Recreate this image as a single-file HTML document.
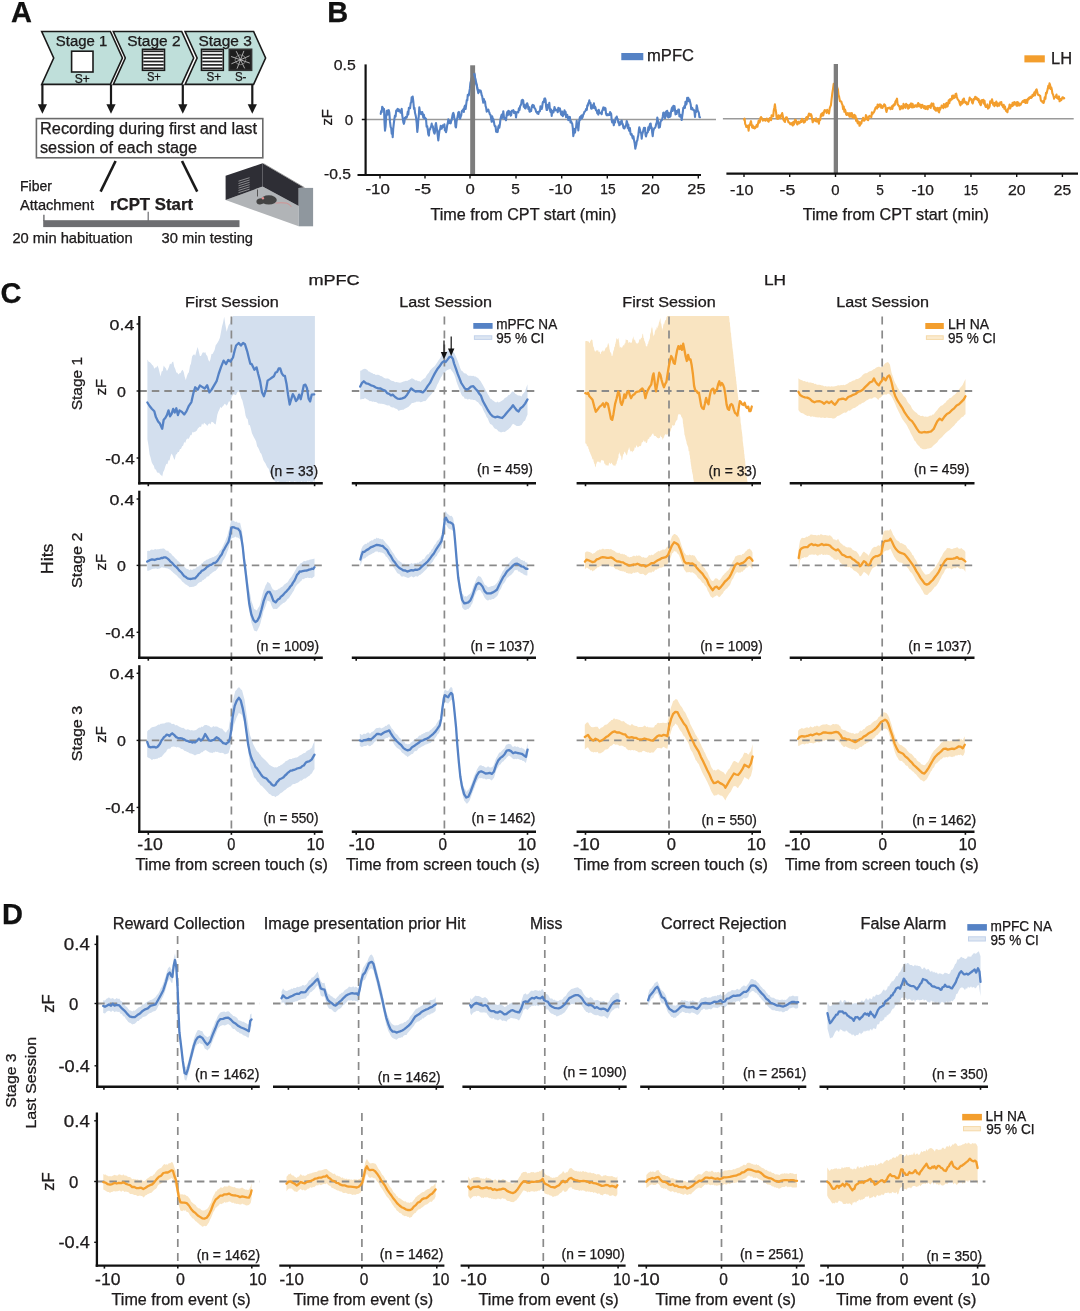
<!DOCTYPE html>
<html><head><meta charset="utf-8"><style>
html,body{margin:0;padding:0;background:#fff;}
svg{display:block;will-change:transform;}
text{font-family:"Liberation Sans",sans-serif;stroke:currentColor;stroke-width:0.25px;}
</style></head><body>
<svg width="1080" height="1311" viewBox="0 0 1080 1311" fill="#231f20">
<rect width="1080" height="1311" fill="#fff"/>
<text x="10.9" y="21.9" font-size="29" font-weight="bold" fill="#111">A</text>
<polygon points="41.7,31.5 110.4,31.5 122.4,58.0 110.4,84.4 41.7,84.4 53.7,58.0" fill="#bfdfda" stroke="#1a1a1a" stroke-width="1.6" stroke-linejoin="miter"/>
<polygon points="113.3,31.5 181.7,31.5 193.7,58.0 181.7,84.4 113.3,84.4 125.3,58.0" fill="#bfdfda" stroke="#1a1a1a" stroke-width="1.6" stroke-linejoin="miter"/>
<polygon points="185.1,31.5 253.6,31.5 265.6,58.0 253.6,84.4 185.1,84.4 197.1,58.0" fill="#bfdfda" stroke="#1a1a1a" stroke-width="1.6" stroke-linejoin="miter"/>
<text x="55.8" y="45.8" font-size="14" textLength="51.4" lengthAdjust="spacingAndGlyphs">Stage 1</text>
<text x="127.2" y="45.8" font-size="14" textLength="53.3" lengthAdjust="spacingAndGlyphs">Stage 2</text>
<text x="198.5" y="45.8" font-size="14" textLength="53.3" lengthAdjust="spacingAndGlyphs">Stage 3</text>
<rect x="71.6" y="51.2" width="21.4" height="20.8" fill="#fff" stroke="#1a1a1a" stroke-width="1.6"/>
<rect x="142.5" y="49.3" width="22.0" height="21.0" fill="#fff" stroke="#1a1a1a" stroke-width="1.6"/>
<line x1="143.3" y1="51.3" x2="163.7" y2="51.3" stroke="#222" stroke-width="1.7"/>
<line x1="143.3" y1="54.7" x2="163.7" y2="54.7" stroke="#222" stroke-width="1.7"/>
<line x1="143.3" y1="58.1" x2="163.7" y2="58.1" stroke="#222" stroke-width="1.7"/>
<line x1="143.3" y1="61.5" x2="163.7" y2="61.5" stroke="#222" stroke-width="1.7"/>
<line x1="143.3" y1="64.9" x2="163.7" y2="64.9" stroke="#222" stroke-width="1.7"/>
<line x1="143.3" y1="68.3" x2="163.7" y2="68.3" stroke="#222" stroke-width="1.7"/>
<rect x="201.5" y="49.3" width="21.8" height="21.0" fill="#fff" stroke="#1a1a1a" stroke-width="1.6"/>
<line x1="202.3" y1="51.3" x2="222.5" y2="51.3" stroke="#222" stroke-width="1.7"/>
<line x1="202.3" y1="54.7" x2="222.5" y2="54.7" stroke="#222" stroke-width="1.7"/>
<line x1="202.3" y1="58.1" x2="222.5" y2="58.1" stroke="#222" stroke-width="1.7"/>
<line x1="202.3" y1="61.5" x2="222.5" y2="61.5" stroke="#222" stroke-width="1.7"/>
<line x1="202.3" y1="64.9" x2="222.5" y2="64.9" stroke="#222" stroke-width="1.7"/>
<line x1="202.3" y1="68.3" x2="222.5" y2="68.3" stroke="#222" stroke-width="1.7"/>
<rect x="229.3" y="49.3" width="22.3" height="21.0" fill="#1e1e1e" stroke="#333" stroke-width="1.6"/>
<line x1="240.5" y1="59.8" x2="249.8" y2="63.1" stroke="#cfcfcf" stroke-width="0.8"/>
<line x1="240.5" y1="59.8" x2="244.7" y2="68.4" stroke="#cfcfcf" stroke-width="0.8"/>
<line x1="240.5" y1="59.8" x2="237.0" y2="68.7" stroke="#cfcfcf" stroke-width="0.8"/>
<line x1="240.5" y1="59.8" x2="231.4" y2="63.8" stroke="#cfcfcf" stroke-width="0.8"/>
<line x1="240.5" y1="59.8" x2="231.1" y2="56.5" stroke="#cfcfcf" stroke-width="0.8"/>
<line x1="240.5" y1="59.8" x2="236.2" y2="51.2" stroke="#cfcfcf" stroke-width="0.8"/>
<line x1="240.5" y1="59.8" x2="243.9" y2="50.9" stroke="#cfcfcf" stroke-width="0.8"/>
<line x1="240.5" y1="59.8" x2="249.5" y2="55.8" stroke="#cfcfcf" stroke-width="0.8"/>
<polygon points="244.7,63.0 240.9,64.8 236.9,63.6 235.0,60.2 236.2,56.6 240.0,54.8 244.0,56.0 245.9,59.4" fill="none" stroke="#aaa" stroke-width="0.6"/>
<text x="74.8" y="83.0" font-size="12" textLength="15.0" lengthAdjust="spacingAndGlyphs">S+</text>
<text x="146.9" y="81.2" font-size="12" textLength="14.0" lengthAdjust="spacingAndGlyphs">S+</text>
<text x="206.4" y="81.2" font-size="12" textLength="14.6" lengthAdjust="spacingAndGlyphs">S+</text>
<text x="234.9" y="81.2" font-size="12" textLength="11.5" lengthAdjust="spacingAndGlyphs">S-</text>
<line x1="42.4" y1="84.4" x2="42.4" y2="106.0" stroke="#1a1a1a" stroke-width="2.2"/>
<polygon points="37.8,104.2 47.0,104.2 42.4,113.8" fill="#1a1a1a"/>
<line x1="111.0" y1="84.4" x2="111.0" y2="106.0" stroke="#1a1a1a" stroke-width="2.2"/>
<polygon points="106.4,104.2 115.6,104.2 111.0,113.8" fill="#1a1a1a"/>
<line x1="182.8" y1="84.4" x2="182.8" y2="106.0" stroke="#1a1a1a" stroke-width="2.2"/>
<polygon points="178.2,104.2 187.4,104.2 182.8,113.8" fill="#1a1a1a"/>
<line x1="252.3" y1="84.4" x2="252.3" y2="106.0" stroke="#1a1a1a" stroke-width="2.2"/>
<polygon points="247.7,104.2 256.9,104.2 252.3,113.8" fill="#1a1a1a"/>
<rect x="36.4" y="118.6" width="226.4" height="39.2" fill="#fff" stroke="#6a6a6a" stroke-width="1.6"/>
<text x="40.0" y="133.9" font-size="15.8" textLength="217.0" lengthAdjust="spacingAndGlyphs">Recording during first and last</text>
<text x="40.0" y="153.2" font-size="15.8" textLength="157.0" lengthAdjust="spacingAndGlyphs">session of each stage</text>
<line x1="115.6" y1="161.0" x2="100.6" y2="191.6" stroke="#1a1a1a" stroke-width="2.6"/>
<line x1="182.0" y1="161.0" x2="197.2" y2="191.6" stroke="#1a1a1a" stroke-width="2.6"/>
<text x="20.0" y="190.6" font-size="14.3" textLength="32.0" lengthAdjust="spacingAndGlyphs">Fiber</text>
<text x="20.0" y="210.2" font-size="14.3" textLength="74.0" lengthAdjust="spacingAndGlyphs">Attachment</text>
<text x="110.0" y="210.2" font-size="16.6" textLength="83.0" lengthAdjust="spacingAndGlyphs" font-weight="bold">rCPT Start</text>
<rect x="43.2" y="220.2" width="196.3" height="6.9" fill="#6d6e71"/>
<line x1="43.9" y1="214.8" x2="43.9" y2="221.0" stroke="#6d6e71" stroke-width="1.4"/>
<line x1="148.2" y1="211.8" x2="148.2" y2="221.0" stroke="#6d6e71" stroke-width="1.2"/>
<text x="12.4" y="242.7" font-size="14.6" textLength="120.3" lengthAdjust="spacingAndGlyphs">20 min habituation</text>
<text x="161.5" y="242.7" font-size="14.6" textLength="91.5" lengthAdjust="spacingAndGlyphs">30 min testing</text>
<polygon points="225.6,199.9 262.6,186.5 298.7,205.9 298.7,226.3" fill="#b1b4b7"/>
<polygon points="225.6,175.8 262.6,163.3 262.6,186.5 225.6,199.9" fill="#2e2e35"/>
<polygon points="262.6,163.3 304.0,187.6 298.7,188.0 298.7,205.9 262.6,186.5" fill="#2e2e35"/>
<line x1="263.5" y1="163.6" x2="304.5" y2="187.6" stroke="#888" stroke-width="0.8"/>
<rect x="298.7" y="187.9" width="14.4" height="38.4" fill="#8f979e"/>
<line x1="238.5" y1="181.2" x2="249.6" y2="177.7" stroke="#c8c8c8" stroke-width="0.6"/>
<line x1="238.5" y1="183.5" x2="249.6" y2="180.0" stroke="#c8c8c8" stroke-width="0.6"/>
<line x1="238.5" y1="185.8" x2="249.6" y2="182.3" stroke="#c8c8c8" stroke-width="0.6"/>
<line x1="238.5" y1="188.1" x2="249.6" y2="184.6" stroke="#c8c8c8" stroke-width="0.6"/>
<line x1="238.5" y1="190.4" x2="249.6" y2="186.9" stroke="#c8c8c8" stroke-width="0.6"/>
<line x1="238.5" y1="192.7" x2="249.6" y2="189.2" stroke="#c8c8c8" stroke-width="0.6"/>
<line x1="257.5" y1="189.5" x2="257.5" y2="196.5" stroke="#555" stroke-width="1.0"/>
<ellipse cx="268.8" cy="199.9" rx="8.0" ry="4.6" fill="#444"/>
<ellipse cx="260.3" cy="201.4" rx="3.9" ry="3.0" fill="#444" transform="rotate(-15 260.3 201.4)"/>
<circle cx="262.9" cy="198.2" r="1.2" fill="#e39090"/>
<path d="M275.6 203.1 Q281 202.4 286.7 203.1 Q290.4 204.6 291.3 206.9" fill="none" stroke="#d98a8a" stroke-width="0.8"/>
<text x="327.3" y="22.4" font-size="29" font-weight="bold" fill="#111">B</text>
<line x1="365.6" y1="119.5" x2="716.0" y2="119.5" stroke="#9a9a9a" stroke-width="1.5"/>
<polyline points="380.7,113.9 381.2,111.0 381.7,112.1 382.2,106.7 382.7,107.5 383.3,108.7 384.0,109.0 384.5,122.5 385.0,130.6 385.6,126.3 386.1,117.4 386.7,110.9 387.2,112.5 387.7,114.6 388.3,110.1 388.8,110.3 389.3,112.4 390.0,121.9 390.7,127.1 391.2,128.1 391.7,133.7 392.2,130.2 392.7,137.2 393.2,129.2 393.8,123.7 394.4,119.0 395.0,115.5 395.6,116.5 396.2,110.6 396.8,110.9 397.3,109.2 397.8,108.8 398.3,111.1 398.8,109.5 399.3,110.7 399.9,110.7 400.5,112.7 401.1,110.4 401.7,108.9 402.2,115.0 402.8,118.6 403.3,122.1 403.9,123.8 404.4,121.9 404.9,117.8 405.5,118.4 406.0,116.8 406.6,117.7 407.2,115.5 407.8,111.6 408.3,114.5 408.9,107.7 409.5,107.8 410.1,108.2 410.7,102.9 411.2,102.4 411.7,97.2 412.2,98.5 412.7,96.6 413.3,101.3 414.0,108.9 414.5,108.0 415.0,112.8 415.5,114.7 416.0,117.1 416.7,123.1 417.3,132.0 417.8,127.7 418.3,119.8 418.8,116.0 419.3,107.4 419.9,111.6 420.5,111.7 421.1,114.2 421.7,113.6 422.2,112.0 422.8,114.3 423.3,117.7 423.9,114.8 424.4,118.4 424.9,117.7 425.5,118.4 426.0,119.0 426.6,126.6 427.2,126.1 427.8,130.2 428.3,134.3 428.9,135.6 429.4,129.2 430.0,129.7 430.6,127.5 431.1,126.7 431.7,123.6 432.2,126.8 432.8,126.2 433.4,129.9 434.0,132.5 434.5,133.6 435.0,131.9 435.5,125.0 436.0,123.1 436.6,127.1 437.2,130.9 437.8,136.2 438.3,140.5 438.9,135.2 439.5,130.4 440.1,129.5 440.7,125.9 441.2,126.7 441.7,128.7 442.3,126.8 442.8,125.4 443.3,125.7 443.9,127.1 444.4,124.3 444.9,130.4 445.5,130.7 446.0,132.2 446.6,129.7 447.2,125.2 447.8,123.1 448.3,119.3 448.9,123.3 449.5,120.7 450.1,121.6 450.7,123.3 451.2,121.0 451.7,120.0 452.3,116.3 452.8,114.0 453.3,112.9 453.9,114.9 454.4,118.8 454.9,119.2 455.5,126.6 456.0,127.4 456.6,121.2 457.2,118.5 457.8,115.8 458.3,112.5 458.9,111.9 459.5,117.1 460.1,118.8 460.7,116.5 461.2,115.3 461.7,111.7 462.2,110.5 462.7,110.7 463.2,109.4 463.8,112.0 464.4,107.1 465.0,105.5 465.6,109.0 466.2,104.3 466.8,100.0 467.3,100.3 467.8,94.7 468.3,95.2 468.8,95.4 469.3,92.2 469.9,88.4 470.4,83.0 471.0,80.9 471.6,78.0 472.1,80.0 472.7,76.9 473.3,76.7 474.0,72.3 474.7,74.2 475.3,80.2 476.0,83.7 476.7,85.4 477.2,87.9 477.8,90.8 478.3,93.1 478.9,90.0 479.4,91.8 480.0,90.8 480.6,90.5 481.1,92.2 481.7,95.3 482.2,96.3 482.8,100.0 483.3,102.7 483.9,99.1 484.4,101.5 485.0,101.3 485.6,106.1 486.1,107.5 486.7,111.7 487.2,111.0 487.7,110.2 488.3,109.6 488.8,111.4 489.3,112.4 489.9,114.5 490.5,114.9 491.1,118.4 491.7,121.8 492.2,116.4 492.8,118.7 493.3,119.1 493.9,121.7 494.4,124.8 495.0,126.5 495.6,126.4 496.1,131.7 496.7,130.7 497.2,132.1 497.7,131.8 498.3,127.0 498.8,125.7 499.3,127.7 499.9,124.3 500.5,118.9 501.1,116.5 501.7,114.6 502.2,118.0 502.8,116.3 503.3,111.2 503.9,116.6 504.4,118.9 504.9,118.3 505.5,117.8 506.0,120.3 506.6,115.3 507.2,112.1 507.8,115.3 508.3,110.9 508.9,111.0 509.5,114.3 510.1,112.1 510.7,115.6 511.2,115.0 511.7,110.9 512.3,110.8 512.8,110.8 513.3,110.1 513.9,112.9 514.4,111.6 514.9,113.2 515.5,112.1 516.0,117.5 516.6,112.9 517.2,112.2 517.8,111.8 518.3,112.4 518.9,108.3 519.5,110.0 520.1,106.3 520.7,105.2 521.2,104.3 521.7,100.4 522.2,102.1 522.7,99.8 523.2,100.4 523.8,106.8 524.4,104.7 525.0,108.2 525.6,108.4 526.2,106.2 526.8,103.5 527.3,103.4 527.9,105.7 528.4,109.0 528.9,107.0 529.5,111.7 530.0,111.8 530.5,110.0 531.1,111.0 531.6,107.4 532.1,105.7 532.7,104.9 533.2,107.1 533.8,105.5 534.4,107.8 535.0,108.4 535.6,109.7 536.2,112.0 536.8,111.8 537.3,113.5 537.9,112.2 538.4,114.0 538.9,111.5 539.5,111.6 540.0,111.0 540.5,106.2 541.1,107.4 541.6,109.0 542.1,107.7 542.7,102.8 543.2,101.5 543.8,102.2 544.4,98.7 545.0,98.4 545.6,100.2 546.1,106.6 546.7,110.0 547.2,110.0 547.7,104.9 548.3,107.6 548.8,106.6 549.3,102.9 549.9,109.4 550.5,112.0 551.1,109.6 551.7,116.0 552.2,111.5 552.8,110.8 553.4,112.5 554.0,110.3 554.5,107.0 555.1,109.3 555.6,110.4 556.1,110.0 556.7,109.8 557.2,110.2 557.7,112.3 558.3,107.8 558.8,110.7 559.3,109.6 559.9,108.4 560.5,111.5 561.1,114.5 561.7,115.1 562.2,111.6 562.8,116.2 563.4,114.2 564.0,114.5 564.5,110.3 565.1,112.3 565.6,111.9 566.1,117.3 566.7,115.3 567.2,114.8 567.7,116.9 568.3,120.1 568.8,119.9 569.3,116.9 569.9,117.1 570.5,122.5 571.1,121.3 571.7,122.9 572.2,123.6 572.8,127.9 573.3,136.1 573.9,132.9 574.4,129.1 575.0,132.6 575.6,128.6 576.1,127.4 576.7,120.8 577.2,127.1 577.8,124.1 578.3,130.5 578.9,124.2 579.4,119.6 580.0,117.0 580.5,119.6 581.1,115.9 581.6,115.4 582.1,118.2 582.7,116.8 583.2,114.7 583.8,113.8 584.4,111.9 585.0,111.5 585.6,110.5 586.2,108.8 586.8,109.9 587.3,105.4 587.8,105.8 588.3,103.1 588.8,103.2 589.3,100.4 589.9,103.1 590.5,102.9 591.1,108.5 591.7,108.6 592.2,105.4 592.8,106.0 593.3,107.6 593.9,103.3 594.4,108.2 594.9,106.6 595.5,107.6 596.0,110.3 596.7,110.2 597.3,113.4 597.8,113.6 598.3,114.6 598.8,109.9 599.3,112.0 599.9,112.5 600.5,113.3 601.1,113.2 601.7,114.1 602.2,110.7 602.8,109.4 603.4,107.4 604.0,109.8 604.5,107.7 605.0,108.0 605.5,108.3 606.0,113.7 606.6,115.1 607.2,115.2 607.8,114.1 608.3,115.1 608.9,114.6 609.5,114.8 610.1,112.1 610.7,113.0 611.2,114.0 611.7,120.3 612.2,122.4 612.7,121.9 613.2,120.6 613.8,125.3 614.4,121.8 615.0,122.5 615.6,118.1 616.1,118.2 616.7,116.5 617.2,118.7 617.7,118.9 618.3,122.7 618.8,121.7 619.3,125.3 619.9,123.4 620.5,124.4 621.1,121.4 621.7,120.5 622.2,123.4 622.8,124.2 623.4,127.6 624.0,128.5 624.5,128.5 625.1,126.6 625.6,125.6 626.1,125.3 626.7,121.0 627.2,122.3 627.7,127.9 628.3,124.6 628.8,129.7 629.3,130.9 629.9,128.1 630.5,133.7 631.1,134.9 631.7,134.1 632.2,136.4 632.8,138.5 633.4,136.2 634.0,140.1 634.7,143.4 635.3,148.7 635.8,146.4 636.3,144.5 636.8,140.9 637.3,140.7 637.8,137.3 638.3,135.3 638.8,130.5 639.3,127.2 639.9,129.5 640.5,132.5 641.1,132.6 641.7,138.7 642.2,134.5 642.8,132.4 643.4,129.9 644.0,127.8 644.5,128.7 645.0,127.9 645.5,134.7 646.0,136.5 646.6,133.8 647.2,132.7 647.8,132.2 648.3,127.4 648.9,130.2 649.5,126.0 650.1,123.7 650.7,123.6 651.2,128.5 651.7,127.4 652.2,132.7 652.7,136.2 653.2,131.6 653.8,129.3 654.4,128.2 655.0,127.8 655.6,126.6 656.2,124.0 656.8,122.5 657.3,117.5 657.8,120.0 658.3,122.7 658.8,127.7 659.3,127.2 659.9,127.1 660.5,122.1 661.1,120.7 661.7,120.3 662.2,119.4 662.8,116.2 663.3,112.7 663.9,112.6 664.4,116.2 665.0,118.1 665.6,115.9 666.1,111.6 666.7,114.0 667.2,110.9 667.7,116.5 668.3,117.3 668.8,112.8 669.3,116.4 669.9,116.9 670.5,116.1 671.1,111.4 671.7,108.6 672.2,107.4 672.8,111.0 673.4,105.8 674.0,107.2 674.5,106.2 675.0,110.1 675.5,114.4 676.0,111.1 676.6,114.0 677.2,110.9 677.8,111.9 678.3,109.6 678.9,109.5 679.4,116.3 680.0,116.6 680.6,114.9 681.1,115.9 681.7,120.0 682.2,116.4 682.8,112.1 683.3,107.8 683.9,107.7 684.4,106.2 684.9,108.0 685.5,101.7 686.0,104.8 686.6,103.7 687.2,97.7 687.8,100.9 688.3,97.9 688.9,101.2 689.5,99.6 690.1,102.1 690.7,104.4 691.2,109.2 691.7,108.0 692.2,107.9 692.7,109.6 693.2,109.9 693.8,109.8 694.4,111.4 695.0,117.0 695.6,110.9 696.1,112.1 696.7,105.2 697.2,107.5 697.8,111.2 698.3,111.5 698.9,113.1 699.4,117.2 700.0,117.3" fill="none" stroke="#5582c5" stroke-width="2.1" stroke-linejoin="round" stroke-linecap="round"/>
<rect x="470.2" y="65.3" width="4.9" height="109.7" fill="#7d7d7d"/>
<polyline points="474.0,74.0 475.3,78.6 476.7,84.2 477.5,88.4 478.3,91.8" fill="none" stroke="#5582c5" stroke-width="1.9" stroke-linejoin="round" stroke-linecap="round"/>
<line x1="365.6" y1="64.4" x2="365.6" y2="176.0" stroke="#111" stroke-width="2.2"/>
<line x1="357.5" y1="175.0" x2="701.0" y2="175.0" stroke="#111" stroke-width="2.2"/>
<line x1="361.8" y1="119.5" x2="365.6" y2="119.5" stroke="#111" stroke-width="1.5"/>
<line x1="380.0" y1="175.0" x2="380.0" y2="178.5" stroke="#111" stroke-width="1.4"/>
<line x1="425.0" y1="175.0" x2="425.0" y2="178.5" stroke="#111" stroke-width="1.4"/>
<line x1="470.0" y1="175.0" x2="470.0" y2="178.5" stroke="#111" stroke-width="1.4"/>
<line x1="516.0" y1="175.0" x2="516.0" y2="178.5" stroke="#111" stroke-width="1.4"/>
<line x1="561.7" y1="175.0" x2="561.7" y2="178.5" stroke="#111" stroke-width="1.4"/>
<line x1="607.3" y1="175.0" x2="607.3" y2="178.5" stroke="#111" stroke-width="1.4"/>
<line x1="652.7" y1="175.0" x2="652.7" y2="178.5" stroke="#111" stroke-width="1.4"/>
<line x1="698.3" y1="175.0" x2="698.3" y2="178.5" stroke="#111" stroke-width="1.4"/>
<text x="377.6" y="194.3" font-size="15.5" text-anchor="middle" textLength="24.3" lengthAdjust="spacingAndGlyphs">-10</text>
<text x="422.9" y="194.3" font-size="15.5" text-anchor="middle" textLength="16.7" lengthAdjust="spacingAndGlyphs">-5</text>
<text x="470.1" y="194.3" font-size="15.5" text-anchor="middle" textLength="9.3" lengthAdjust="spacingAndGlyphs">0</text>
<text x="515.5" y="194.3" font-size="15.5" text-anchor="middle" textLength="8.6" lengthAdjust="spacingAndGlyphs">5</text>
<text x="560.5" y="194.3" font-size="15.5" text-anchor="middle" textLength="23.4" lengthAdjust="spacingAndGlyphs">-10</text>
<text x="607.9" y="194.3" font-size="15.5" text-anchor="middle" textLength="15.3" lengthAdjust="spacingAndGlyphs">15</text>
<text x="650.5" y="194.3" font-size="15.5" text-anchor="middle" textLength="18.6" lengthAdjust="spacingAndGlyphs">20</text>
<text x="696.4" y="194.3" font-size="15.5" text-anchor="middle" textLength="18.3" lengthAdjust="spacingAndGlyphs">25</text>
<text x="333.8" y="69.9" font-size="15.5" textLength="22.0" lengthAdjust="spacingAndGlyphs">0.5</text>
<text x="344.8" y="125.0" font-size="15.5" textLength="8.4" lengthAdjust="spacingAndGlyphs">0</text>
<text x="324.0" y="179.2" font-size="15.5" textLength="26.9" lengthAdjust="spacingAndGlyphs">-0.5</text>
<text x="332.0" y="117.3" font-size="15" text-anchor="middle" textLength="16.5" lengthAdjust="spacingAndGlyphs" transform="rotate(-90 332.0 117.3)">zF</text>
<text x="430.5" y="220.0" font-size="16" textLength="186.0" lengthAdjust="spacingAndGlyphs">Time from CPT start (min)</text>
<rect x="621.3" y="53.0" width="22.0" height="7.2" fill="#5582c5"/>
<text x="647.0" y="60.9" font-size="16.5" textLength="47.0" lengthAdjust="spacingAndGlyphs">mPFC</text>
<line x1="722.9" y1="118.7" x2="1073.7" y2="118.7" stroke="#9a9a9a" stroke-width="1.5"/>
<polyline points="744.0,119.7 744.6,118.6 745.2,124.0 745.7,124.8 746.3,126.9 746.9,127.1 747.4,126.1 748.0,125.7 748.6,130.6 749.2,125.1 749.8,125.2 750.4,123.0 751.0,121.2 751.6,124.9 752.2,127.5 752.8,125.6 753.3,128.0 753.9,126.8 754.5,128.5 755.0,128.2 755.6,127.6 756.2,126.1 756.8,124.8 757.4,126.7 758.1,123.2 758.7,120.6 759.3,122.6 759.9,121.7 760.5,117.7 761.1,117.1 761.6,118.2 762.2,118.5 762.8,120.6 763.3,120.2 763.9,120.1 764.5,119.3 765.0,120.0 765.6,120.7 766.2,119.2 766.8,118.6 767.4,119.7 768.0,121.2 768.6,121.6 769.2,120.4 769.8,118.0 770.5,118.0 771.1,120.2 771.6,115.3 772.1,116.2 772.7,115.9 773.2,116.2 773.8,110.2 774.4,107.5 774.9,104.4 775.5,108.7 776.1,112.4 776.7,118.4 777.3,118.3 777.9,118.9 778.6,115.2 779.2,115.7 779.8,118.1 780.4,118.1 781.0,115.2 781.6,114.9 782.2,113.1 782.8,116.0 783.3,119.7 783.9,120.2 784.4,121.4 785.0,121.8 785.6,118.1 786.1,117.2 786.7,117.2 787.3,118.8 787.9,120.4 788.5,122.5 789.1,122.4 789.7,122.9 790.3,124.2 791.0,123.4 791.6,124.5 792.2,122.8 792.8,125.5 793.3,122.0 793.9,124.5 794.4,122.3 795.0,119.8 795.6,119.7 796.1,121.0 796.7,123.5 797.3,124.5 797.8,122.4 798.4,121.7 799.0,123.4 799.7,123.1 800.3,121.7 800.9,120.5 801.5,122.0 802.1,118.8 802.7,119.8 803.3,120.4 803.9,122.6 804.4,120.8 805.0,121.8 805.6,119.6 806.1,117.7 806.7,117.1 807.2,119.8 807.8,117.9 808.4,115.3 809.0,113.5 809.6,115.3 810.2,115.7 810.8,114.1 811.5,115.2 812.1,119.1 812.7,122.3 813.3,120.9 813.9,119.5 814.4,120.4 815.0,120.3 815.6,121.1 816.1,118.3 816.7,121.5 817.2,121.6 817.8,120.8 818.4,119.7 818.9,123.7 819.5,119.0 820.2,119.9 820.8,115.4 821.4,113.8 822.0,115.8 822.6,112.9 823.2,115.5 823.9,112.7 824.4,110.6 824.9,110.1 825.4,110.4 826.0,111.0 826.6,113.0 827.2,109.8 827.8,111.6 828.4,111.3 829.0,113.6 829.7,108.3 830.3,106.6 830.9,105.3 831.6,99.0 832.3,93.5 833.0,89.0 833.7,83.9 834.3,86.3 834.9,87.2 835.5,85.5 836.0,82.1 836.5,83.1 837.2,87.5 837.9,89.3 838.5,95.0 839.0,96.3 839.5,98.9 840.0,101.3 840.7,101.4 841.3,101.5 841.9,103.7 842.5,104.9 843.1,109.2 843.7,106.5 844.4,111.8 845.0,109.5 845.5,111.1 846.1,114.2 846.7,115.0 847.2,114.0 847.8,113.0 848.3,114.9 848.9,114.3 849.5,116.7 850.0,113.1 850.6,113.8 851.2,116.8 851.8,113.1 852.4,115.3 853.1,117.7 853.7,117.9 854.3,114.9 854.9,115.3 855.5,115.9 856.1,120.8 856.7,118.5 857.2,121.7 857.8,123.3 858.3,121.4 858.9,121.8 859.5,125.8 860.1,124.9 860.7,122.3 861.3,123.6 861.9,120.8 862.6,119.7 863.1,117.7 863.7,120.6 864.3,120.7 864.8,118.6 865.4,119.4 865.9,115.1 866.5,116.3 867.1,117.6 867.6,120.0 868.2,120.1 868.8,117.0 869.4,115.9 870.0,116.3 870.7,116.2 871.3,117.1 871.9,112.4 872.5,114.2 873.1,112.8 873.7,112.5 874.2,111.5 874.8,110.0 875.4,108.0 875.9,107.2 876.5,107.0 877.1,108.5 877.6,104.6 878.2,104.7 878.7,106.9 879.4,104.9 880.0,104.4 880.6,104.7 881.2,107.7 881.8,105.7 882.4,108.0 883.1,106.6 883.7,106.2 884.2,104.2 884.8,104.7 885.4,106.2 885.9,109.5 886.5,111.9 887.1,109.8 887.6,108.0 888.2,108.0 888.7,108.1 889.3,107.5 889.9,108.2 890.5,109.1 891.2,108.6 891.8,106.3 892.4,108.9 893.0,105.4 893.6,105.8 894.2,104.0 894.8,104.9 895.4,101.5 895.9,100.8 896.5,100.0 897.0,98.7 897.6,104.3 898.2,105.0 898.8,105.9 899.4,106.4 900.0,109.4 900.7,107.3 901.3,106.1 901.8,108.5 902.4,107.3 903.0,108.5 903.5,103.8 904.1,105.2 904.6,107.0 905.1,107.3 905.6,107.9 906.1,103.9 906.6,105.3 907.1,104.7 907.6,105.2 908.1,108.7 908.6,106.5 909.1,107.9 909.6,104.9 910.1,107.0 910.6,104.7 911.1,103.4 911.6,106.3 912.1,107.5 912.6,103.9 913.1,106.7 913.6,107.2 914.1,105.7 914.6,106.8 915.1,105.4 915.6,105.4 916.1,105.3 916.6,106.7 917.2,106.6 917.7,104.2 918.2,103.0 918.7,104.7 919.2,106.6 919.7,104.4 920.2,105.2 920.7,104.9 921.2,107.9 921.7,106.9 922.2,104.8 922.7,105.2 923.2,106.8 923.7,107.8 924.2,108.4 924.7,106.0 925.2,106.5 925.7,108.9 926.2,107.3 926.7,106.5 927.2,106.4 927.7,109.3 928.2,106.0 928.7,107.0 929.2,105.7 929.7,105.7 930.2,107.6 930.7,107.9 931.2,104.5 931.7,103.4 932.2,105.7 932.8,103.9 933.4,103.6 933.9,108.6 934.5,107.0 935.0,109.7 935.5,108.1 936.1,110.8 936.6,109.1 937.1,108.1 937.6,107.8 938.1,110.8 938.6,111.6 939.1,112.3 939.6,107.7 940.1,109.7 940.6,107.9 941.1,107.9 941.6,105.6 942.1,105.7 942.7,106.5 943.3,108.2 943.9,104.0 944.5,105.6 945.0,106.9 945.6,107.4 946.1,103.4 946.6,102.9 947.1,106.5 947.6,106.4 948.1,103.8 948.7,100.4 949.3,103.3 949.9,99.4 950.5,100.6 951.1,98.8 951.7,99.5 952.2,95.9 952.8,98.6 953.3,95.5 953.9,96.0 954.5,97.8 955.0,97.4 955.6,93.9 956.2,93.7 956.8,96.4 957.4,98.7 958.0,99.8 958.6,100.3 959.2,101.4 959.9,104.1 960.5,105.4 961.1,101.7 961.6,103.5 962.2,103.7 962.8,99.6 963.3,102.7 963.9,98.5 964.4,101.5 964.9,101.8 965.4,102.8 965.9,101.9 966.4,103.0 966.9,104.4 967.4,104.2 968.0,104.2 968.5,101.9 969.1,100.7 969.7,97.5 970.2,99.2 970.8,99.4 971.5,99.1 972.1,102.5 972.7,103.5 973.3,101.1 973.9,98.8 974.5,99.4 975.2,96.7 975.7,97.2 976.3,99.0 976.8,97.7 977.4,99.7 978.0,100.4 978.5,98.9 979.1,102.4 979.7,100.5 980.2,104.3 980.8,105.2 981.4,103.1 982.0,100.0 982.6,101.3 983.3,99.8 983.9,103.6 984.5,100.7 985.1,105.3 985.7,107.0 986.3,106.1 986.8,107.0 987.4,104.4 988.0,108.6 988.5,106.7 989.1,107.6 989.7,106.2 990.2,101.3 990.8,103.0 991.3,102.4 992.0,99.3 992.6,101.8 993.2,104.8 993.8,103.0 994.4,106.1 995.0,102.8 995.7,105.1 996.3,101.5 996.8,103.7 997.4,106.2 998.0,103.3 998.5,104.0 999.1,105.7 999.6,104.3 1000.2,102.4 1000.8,102.6 1001.3,102.1 1001.9,105.3 1002.5,105.1 1003.1,107.2 1003.7,104.8 1004.4,108.8 1005.0,106.6 1005.6,109.7 1006.2,111.2 1006.8,111.0 1007.4,112.2 1007.9,109.4 1008.4,108.3 1008.9,108.5 1009.6,104.5 1010.2,108.5 1010.8,106.5 1011.4,105.1 1012.0,106.2 1012.6,102.8 1013.2,105.4 1013.9,102.5 1014.4,102.0 1015.0,104.4 1015.6,103.3 1016.1,102.6 1016.7,105.8 1017.2,102.1 1017.8,105.6 1018.4,102.6 1018.9,104.1 1019.5,105.5 1020.1,104.0 1020.7,104.7 1021.3,103.3 1022.0,102.2 1022.6,101.3 1023.2,100.8 1023.8,102.0 1024.4,100.0 1025.0,100.8 1025.5,103.0 1026.1,99.7 1026.7,100.5 1027.2,102.9 1027.8,99.1 1028.4,98.3 1028.9,99.3 1029.5,97.4 1030.0,97.9 1030.7,96.7 1031.3,97.8 1031.9,97.2 1032.5,94.7 1033.1,96.0 1033.7,94.6 1034.4,92.3 1035.0,95.4 1035.5,91.4 1036.0,90.2 1036.6,89.3 1037.1,91.2 1037.7,93.9 1038.3,95.0 1038.9,94.8 1039.5,95.7 1040.2,95.8 1040.8,100.2 1041.4,101.1 1042.0,101.4 1042.5,102.4 1043.1,101.0 1043.6,102.9 1044.1,101.5 1044.7,97.4 1045.4,98.8 1046.0,92.9 1046.6,93.5 1047.2,91.1 1047.8,88.6 1048.3,85.9 1048.9,88.2 1049.5,83.4 1050.1,84.8 1050.7,89.0 1051.3,87.5 1051.9,90.1 1052.4,93.5 1053.0,94.4 1053.6,96.5 1054.1,98.7 1054.7,97.1 1055.3,97.1 1055.9,96.4 1056.5,94.6 1057.1,98.0 1057.8,98.4 1058.4,98.9 1059.0,96.4 1059.6,101.3 1060.2,100.6 1060.7,99.1 1061.3,100.2 1061.9,98.6 1062.4,97.3 1063.0,97.3 1063.6,98.5 1064.2,98.2" fill="none" stroke="#f39e2d" stroke-width="2.1" stroke-linejoin="round" stroke-linecap="round"/>
<rect x="833.7" y="64.0" width="4.3" height="109.6" fill="#7d7d7d"/>
<line x1="726.4" y1="173.6" x2="1078.0" y2="173.6" stroke="#111" stroke-width="2.2"/>
<line x1="744.0" y1="173.6" x2="744.0" y2="177.0" stroke="#111" stroke-width="1.4"/>
<line x1="789.7" y1="173.6" x2="789.7" y2="177.0" stroke="#111" stroke-width="1.4"/>
<line x1="835.5" y1="173.6" x2="835.5" y2="177.0" stroke="#111" stroke-width="1.4"/>
<line x1="880.0" y1="173.6" x2="880.0" y2="177.0" stroke="#111" stroke-width="1.4"/>
<line x1="925.0" y1="173.6" x2="925.0" y2="177.0" stroke="#111" stroke-width="1.4"/>
<line x1="971.0" y1="173.6" x2="971.0" y2="177.0" stroke="#111" stroke-width="1.4"/>
<line x1="1016.7" y1="173.6" x2="1016.7" y2="177.0" stroke="#111" stroke-width="1.4"/>
<line x1="1062.4" y1="173.6" x2="1062.4" y2="177.0" stroke="#111" stroke-width="1.4"/>
<text x="741.7" y="195.2" font-size="15.5" text-anchor="middle" textLength="23.3" lengthAdjust="spacingAndGlyphs">-10</text>
<text x="787.4" y="195.2" font-size="15.5" text-anchor="middle" textLength="15.7" lengthAdjust="spacingAndGlyphs">-5</text>
<text x="835.5" y="195.2" font-size="15.5" text-anchor="middle" textLength="8.3" lengthAdjust="spacingAndGlyphs">0</text>
<text x="880.0" y="195.2" font-size="15.5" text-anchor="middle" textLength="7.6" lengthAdjust="spacingAndGlyphs">5</text>
<text x="922.7" y="195.2" font-size="15.5" text-anchor="middle" textLength="22.4" lengthAdjust="spacingAndGlyphs">-10</text>
<text x="971.0" y="195.2" font-size="15.5" text-anchor="middle" textLength="14.3" lengthAdjust="spacingAndGlyphs">15</text>
<text x="1016.7" y="195.2" font-size="15.5" text-anchor="middle" textLength="17.6" lengthAdjust="spacingAndGlyphs">20</text>
<text x="1062.4" y="195.2" font-size="15.5" text-anchor="middle" textLength="17.3" lengthAdjust="spacingAndGlyphs">25</text>
<text x="802.7" y="220.0" font-size="16" textLength="186.3" lengthAdjust="spacingAndGlyphs">Time from CPT start (min)</text>
<rect x="1024.4" y="55.3" width="20.4" height="7.1" fill="#f39e2d"/>
<text x="1051.0" y="63.8" font-size="16.5" textLength="21.0" lengthAdjust="spacingAndGlyphs">LH</text>
<text x="0.4" y="302.6" font-size="29" font-weight="bold" fill="#111">C</text>
<text x="308.4" y="285.3" font-size="15.5" textLength="51.3" lengthAdjust="spacingAndGlyphs">mPFC</text>
<text x="763.9" y="285.3" font-size="15.5" textLength="22.1" lengthAdjust="spacingAndGlyphs">LH</text>
<text x="185.0" y="307.0" font-size="15.5" textLength="93.7" lengthAdjust="spacingAndGlyphs">First Session</text>
<text x="399.2" y="307.0" font-size="15.5" textLength="92.7" lengthAdjust="spacingAndGlyphs">Last Session</text>
<text x="622.3" y="307.0" font-size="15.5" textLength="93.4" lengthAdjust="spacingAndGlyphs">First Session</text>
<text x="836.2" y="307.0" font-size="15.5" textLength="92.7" lengthAdjust="spacingAndGlyphs">Last Session</text>
<polygon points="147.4,359.6 148.6,361.7 149.9,362.2 151.1,363.4 152.2,365.1 153.2,365.8 154.3,368.8 155.3,367.4 156.4,367.5 157.4,365.6 158.5,367.9 159.5,372.2 160.6,376.4 161.6,371.4 162.7,370.9 163.7,365.5 164.8,367.3 165.8,368.3 166.9,371.0 167.9,369.5 169.0,366.8 170.0,363.4 171.1,364.6 172.1,362.3 173.2,361.5 174.2,366.8 175.3,369.0 176.3,372.4 177.4,372.8 178.4,374.4 179.5,373.3 180.5,372.9 181.6,370.8 182.6,369.8 183.7,372.1 184.7,376.7 185.8,379.9 186.8,376.4 187.9,373.5 188.9,372.2 190.0,365.7 191.0,363.6 192.1,356.5 193.1,355.0 194.2,354.2 195.2,355.8 196.5,350.8 197.7,347.0 198.8,351.4 199.9,356.1 201.0,356.1 202.0,353.8 203.1,351.9 204.1,353.1 205.2,352.0 206.2,354.7 207.3,356.1 208.3,359.7 209.4,361.8 210.4,359.4 211.5,354.1 212.5,354.1 213.6,352.1 214.6,350.1 215.7,345.3 216.7,344.1 217.8,342.2 218.8,340.4 219.9,337.7 220.9,332.4 222.0,326.6 223.1,322.4 224.2,316.7 225.4,325.0 226.7,331.7 227.7,328.0 228.8,324.8 229.8,323.8 230.9,319.7 231.9,317.8 233.0,316.0 234.0,316.0 235.0,316.0 236.0,316.0 237.0,316.0 238.1,316.0 239.1,316.0 240.1,316.0 241.1,316.0 242.1,316.0 243.1,316.0 244.1,316.0 245.1,316.0 246.1,316.0 247.1,316.0 248.2,316.0 249.2,316.0 250.2,316.0 251.2,316.0 252.2,316.0 253.2,316.0 254.2,316.0 255.2,316.0 256.2,316.0 257.3,316.0 258.3,316.0 259.3,316.0 260.3,316.0 261.3,316.0 262.3,316.0 263.3,316.0 264.3,316.0 265.3,316.0 266.3,316.0 267.4,316.0 268.4,316.0 269.4,316.0 270.4,316.0 271.4,316.0 272.4,316.0 273.4,316.0 274.4,316.0 275.4,316.0 276.5,316.0 277.5,316.0 278.5,316.0 279.5,316.0 280.5,316.0 281.5,316.0 282.5,316.0 283.5,316.0 284.5,316.0 285.6,316.0 286.6,316.0 287.6,316.0 288.6,316.0 289.6,316.0 290.6,316.0 291.6,316.0 292.6,316.0 293.6,316.0 294.6,316.0 295.7,316.0 296.7,316.0 297.7,316.0 298.7,316.0 299.7,316.0 300.7,316.0 301.7,316.0 302.7,316.0 303.7,316.0 304.8,316.0 305.8,316.0 306.8,316.0 307.8,316.0 308.8,316.0 309.8,316.0 310.8,316.0 311.8,316.0 312.8,316.0 313.9,316.0 314.9,316.0 314.9,482.2 313.8,480.7 312.8,482.0 311.8,483.2 310.8,482.9 309.8,480.9 308.7,482.1 307.7,480.5 306.7,483.2 305.7,481.9 304.6,481.6 303.6,482.9 302.6,482.5 301.6,481.0 300.6,483.2 299.5,482.5 298.5,481.7 297.5,482.4 296.5,481.8 295.5,481.7 294.4,481.2 293.4,482.4 292.4,482.7 291.4,482.9 290.4,481.7 289.3,480.7 288.3,482.4 287.3,481.4 286.3,481.8 285.2,482.4 284.2,482.6 283.2,483.1 282.2,482.6 281.2,482.9 280.1,483.2 279.1,482.7 278.1,481.1 277.1,481.7 276.0,482.2 275.0,481.2 273.9,480.2 272.9,479.6 271.8,477.0 270.8,473.8 269.7,472.3 268.7,468.8 267.6,467.7 266.6,466.1 265.5,463.6 264.5,462.1 263.4,460.3 262.4,457.0 261.3,453.7 260.3,452.8 259.2,450.1 258.2,447.7 257.1,446.2 256.1,441.6 255.0,439.3 254.0,437.6 252.9,435.2 251.9,433.1 250.8,428.6 249.8,425.1 248.7,425.2 247.7,419.3 246.6,418.2 245.6,415.8 244.5,409.1 243.5,405.3 242.4,400.6 241.4,398.6 240.3,394.8 239.3,391.4 238.2,391.7 237.2,392.2 236.1,394.9 235.1,395.0 234.0,394.2 233.0,394.4 231.9,396.7 230.9,400.8 229.8,401.6 228.8,401.5 227.7,404.0 226.7,405.7 225.7,404.6 224.6,403.8 223.6,405.6 222.5,406.4 221.5,408.0 220.4,406.9 219.4,409.5 218.3,411.7 217.3,414.8 215.7,424.5 214.6,424.0 213.6,422.8 212.5,422.0 211.5,421.8 210.4,424.4 209.4,423.3 208.3,424.3 207.3,426.1 206.2,424.5 205.2,423.8 204.1,422.7 203.1,425.0 202.0,423.5 201.0,427.1 199.9,426.5 198.9,427.6 197.8,428.5 196.8,430.4 195.7,431.5 194.7,431.7 193.6,432.5 192.6,431.8 191.5,435.2 190.5,435.1 189.4,437.4 188.4,439.1 187.3,438.6 186.3,439.8 185.2,443.0 184.2,441.9 183.1,445.8 182.1,446.3 181.0,448.9 180.0,449.0 178.9,452.0 177.9,452.0 176.8,454.1 175.8,454.7 174.7,459.9 173.7,458.2 172.6,455.3 171.6,453.6 170.5,456.3 169.5,460.4 168.5,460.2 167.4,464.2 166.4,463.8 165.3,466.4 164.3,470.0 163.2,472.0 162.2,476.6 161.1,475.0 160.1,474.4 159.0,472.6 158.0,472.9 156.9,472.1 155.9,469.4 154.8,469.3 153.8,465.7 152.7,464.2 151.7,462.2 150.6,457.7 149.6,454.4 148.5,445.8 147.4,439.2" fill="#d3dfee"/>
<polygon points="360.2,370.8 361.4,370.4 362.6,369.5 363.8,369.1 365.0,368.7 366.2,369.3 367.4,370.0 368.6,371.5 369.8,371.7 371.0,372.7 372.2,373.0 373.4,374.0 374.6,374.0 375.8,375.1 377.0,374.8 378.2,374.8 379.4,375.3 380.6,376.1 381.8,376.3 383.1,377.3 384.3,377.9 385.5,378.5 386.7,378.4 387.9,378.6 389.1,378.9 390.3,380.0 391.5,380.8 392.7,381.0 393.9,381.3 395.1,382.2 396.3,382.1 397.5,382.2 398.7,382.4 399.9,382.7 401.1,382.5 402.3,382.0 403.5,381.5 404.7,381.3 405.9,380.7 407.1,381.1 408.3,380.2 409.5,379.7 410.7,379.1 411.9,378.3 413.1,378.7 414.3,379.4 415.6,380.4 416.8,380.3 418.0,381.3 419.2,381.1 420.4,381.9 421.6,380.4 422.8,379.6 424.0,378.6 425.2,377.9 426.4,375.8 427.6,373.9 428.8,372.8 430.0,370.5 431.2,369.3 432.4,368.1 433.6,367.1 434.8,365.9 436.0,364.3 437.2,362.5 438.4,360.4 439.6,359.1 440.8,357.0 442.0,354.2 443.2,353.0 444.4,352.7 445.6,352.2 446.8,351.1 448.1,351.0 449.3,350.0 450.5,348.6 451.7,349.8 452.9,351.9 454.1,352.8 455.3,355.2 456.5,357.9 457.7,360.8 458.9,364.1 460.1,367.8 461.3,370.6 462.5,371.2 463.7,372.7 464.9,373.4 466.1,373.6 467.3,375.1 468.5,375.7 469.7,375.8 470.9,375.7 472.1,375.9 473.3,375.8 474.5,376.5 475.7,376.5 476.9,377.5 478.1,378.0 479.3,379.8 480.5,381.1 481.8,383.2 483.0,385.2 484.2,387.4 485.4,389.7 486.6,391.7 487.8,394.2 489.0,395.9 490.2,398.4 491.4,399.0 492.6,400.2 493.8,401.1 495.0,402.1 496.2,402.4 497.4,401.5 498.6,402.4 499.8,402.0 501.0,401.2 502.2,400.4 503.4,399.7 504.6,398.3 505.8,397.4 507.0,397.1 508.2,395.3 509.4,394.9 510.6,393.7 511.8,391.9 513.0,391.3 514.3,392.6 515.5,394.0 516.7,394.6 517.9,395.6 519.1,395.4 520.3,395.7 521.5,396.4 522.7,393.9 523.9,393.0 525.1,391.3 526.3,387.4 527.5,384.3 527.5,414.4 526.3,417.3 525.1,420.6 523.9,421.3 522.7,423.1 521.5,425.0 520.3,425.5 519.1,425.9 517.9,426.1 516.7,426.0 515.5,425.2 514.3,424.6 513.0,423.8 511.8,425.2 510.6,427.2 509.4,428.2 508.2,429.6 507.0,430.3 505.8,431.3 504.6,432.0 503.4,431.7 502.2,432.1 501.0,432.5 499.8,431.8 498.6,431.4 497.4,430.1 496.2,429.0 495.0,428.8 493.8,427.5 492.6,425.6 491.4,424.4 490.2,423.9 489.0,421.8 487.8,418.6 486.6,416.9 485.4,414.0 484.2,411.9 483.0,409.4 481.8,406.4 480.5,405.5 479.3,404.0 478.1,402.2 476.9,401.7 475.7,400.4 474.5,399.9 473.3,399.9 472.1,399.4 470.9,399.8 469.7,399.1 468.5,399.3 467.3,399.6 466.1,398.4 464.9,398.9 463.7,396.8 462.5,396.2 461.3,394.3 460.1,391.1 458.9,388.0 457.7,384.9 456.5,381.7 455.3,377.6 454.1,374.3 452.9,372.3 451.7,370.8 450.5,368.8 449.3,369.2 448.1,369.8 446.8,370.3 445.6,371.5 444.4,372.8 443.2,373.2 442.0,375.9 440.8,377.6 439.6,379.9 438.4,382.8 437.2,384.7 436.0,388.0 434.8,390.1 433.6,391.4 432.4,392.8 431.2,394.4 430.0,395.8 428.8,397.0 427.6,398.5 426.4,399.9 425.2,401.2 424.0,401.0 422.8,401.6 421.6,402.1 420.4,402.3 419.2,401.6 418.0,401.7 416.8,401.6 415.6,402.3 414.3,402.4 413.1,403.0 411.9,402.9 410.7,404.6 409.5,405.7 408.3,407.0 407.1,407.6 405.9,408.2 404.7,408.8 403.5,409.7 402.3,409.8 401.1,410.0 399.9,410.3 398.7,410.9 397.5,409.5 396.3,408.8 395.1,408.5 393.9,407.6 392.7,407.5 391.5,407.2 390.3,406.5 389.1,405.2 387.9,405.6 386.7,405.2 385.5,404.8 384.3,404.2 383.1,404.0 381.8,403.7 380.6,403.8 379.4,403.4 378.2,403.4 377.0,402.6 375.8,402.1 374.6,402.0 373.4,401.6 372.2,401.8 371.0,400.9 369.8,401.2 368.6,400.3 367.4,399.5 366.2,399.0 365.0,398.1 363.8,399.0 362.6,399.0 361.4,399.3 360.2,399.5" fill="#d3dfee"/>
<polygon points="585.3,341.3 586.1,341.0 586.9,340.9 587.5,341.3 588.1,341.6 588.7,341.6 589.4,342.8 589.8,343.3 590.3,340.8 590.8,340.7 591.3,339.5 591.8,339.4 592.0,340.2 592.2,339.7 592.4,339.9 592.6,341.7 592.8,343.3 593.0,344.8 593.2,346.6 593.4,347.8 593.8,346.3 594.2,349.6 594.6,350.5 595.0,351.6 595.4,351.7 596.2,350.0 597.0,350.9 597.8,350.0 598.3,350.6 598.7,352.2 599.2,351.5 599.7,351.7 600.2,354.0 600.7,353.9 601.1,351.2 601.6,351.9 602.1,351.6 603.0,350.1 603.8,351.8 604.4,351.1 605.0,349.6 605.6,347.9 606.2,347.1 606.7,347.7 607.2,346.8 607.6,344.9 608.1,342.8 608.6,344.0 608.8,344.9 609.0,344.4 609.2,346.5 609.4,348.5 609.5,349.6 609.7,349.5 609.9,350.5 610.1,351.9 610.3,351.7 610.8,352.7 611.3,353.5 611.7,356.0 612.2,355.9 612.5,355.4 612.8,353.9 613.0,353.1 613.3,351.0 613.6,349.6 613.8,351.4 614.1,348.4 614.4,346.6 614.6,347.1 614.9,346.5 615.2,343.6 615.5,343.9 615.7,342.1 616.0,341.6 616.3,339.0 616.6,338.0 617.4,339.7 618.2,338.1 618.4,338.1 618.6,339.4 618.8,339.5 619.0,342.2 619.2,342.2 619.4,344.8 619.5,345.3 619.7,346.6 619.9,348.1 620.6,346.7 621.2,346.9 621.8,348.2 622.3,347.2 622.8,346.0 623.3,345.0 623.8,345.6 624.2,345.6 624.6,343.3 625.0,343.8 625.4,342.7 625.8,339.1 626.2,339.7 627.0,339.9 627.8,339.9 628.6,343.2 629.8,341.7 631.0,343.2 631.4,342.5 631.8,342.4 632.2,340.6 632.6,338.7 633.0,337.9 633.4,336.0 633.8,339.4 634.2,340.5 634.6,339.2 635.0,339.7 635.4,341.3 635.8,342.6 637.0,343.7 638.2,343.1 638.8,342.0 639.4,338.7 640.0,340.0 640.6,338.9 641.2,337.8 641.8,337.9 642.4,334.2 643.0,333.6 643.3,336.4 643.5,338.0 643.8,338.3 644.0,338.2 644.2,340.1 644.5,341.6 644.7,340.7 645.0,342.3 645.3,343.1 645.6,343.7 645.8,345.8 646.1,345.9 646.4,347.1 646.8,345.8 647.2,346.4 647.6,343.4 648.0,344.5 648.4,341.9 648.8,340.5 649.0,342.1 649.2,338.9 649.5,339.9 649.7,338.7 649.9,337.7 650.1,334.3 650.3,334.2 650.5,332.1 650.7,333.5 650.9,332.2 651.1,330.6 651.3,329.1 651.5,327.7 651.7,328.2 651.9,326.1 652.1,327.7 652.3,327.3 652.4,328.6 652.6,329.2 652.8,332.3 653.0,332.9 653.1,332.7 653.3,336.0 653.5,335.3 653.6,336.8 653.9,335.0 654.2,334.3 654.5,335.0 654.7,332.4 655.0,330.9 655.3,330.8 655.6,329.3 656.2,330.1 656.8,326.8 657.4,328.5 658.0,324.9 658.3,326.4 658.6,324.6 659.0,322.2 659.3,322.0 659.7,320.4 660.0,319.3 660.4,318.1 660.5,319.6 660.7,322.4 660.9,323.4 661.1,324.2 661.2,322.7 661.4,324.3 661.6,327.1 661.8,325.5 661.9,328.5 662.1,328.2 662.3,331.2 662.6,327.4 662.9,328.7 663.1,326.3 663.4,324.7 663.7,323.3 664.0,324.8 664.5,322.7 665.1,320.4 665.7,320.0 666.0,320.3 666.4,317.2 666.7,316.9 667.1,316.0 668.1,316.0 669.1,316.0 670.1,316.0 671.2,316.0 672.2,316.0 673.2,316.0 674.2,316.0 675.2,316.0 676.2,316.0 677.2,316.0 678.3,316.0 679.3,316.0 680.3,316.0 681.3,316.0 682.3,316.0 683.3,316.0 684.3,316.0 685.4,316.0 686.4,316.0 687.4,316.0 688.4,316.0 689.4,316.0 690.4,316.0 691.4,316.0 692.5,316.0 693.5,316.0 694.5,316.0 695.5,316.0 696.5,316.0 697.5,316.0 698.5,316.0 699.6,316.0 700.6,316.0 701.6,316.0 702.6,316.0 703.6,316.0 704.6,316.0 705.6,316.0 706.7,316.0 707.7,316.0 708.7,316.0 709.7,316.0 710.7,316.0 711.7,316.0 712.7,316.0 713.8,316.0 714.8,316.0 715.8,316.0 716.8,316.0 717.8,316.0 718.8,316.0 719.8,316.0 720.9,316.0 721.9,316.0 722.9,316.0 723.9,316.0 724.9,316.0 725.9,316.0 726.9,316.0 728.0,316.0 729.0,316.0 729.1,316.8 729.2,318.1 729.3,317.8 729.4,318.9 729.5,321.7 729.6,322.5 729.8,321.9 729.9,322.6 730.0,323.6 730.1,326.2 730.2,326.8 730.3,327.2 730.4,328.0 730.5,330.2 730.6,331.5 730.8,332.8 730.9,333.1 731.0,332.9 731.1,333.5 731.2,336.5 731.3,336.6 731.4,338.5 731.5,337.5 731.6,340.8 731.7,340.3 731.9,342.8 732.0,343.9 732.1,343.8 732.2,343.4 732.3,347.0 732.4,346.7 732.5,348.9 732.6,348.1 732.7,348.9 732.9,351.8 733.0,351.4 733.1,351.8 733.2,353.4 733.3,355.1 733.4,354.3 733.5,356.9 733.6,357.6 733.7,358.9 733.9,358.7 734.0,361.4 734.1,362.8 734.2,363.9 734.3,363.3 734.4,365.4 734.5,365.4 734.6,367.6 734.7,366.5 734.9,369.9 735.0,371.2 735.1,370.8 735.2,371.8 735.3,372.9 735.4,373.9 735.5,373.4 735.6,377.2 735.7,376.0 735.9,376.8 736.0,377.6 736.1,379.0 736.2,381.7 736.3,380.4 736.4,381.6 736.5,384.4 736.6,383.9 736.7,384.3 736.9,387.1 737.0,388.0 737.1,388.8 737.2,390.4 737.3,389.6 737.4,392.9 737.5,393.4 737.6,392.4 737.7,393.6 737.9,395.7 738.0,396.8 738.1,397.1 738.2,397.6 738.3,399.5 738.4,399.7 738.5,402.0 738.6,403.8 738.7,402.7 738.9,405.0 739.0,406.5 739.1,405.7 739.2,408.7 739.3,410.1 739.4,409.4 739.5,410.5 739.6,412.8 739.7,412.8 739.9,413.4 740.0,416.1 740.1,416.6 740.2,416.3 740.3,417.0 740.4,418.2 740.5,419.5 740.6,422.2 740.7,422.7 740.9,424.0 741.0,424.7 741.1,425.8 741.2,424.4 741.3,426.8 741.4,429.1 741.5,430.0 741.6,429.0 741.7,430.5 741.9,432.1 742.0,432.3 742.1,433.8 742.2,433.4 742.3,435.5 742.4,436.7 742.5,436.3 742.6,437.6 742.7,441.1 742.8,441.6 743.0,443.0 743.1,443.1 743.2,444.6 743.3,445.9 743.4,446.9 743.5,445.3 743.6,448.1 743.7,448.0 743.8,450.2 744.0,450.0 744.1,451.8 744.2,454.0 744.3,454.1 744.4,454.0 744.5,455.8 744.6,456.5 744.7,459.1 744.8,458.1 745.0,459.1 745.1,461.1 745.2,460.6 745.3,463.0 745.4,465.1 745.5,464.7 745.6,465.0 745.7,466.6 745.8,467.8 746.0,467.6 746.1,468.6 746.2,469.6 746.3,471.1 746.4,472.4 746.5,473.1 746.6,473.9 746.7,474.4 746.8,476.8 747.0,478.7 747.1,479.0 747.2,479.9 747.3,481.1 747.4,480.8 747.5,482.7 746.5,482.7 745.5,482.7 744.5,482.7 743.5,482.7 742.5,482.7 741.5,482.7 740.5,482.7 739.4,482.7 738.4,482.7 737.4,482.7 736.4,482.7 735.4,482.7 734.4,482.7 733.4,482.7 732.4,482.7 731.4,482.7 730.4,482.7 729.4,482.7 728.4,482.7 727.3,482.7 726.3,482.7 725.3,482.7 724.3,482.7 723.3,482.7 722.3,482.7 721.3,482.7 720.3,482.7 719.3,482.7 718.3,482.7 717.3,482.7 716.3,482.7 715.2,482.7 714.2,482.7 713.2,482.7 712.2,482.7 711.2,482.7 710.2,482.7 709.2,482.7 708.2,482.7 707.2,482.7 706.2,482.7 705.2,482.7 704.2,482.7 703.1,482.7 702.1,482.7 701.1,482.7 700.1,482.7 699.1,482.7 698.1,482.7 697.1,482.7 696.1,482.7 695.1,482.7 694.1,482.7 693.9,482.3 693.7,480.5 693.5,479.8 693.3,478.9 693.1,477.5 693.0,476.0 692.8,474.8 692.6,473.7 692.4,473.5 692.2,472.1 692.0,471.7 691.8,469.0 691.7,469.0 691.5,469.5 691.4,466.7 691.2,466.6 691.1,465.4 691.0,463.8 690.8,465.0 690.7,461.9 690.5,462.3 690.4,459.5 690.2,458.2 690.1,459.6 690.0,457.4 689.8,455.2 689.7,455.2 689.5,454.4 689.4,454.3 689.3,451.4 689.0,450.7 688.7,451.8 688.5,450.1 688.2,447.3 687.9,446.7 687.6,445.7 687.4,445.6 687.1,444.4 686.8,444.0 686.6,442.8 686.3,440.9 686.0,440.5 685.8,439.4 685.5,438.4 685.2,436.5 685.0,436.3 684.7,435.0 684.4,434.6 684.3,431.2 684.2,432.4 684.0,428.7 683.9,430.0 683.8,428.4 683.6,427.1 683.5,427.5 683.3,425.3 683.2,423.8 683.1,423.9 682.9,423.1 682.8,421.3 682.7,419.6 682.5,418.7 682.0,417.6 681.4,417.1 680.8,414.7 679.6,414.3 678.4,414.2 678.1,414.9 677.8,415.9 677.5,418.5 677.2,419.9 676.8,419.9 676.4,420.7 676.0,420.9 675.6,422.3 675.2,422.8 674.8,425.1 673.6,425.7 672.4,424.9 671.9,428.3 671.4,427.5 671.0,430.0 670.5,431.0 670.0,432.3 669.5,431.0 669.0,432.6 668.6,435.0 668.1,433.3 667.6,434.4 666.8,435.1 666.0,434.1 665.2,434.6 664.8,435.2 664.4,435.4 664.0,437.8 663.6,437.4 663.2,438.4 662.8,439.9 662.2,438.1 661.6,437.1 661.0,436.9 660.4,435.3 659.8,438.0 659.2,438.1 658.6,438.5 658.0,438.1 657.4,438.1 656.8,437.2 656.2,436.8 655.6,436.0 654.7,436.1 653.9,435.5 653.1,433.3 652.3,433.9 651.5,435.3 650.7,437.2 650.1,436.2 649.5,437.6 648.9,439.4 648.3,438.4 647.7,439.7 647.1,442.6 646.5,443.0 645.9,443.0 645.3,440.9 644.7,442.3 644.1,440.8 643.5,440.3 643.1,441.8 642.7,442.5 642.3,442.1 641.9,442.3 641.5,443.7 641.1,445.4 640.3,446.2 639.5,446.0 638.7,446.8 637.9,447.4 637.1,446.5 636.3,444.9 635.8,447.8 635.3,447.7 634.8,446.9 634.4,448.9 633.9,451.0 633.1,450.4 632.3,452.4 631.5,451.1 631.0,451.0 630.5,451.7 630.0,450.0 629.6,449.2 629.1,446.9 628.7,448.8 628.4,450.0 628.0,450.2 627.7,452.3 627.4,453.0 627.0,455.5 626.7,455.2 625.9,453.9 625.1,452.3 624.3,451.6 623.9,454.4 623.6,453.5 623.2,454.5 622.9,455.7 622.5,457.8 622.2,459.7 621.8,460.1 621.5,459.7 621.2,456.4 620.8,455.2 620.5,456.5 620.1,454.1 619.8,454.3 619.4,452.1 619.2,452.7 618.9,454.0 618.6,454.6 618.4,458.1 618.1,458.2 617.8,458.6 617.6,459.9 617.3,460.8 617.0,460.9 616.4,464.3 615.8,464.3 615.2,466.3 614.6,465.6 613.4,465.6 612.2,463.9 611.4,462.5 610.6,464.3 609.8,463.3 609.2,462.6 608.6,465.2 608.0,465.9 607.4,465.2 606.6,465.3 605.8,465.6 605.0,463.4 604.4,463.9 603.8,460.8 603.2,460.4 602.6,460.5 601.8,459.8 601.0,460.8 600.2,463.3 599.0,461.6 597.8,461.9 597.4,461.2 597.0,462.0 596.6,463.6 596.2,464.1 595.8,467.4 595.4,466.4 595.0,466.2 594.7,463.8 594.3,464.0 594.0,462.6 593.6,461.6 593.3,459.5 593.0,458.7 592.5,459.8 592.0,457.4 591.5,456.2 591.0,455.0 590.6,454.3 590.2,453.2 589.9,451.5 589.5,452.4 589.2,450.4 588.8,448.8 588.5,449.4 588.1,446.5 587.6,446.1 587.0,446.8 586.4,443.8 585.8,443.7 585.3,443.0" fill="#f9e4c1"/>
<polygon points="798.4,378.3 799.9,379.5 801.3,380.0 802.5,380.5 803.7,381.2 804.9,381.1 806.1,382.0 807.3,381.6 808.5,382.6 809.7,382.5 810.9,382.5 812.1,383.0 813.3,383.0 814.5,383.9 815.7,383.7 816.9,384.7 818.1,384.7 819.4,384.7 820.6,384.9 821.8,385.6 823.0,385.5 824.2,386.5 825.4,386.0 826.6,386.4 827.8,386.4 829.0,386.2 830.2,386.7 831.4,386.3 832.6,386.5 833.8,386.5 835.0,386.2 836.2,386.0 837.4,385.4 838.6,385.2 839.8,385.5 841.0,385.0 842.2,385.3 843.4,384.8 844.6,385.2 845.8,384.4 847.0,384.0 848.2,383.2 849.4,382.3 850.6,382.0 851.8,381.3 853.1,380.6 854.3,380.6 855.5,379.5 856.7,379.1 857.9,379.0 859.1,378.2 860.3,377.4 861.5,376.5 862.7,374.9 863.9,374.1 865.1,373.3 866.3,373.3 867.5,372.7 868.7,371.8 869.9,371.3 871.1,370.9 872.3,370.3 873.5,369.3 874.7,369.1 875.9,367.8 877.1,367.3 878.3,366.8 879.5,366.7 880.7,367.5 881.9,366.8 883.1,366.1 884.3,364.3 885.6,363.1 886.8,362.6 888.0,362.0 889.9,364.5 891.6,373.0 892.8,376.3 894.0,380.2 895.2,382.9 896.4,384.9 897.6,387.5 898.8,389.3 900.0,391.4 901.2,392.5 902.4,394.1 903.6,395.9 904.8,397.1 906.0,398.5 907.2,401.2 908.4,402.9 909.6,404.2 910.8,405.8 912.0,408.4 913.2,410.0 914.4,411.2 915.6,412.3 916.8,413.1 918.1,414.7 919.3,415.0 920.5,416.0 921.7,416.1 922.9,415.8 924.1,416.7 925.3,416.4 926.5,416.7 927.7,416.8 928.9,416.3 930.1,415.5 931.3,415.7 932.5,414.6 933.7,414.5 934.9,412.8 936.1,411.3 937.3,409.9 938.5,408.2 939.7,407.1 940.9,405.8 942.1,405.5 943.3,404.4 944.5,403.2 945.7,402.5 946.9,400.5 948.1,399.9 949.3,398.3 950.5,398.0 951.8,397.2 953.0,395.8 954.2,394.9 955.4,394.1 956.6,392.5 957.8,391.2 959.0,389.4 960.2,387.7 961.4,386.5 962.6,385.1 964.0,381.9 965.5,379.0 965.5,414.2 964.4,415.0 963.4,416.4 962.3,417.0 961.2,417.7 960.2,419.0 959.0,420.3 957.8,420.9 956.6,422.8 955.4,423.8 954.2,425.4 953.0,426.6 951.8,427.7 950.5,428.9 949.3,430.2 948.1,430.9 946.9,431.9 945.7,432.9 944.5,434.2 943.3,435.6 942.1,437.0 940.9,438.1 939.7,439.1 938.5,440.2 937.3,442.2 936.1,443.3 934.9,444.3 933.7,445.3 932.5,446.4 931.3,447.7 930.1,448.1 928.9,448.5 927.7,448.5 926.5,448.9 925.3,449.3 924.1,449.3 922.9,449.3 921.7,448.5 920.5,448.0 919.3,446.3 918.1,445.3 916.8,443.7 915.6,441.6 914.4,440.4 913.2,437.8 912.0,435.4 910.8,433.5 909.6,430.5 908.4,428.6 907.2,425.9 906.0,424.0 904.8,422.5 903.6,420.7 902.4,419.3 901.2,416.9 900.0,414.3 898.8,412.0 897.6,409.4 896.4,406.9 895.2,404.0 894.0,401.2 892.8,398.8 891.6,396.5 890.4,394.9 889.2,394.1 888.0,393.4 886.8,394.5 885.6,394.5 884.3,394.6 883.1,395.1 881.9,396.3 880.7,397.5 879.5,398.1 878.3,400.1 877.1,398.8 875.9,397.4 874.7,397.2 873.5,397.6 872.3,398.5 871.1,398.7 869.9,398.6 868.7,399.3 867.5,400.0 866.3,400.6 865.1,401.6 863.9,402.5 862.7,402.8 861.5,403.4 860.3,404.6 859.1,404.5 857.9,406.0 856.7,406.5 855.5,407.4 854.3,408.0 853.1,408.3 851.8,409.3 850.6,410.3 849.4,410.7 848.2,410.6 847.0,411.9 845.8,412.8 844.6,412.4 843.4,413.0 842.2,413.7 841.0,414.5 839.8,415.2 838.6,415.7 837.4,416.1 836.2,417.2 835.0,418.3 833.8,418.6 832.6,418.5 831.4,418.1 830.2,418.1 829.0,418.1 827.8,417.8 826.6,417.5 825.4,418.0 824.2,417.9 823.0,417.6 821.8,417.8 820.6,417.8 819.4,417.2 818.1,417.6 816.9,417.2 815.7,417.3 814.5,416.7 813.3,416.8 812.1,416.2 810.9,416.9 809.7,416.0 808.5,415.7 807.3,416.0 806.1,415.2 804.9,414.7 803.7,413.8 802.5,413.2 801.3,413.0 799.9,411.9 798.4,410.1" fill="#f9e4c1"/>
<polygon points="147.2,551.0 148.4,550.7 149.6,550.9 150.8,549.7 152.0,549.5 153.1,549.9 154.2,549.5 155.3,549.1 156.3,549.5 157.4,549.2 158.5,549.2 159.6,548.9 160.6,548.8 161.7,548.7 162.8,548.4 163.9,548.6 164.9,549.2 166.0,550.5 167.1,550.7 168.2,550.8 169.2,552.6 170.3,553.1 171.4,554.0 172.4,555.5 173.5,556.3 174.6,557.6 175.7,558.7 176.7,559.5 177.8,560.9 178.9,561.5 180.0,563.0 181.0,564.1 182.1,564.7 183.2,566.1 184.3,566.8 185.3,567.7 186.4,568.7 187.5,568.9 188.6,569.6 189.6,570.2 190.7,569.3 191.8,569.9 192.9,569.4 193.9,568.5 195.0,568.9 196.1,567.7 197.2,566.7 198.2,566.7 199.3,565.5 200.4,564.9 201.5,563.4 202.5,563.3 203.6,561.7 204.7,561.1 205.7,560.4 206.8,559.5 207.9,559.6 209.0,558.7 210.0,558.2 211.1,558.1 212.2,557.3 213.3,557.2 214.3,556.4 215.4,556.1 216.5,555.3 217.6,554.3 218.6,552.9 219.7,550.8 220.8,550.1 221.9,548.3 222.9,546.3 224.0,543.8 225.1,541.6 226.2,538.4 227.2,536.3 228.2,532.6 229.2,528.8 230.2,524.5 231.3,519.8 232.3,520.7 233.3,520.6 234.3,521.3 235.3,521.9 236.5,521.6 237.7,522.7 238.9,522.8 240.1,522.7 242.0,530.7 243.9,549.8 245.0,558.2 246.0,566.0 247.4,576.3 248.7,586.9 250.1,593.7 251.4,601.1 252.7,604.6 254.1,608.9 255.4,609.4 256.8,610.4 258.1,608.1 259.5,605.9 260.5,602.6 261.5,598.2 262.5,594.3 263.5,590.4 264.5,588.5 265.5,585.6 266.5,583.9 267.5,581.7 268.9,582.7 270.2,583.8 271.5,587.0 272.9,589.6 273.9,589.8 274.9,590.4 275.9,590.3 276.9,590.0 277.9,589.4 278.9,588.4 279.9,588.4 280.9,587.3 282.0,587.0 283.1,585.9 284.2,584.6 285.2,584.0 286.3,583.1 287.4,582.4 288.5,580.8 289.5,578.9 290.6,577.7 291.7,576.5 292.7,574.8 293.8,573.0 294.9,570.9 296.0,569.0 297.0,566.8 298.1,566.3 299.2,565.0 300.3,563.6 301.3,562.9 302.4,562.4 303.5,561.2 304.6,561.0 305.6,561.3 306.7,560.6 307.8,560.3 308.8,560.2 309.8,559.6 310.8,559.6 311.8,559.2 313.2,559.0 314.5,558.4 314.5,576.3 313.2,577.2 311.8,578.5 310.8,577.7 309.8,578.1 308.8,578.0 307.8,577.6 306.7,577.9 305.6,578.1 304.6,578.4 303.5,579.3 302.4,579.1 301.3,580.9 300.3,581.4 299.2,582.9 298.1,583.8 297.0,584.7 296.0,586.1 294.9,588.1 293.8,590.8 292.7,592.3 291.7,593.9 290.6,595.4 289.5,597.3 288.5,598.4 287.4,599.3 286.3,601.1 285.2,601.9 284.2,602.7 283.1,603.0 282.0,604.3 280.9,604.7 279.9,606.0 278.9,607.0 277.9,607.9 276.9,609.0 275.9,608.9 274.9,608.8 273.9,609.2 272.9,608.5 271.5,605.8 270.2,601.8 268.9,601.2 267.5,600.4 266.5,603.4 265.5,606.4 264.5,609.0 263.5,611.1 262.5,615.8 261.5,619.0 260.5,623.1 259.5,625.9 258.1,629.0 256.8,631.5 255.4,631.1 254.1,630.4 252.7,626.2 251.4,622.4 250.1,615.2 248.7,608.8 247.4,595.0 246.0,581.9 245.0,574.2 243.9,565.8 242.0,544.6 240.1,539.3 238.9,538.2 237.7,537.4 236.5,537.5 235.3,536.5 234.3,537.4 233.3,537.8 232.3,538.1 231.3,538.7 230.2,542.3 229.2,546.2 228.2,549.5 227.2,552.1 226.2,554.8 225.1,557.3 224.0,559.2 222.9,560.8 221.9,563.4 220.8,565.0 219.7,566.0 218.6,567.0 217.6,568.5 216.5,569.7 215.4,571.0 214.3,571.3 213.3,572.0 212.2,572.7 211.1,573.7 210.0,574.6 209.0,576.0 207.9,576.4 206.8,576.8 205.7,578.4 204.7,578.7 203.6,579.9 202.5,580.3 201.5,581.7 200.4,582.1 199.3,582.5 198.2,583.2 197.2,584.5 196.1,585.7 195.0,585.9 193.9,586.8 192.9,586.7 191.8,587.1 190.7,587.0 189.6,587.2 188.6,586.2 187.5,585.5 186.4,584.8 185.3,584.3 184.3,583.3 183.2,582.3 182.1,581.6 181.0,579.7 180.0,578.7 178.9,577.9 177.8,576.7 176.7,575.6 175.7,574.7 174.6,573.7 173.5,573.1 172.4,571.7 171.4,570.9 170.3,569.8 169.2,569.3 168.2,568.7 167.1,568.2 166.0,568.2 164.9,567.8 163.9,567.8 162.8,567.5 161.7,567.3 160.6,568.0 159.6,568.5 158.5,568.7 157.4,568.9 156.3,568.4 155.3,568.5 154.2,568.7 153.1,568.7 152.0,568.9 150.8,569.7 149.6,570.2 148.4,570.7 147.2,570.8" fill="#d3dfee"/>
<polygon points="360.4,552.4 361.4,549.0 362.8,546.1 364.4,544.6 365.5,543.7 366.5,543.9 367.5,542.6 368.5,542.7 369.5,541.5 370.6,541.1 371.6,540.3 372.6,540.5 373.6,539.5 374.6,538.7 375.6,539.0 376.7,537.6 377.7,538.6 378.7,538.0 379.7,538.9 380.7,538.8 381.8,539.6 382.8,539.0 383.8,540.6 384.8,541.4 385.8,543.1 386.9,544.1 387.9,545.3 388.9,546.3 389.9,547.9 390.9,549.4 391.9,551.3 393.0,552.8 394.0,554.1 395.0,556.1 396.0,557.5 397.0,558.6 398.1,560.5 399.1,560.6 400.1,561.8 401.1,562.1 402.1,563.4 403.1,563.8 404.2,563.4 405.2,564.3 406.2,564.6 407.2,564.3 408.2,564.1 409.3,563.9 410.3,564.1 411.3,562.9 412.3,563.7 413.3,563.7 414.4,563.2 415.4,563.0 416.4,563.4 417.4,562.6 418.4,562.9 419.4,561.7 420.5,561.5 421.5,560.9 422.5,559.3 423.5,559.3 424.5,558.4 425.6,556.6 426.6,555.2 427.6,554.3 428.6,554.3 429.6,552.2 430.6,551.7 431.7,549.3 432.7,548.4 433.7,546.2 434.7,544.7 435.7,543.8 436.8,541.6 437.8,540.3 438.8,539.5 439.8,537.7 441.4,534.9 442.9,528.9 443.9,519.6 444.9,511.7 445.9,511.3 446.9,513.3 448.4,514.5 450.0,516.1 451.6,515.8 453.1,518.0 454.1,523.8 455.1,533.8 456.1,547.2 457.1,558.6 458.2,571.5 459.2,576.7 460.2,583.3 461.2,588.0 462.2,593.4 463.2,594.6 464.3,596.8 465.3,596.1 466.3,596.8 467.3,596.0 468.3,595.1 469.4,594.3 470.4,593.5 471.4,592.0 472.4,589.2 473.4,586.0 474.4,583.9 475.5,581.2 476.5,578.5 477.5,576.9 478.5,575.8 479.5,576.4 480.6,576.7 481.6,578.2 482.6,580.3 483.6,582.2 484.6,584.4 485.7,585.2 486.7,585.8 487.7,586.9 488.7,587.2 489.7,586.7 490.7,586.4 491.8,586.1 492.8,585.9 493.8,585.6 494.8,585.2 495.8,584.0 496.9,583.1 497.9,581.2 498.9,579.8 499.9,577.1 500.9,575.0 501.9,573.0 503.0,570.7 504.0,570.1 505.0,567.4 506.0,566.6 507.0,565.5 508.1,563.7 509.1,563.1 510.1,561.8 511.1,560.6 512.1,559.5 513.2,558.4 514.2,558.3 515.2,557.2 516.2,557.3 517.2,556.3 518.2,557.9 519.3,558.2 520.3,559.3 521.3,559.9 522.3,560.0 523.3,561.1 524.4,560.6 525.4,562.2 526.4,562.6 527.4,562.5 527.4,575.4 526.4,575.5 525.4,575.3 524.4,574.7 523.3,574.3 522.3,573.3 521.3,573.1 520.3,572.3 519.3,571.6 518.2,571.6 517.2,569.6 516.2,570.2 515.2,570.0 514.2,570.8 513.2,572.7 512.1,573.7 511.1,574.9 510.1,575.4 509.1,576.2 508.1,577.6 507.0,577.8 506.0,579.9 505.0,581.7 504.0,583.2 503.0,583.9 501.9,586.6 500.9,588.9 499.9,590.1 498.9,592.1 497.9,595.0 496.9,596.2 495.8,597.2 494.8,597.9 493.8,598.9 492.8,599.1 491.8,599.3 490.7,600.0 489.7,599.5 488.7,600.3 487.7,600.4 486.7,600.0 485.7,599.1 484.6,597.7 483.6,595.7 482.6,593.6 481.6,592.6 480.6,590.6 479.5,590.0 478.5,590.0 477.5,590.5 476.5,591.6 475.5,594.3 474.4,596.1 473.4,600.1 472.4,603.3 471.4,604.8 470.4,606.9 469.4,607.8 468.3,609.2 467.3,608.9 466.3,609.7 465.3,610.1 464.3,609.8 463.2,608.7 462.2,607.5 461.2,601.4 460.2,597.2 459.2,590.7 458.2,584.3 457.1,572.1 456.1,560.4 455.1,548.0 454.1,537.5 453.1,531.3 451.6,529.7 450.0,529.3 448.4,528.4 446.9,525.9 445.9,524.2 444.9,525.5 443.9,533.9 442.9,541.6 441.4,547.5 439.8,551.3 438.8,552.6 437.8,553.4 436.8,555.9 435.7,556.7 434.7,558.3 433.7,559.8 432.7,561.8 431.7,562.7 430.6,564.1 429.6,566.2 428.6,566.8 427.6,567.6 426.6,569.1 425.6,570.0 424.5,571.1 423.5,571.9 422.5,573.1 421.5,573.7 420.5,574.8 419.4,574.9 418.4,576.1 417.4,576.7 416.4,576.3 415.4,576.3 414.4,576.9 413.3,577.5 412.3,576.7 411.3,576.2 410.3,577.0 409.3,577.4 408.2,578.0 407.2,577.8 406.2,577.2 405.2,577.1 404.2,576.6 403.1,576.3 402.1,576.7 401.1,576.3 400.1,575.0 399.1,573.7 398.1,573.7 397.0,572.7 396.0,571.1 395.0,569.4 394.0,567.8 393.0,566.9 391.9,564.4 390.9,562.8 389.9,561.9 388.9,560.1 387.9,558.5 386.9,557.0 385.8,556.5 384.8,554.5 383.8,553.6 382.8,552.9 381.8,552.6 380.7,552.6 379.7,552.1 378.7,552.4 377.7,551.4 376.7,551.6 375.6,551.6 374.6,552.3 373.6,553.1 372.6,553.3 371.6,554.1 370.6,554.5 369.5,555.0 368.5,555.4 367.5,556.5 366.5,556.8 365.5,558.0 364.4,558.6 362.8,558.7 361.4,562.7 360.4,566.3" fill="#d3dfee"/>
<polygon points="584.9,552.7 586.5,551.4 587.5,551.5 588.5,551.8 589.5,551.9 590.6,552.6 591.6,553.0 592.6,554.0 593.6,553.3 594.6,552.9 595.6,552.0 596.7,551.0 597.7,550.3 598.7,550.3 599.7,549.3 600.7,549.8 601.8,549.2 602.8,548.4 603.8,548.9 604.8,549.4 605.8,549.0 606.9,549.0 607.9,548.9 608.9,549.0 609.9,549.5 610.9,548.7 611.9,549.7 613.0,550.3 614.0,550.8 615.0,551.3 616.0,552.5 617.0,552.5 618.1,553.2 619.1,552.5 620.1,553.4 621.1,554.2 622.1,553.5 623.1,554.4 624.2,554.0 625.2,555.1 626.2,555.1 627.2,556.5 628.2,556.6 629.3,557.4 630.3,556.9 631.3,556.9 632.3,556.6 633.3,555.8 634.4,555.7 635.4,556.4 636.4,555.3 637.4,555.9 638.4,555.4 639.4,555.6 640.5,555.9 641.5,557.0 642.5,557.4 643.5,557.0 644.5,557.8 645.6,557.8 646.6,557.8 647.6,556.9 648.6,555.6 649.6,554.9 650.6,555.5 651.7,554.5 652.7,555.2 653.7,554.4 654.7,553.5 655.7,553.1 656.8,552.0 657.8,551.4 658.8,550.7 659.8,551.4 660.8,550.2 661.9,550.3 662.9,549.2 663.9,549.7 664.9,549.5 665.9,548.4 666.9,546.9 668.0,546.3 669.0,544.3 670.0,541.4 671.0,539.3 672.0,536.2 673.1,535.1 674.1,533.9 675.1,534.1 676.1,534.9 677.1,535.2 678.2,537.1 679.2,538.3 680.2,541.3 681.2,544.4 682.2,547.4 683.2,550.0 684.3,552.7 685.3,553.8 686.3,555.3 687.3,555.0 688.3,555.5 689.4,554.5 690.4,555.0 691.4,555.5 692.4,555.1 693.4,555.6 694.4,555.5 695.5,557.1 696.5,558.8 697.5,560.6 698.5,561.5 699.5,561.8 700.6,563.7 701.6,563.8 702.6,565.7 703.6,567.5 704.6,568.1 705.7,570.3 706.7,571.5 707.7,572.8 708.7,575.2 709.7,577.4 710.7,579.2 711.8,580.8 712.8,581.1 713.8,580.6 714.8,578.8 715.8,578.2 716.9,578.5 717.9,579.0 718.9,580.5 719.9,579.8 720.9,578.6 721.9,577.1 723.0,575.2 724.0,574.6 725.0,572.9 726.0,572.5 727.0,570.9 728.1,570.4 729.1,569.1 730.1,567.1 731.1,565.4 732.1,562.8 733.2,560.7 734.2,559.4 735.2,556.4 736.2,556.2 737.2,555.5 738.2,555.2 739.3,555.0 740.3,554.7 741.3,555.5 742.3,554.1 743.3,554.0 744.4,553.0 745.4,551.5 746.4,550.9 747.4,549.5 748.4,549.3 749.4,548.5 750.5,549.6 751.5,550.6 752.5,552.5 752.5,569.1 751.5,567.8 750.5,566.4 749.4,565.9 748.4,566.2 747.4,567.5 746.4,567.6 745.4,568.4 744.4,570.0 743.3,570.6 742.3,571.9 741.3,571.6 740.3,572.8 739.3,572.4 738.2,572.8 737.2,572.0 736.2,572.7 735.2,574.1 734.2,576.0 733.2,578.6 732.1,579.8 731.1,582.0 730.1,584.8 729.1,586.0 728.1,586.9 727.0,588.7 726.0,588.8 725.0,590.6 724.0,591.1 723.0,593.2 721.9,594.3 720.9,595.4 719.9,596.7 718.9,597.2 717.9,596.0 716.9,595.2 715.8,595.9 714.8,596.5 713.8,597.1 712.8,598.2 711.8,597.3 710.7,596.4 709.7,594.6 708.7,592.3 707.7,590.7 706.7,587.8 705.7,586.2 704.6,585.2 703.6,583.3 702.6,583.0 701.6,581.8 700.6,580.3 699.5,579.0 698.5,578.5 697.5,577.3 696.5,575.6 695.5,574.5 694.4,573.4 693.4,573.1 692.4,572.2 691.4,572.4 690.4,572.4 689.4,571.9 688.3,572.3 687.3,572.2 686.3,572.5 685.3,571.0 684.3,569.7 683.2,566.9 682.2,563.5 681.2,560.5 680.2,558.2 679.2,555.4 678.2,554.0 677.1,553.2 676.1,551.2 675.1,551.7 674.1,550.7 673.1,552.7 672.0,553.4 671.0,556.7 670.0,559.1 669.0,561.5 668.0,563.4 666.9,564.6 665.9,565.9 664.9,566.3 663.9,566.6 662.9,567.1 661.9,567.5 660.8,567.8 659.8,567.5 658.8,568.4 657.8,568.6 656.8,569.7 655.7,569.6 654.7,570.6 653.7,571.9 652.7,571.3 651.7,572.4 650.6,572.6 649.6,572.6 648.6,572.7 647.6,573.8 646.6,574.7 645.6,575.6 644.5,574.9 643.5,574.1 642.5,573.8 641.5,574.0 640.5,573.9 639.4,573.6 638.4,572.5 637.4,572.1 636.4,572.4 635.4,572.6 634.4,572.9 633.3,572.6 632.3,573.6 631.3,573.9 630.3,573.5 629.3,573.6 628.2,573.4 627.2,572.9 626.2,573.1 625.2,571.4 624.2,572.0 623.1,571.0 622.1,571.4 621.1,570.8 620.1,570.9 619.1,570.2 618.1,569.9 617.0,569.0 616.0,569.5 615.0,568.5 614.0,567.3 613.0,566.4 611.9,566.7 610.9,566.2 609.9,566.2 608.9,566.0 607.9,566.2 606.9,565.4 605.8,566.6 604.8,566.1 603.8,566.1 602.8,565.8 601.8,565.5 600.7,566.0 599.7,566.2 598.7,567.2 597.7,567.1 596.7,568.2 595.6,569.0 594.6,570.3 593.6,570.5 592.6,571.5 591.6,569.9 590.6,570.5 589.5,569.2 588.5,568.8 587.5,567.8 586.5,567.5 584.9,569.6" fill="#f9e4c1"/>
<polygon points="798.7,548.5 800.0,540.7 801.4,538.3 802.4,537.8 803.4,538.1 804.4,537.9 805.5,537.4 806.5,536.5 807.5,537.0 808.5,535.9 809.5,535.7 810.6,534.5 811.6,534.4 812.6,534.8 813.6,535.0 814.6,535.0 815.6,535.0 816.7,535.5 817.7,535.2 818.7,534.8 819.7,535.4 820.7,533.9 821.8,534.6 822.8,534.9 823.8,535.3 824.8,534.9 825.8,535.1 826.9,535.5 827.9,535.5 828.9,535.7 829.9,535.0 830.9,536.2 831.9,536.8 833.0,538.8 834.0,539.7 835.0,539.3 836.0,540.4 837.0,539.9 838.1,538.7 839.1,540.7 840.1,542.6 841.1,543.5 842.1,544.1 843.1,545.4 844.2,545.5 845.2,546.4 846.2,546.9 847.2,547.6 848.2,547.2 849.3,547.6 850.3,547.6 851.3,548.1 852.3,549.6 853.3,550.0 854.4,550.7 855.4,550.9 856.4,551.5 857.4,552.8 858.4,553.9 859.9,556.9 861.1,555.4 862.5,553.1 863.9,551.5 865.6,553.0 867.2,554.1 868.6,555.8 870.0,553.1 871.7,549.2 872.7,547.9 873.7,547.2 874.7,546.8 875.7,547.0 876.8,546.6 877.8,545.4 878.8,545.3 879.8,545.9 881.4,543.0 882.3,538.0 883.5,532.1 884.9,530.6 885.9,530.6 886.9,530.6 888.0,530.3 889.0,530.7 890.4,528.8 892.0,531.8 893.1,534.7 894.1,536.1 895.1,538.1 896.1,539.4 897.1,540.6 898.2,541.1 899.2,541.7 900.2,543.2 901.2,543.1 902.2,543.4 903.2,544.0 904.3,544.7 905.3,545.1 906.3,546.2 907.3,548.2 908.3,549.1 909.4,550.0 910.4,551.6 911.4,552.7 912.4,554.9 913.4,555.5 914.4,558.0 915.5,559.5 916.5,561.1 917.5,563.5 918.5,564.4 919.5,565.9 920.6,567.3 921.6,569.4 922.6,571.1 923.6,572.6 924.6,573.8 925.7,574.8 926.7,574.4 927.7,574.2 928.7,574.1 929.7,573.4 930.7,572.0 931.8,571.1 932.8,570.1 933.8,568.5 934.8,567.9 935.8,566.3 936.9,564.5 937.9,562.9 938.9,561.6 939.9,559.2 940.9,557.2 941.9,556.0 943.0,553.6 944.0,552.0 945.0,550.7 946.0,549.9 947.0,548.0 948.1,548.2 949.1,547.9 950.1,548.6 951.1,549.0 952.1,549.2 953.2,548.6 954.2,548.3 955.2,547.9 956.2,547.8 957.2,547.1 958.2,548.3 959.3,548.8 960.3,548.8 961.3,548.0 962.3,549.1 963.3,549.8 964.4,550.5 965.4,552.0 965.4,572.0 964.4,570.2 963.3,569.1 962.3,569.1 961.3,568.4 960.3,568.9 959.3,568.6 958.2,567.7 957.2,566.9 956.2,567.8 955.2,568.5 954.2,567.7 953.2,568.4 952.1,569.1 951.1,569.4 950.1,568.1 949.1,568.3 948.1,568.5 947.0,568.1 946.0,568.9 945.0,570.0 944.0,572.4 943.0,573.9 941.9,575.4 940.9,577.9 939.9,579.4 938.9,581.8 937.9,583.5 936.9,585.0 935.8,586.5 934.8,586.8 933.8,588.3 932.8,589.5 931.8,590.8 930.7,591.9 929.7,592.4 928.7,593.4 927.7,594.8 926.7,594.9 925.7,594.8 924.6,594.4 923.6,593.0 922.6,590.8 921.6,589.6 920.6,587.4 919.5,585.8 918.5,584.2 917.5,582.9 916.5,581.6 915.5,579.9 914.4,577.4 913.4,575.7 912.4,574.0 911.4,572.8 910.4,572.1 909.4,570.4 908.3,568.6 907.3,567.5 906.3,566.1 905.3,565.5 904.3,564.6 903.2,564.3 902.2,562.8 901.2,562.8 900.2,562.4 899.2,562.4 898.2,561.6 897.1,560.8 896.1,559.8 895.1,558.0 894.1,556.8 893.1,554.4 892.0,552.2 890.4,548.8 889.0,549.7 888.0,550.6 886.9,550.3 885.9,550.8 884.9,551.1 883.5,552.4 882.3,557.9 881.4,563.1 879.8,565.3 878.8,565.2 877.8,565.6 876.8,566.0 875.7,566.6 874.7,567.1 873.7,567.4 872.7,568.0 871.7,569.4 870.0,573.0 868.6,576.1 867.2,574.3 865.6,573.1 863.9,571.8 862.5,574.1 861.1,576.0 859.9,576.2 858.4,573.6 857.4,572.7 856.4,571.8 855.4,571.3 854.4,570.7 853.3,569.9 852.3,568.5 851.3,568.1 850.3,567.4 849.3,566.6 848.2,567.3 847.2,566.4 846.2,567.0 845.2,566.8 844.2,566.2 843.1,564.7 842.1,564.7 841.1,563.0 840.1,562.4 839.1,560.6 838.1,559.1 837.0,559.9 836.0,559.9 835.0,559.3 834.0,559.7 833.0,557.7 831.9,557.6 830.9,556.5 829.9,555.5 828.9,554.9 827.9,554.9 826.9,554.5 825.8,554.9 824.8,554.4 823.8,555.0 822.8,555.1 821.8,553.7 820.7,554.7 819.7,554.6 818.7,555.3 817.7,555.8 816.7,555.2 815.6,554.3 814.6,554.7 813.6,554.8 812.6,554.4 811.6,554.6 810.6,554.8 809.5,554.7 808.5,555.7 807.5,557.0 806.5,557.3 805.5,557.5 804.4,557.0 803.4,558.1 802.4,558.1 801.4,558.6 800.0,560.6 798.7,568.9" fill="#f9e4c1"/>
<polygon points="147.2,731.4 148.4,730.1 149.6,729.6 150.8,728.1 152.0,727.2 153.1,727.0 154.2,726.7 155.3,726.4 156.3,726.0 157.4,725.3 158.5,724.5 159.6,724.8 160.6,723.8 161.7,723.8 162.8,723.4 163.9,723.4 164.9,723.2 166.0,722.4 167.1,722.6 168.2,722.3 169.2,722.5 170.3,722.6 171.4,723.8 172.4,723.9 173.5,723.8 174.6,724.4 175.7,725.5 176.7,725.1 177.8,725.7 178.9,726.4 180.0,727.0 181.0,727.4 182.1,728.0 183.2,727.8 184.3,728.4 185.3,729.6 186.4,729.7 187.5,729.2 188.6,729.5 189.6,729.9 190.7,730.6 191.8,729.9 192.9,730.4 193.9,730.6 195.0,730.3 196.1,730.1 197.2,728.9 198.2,728.2 199.3,727.6 200.4,727.8 201.5,726.6 202.5,726.9 203.6,726.1 204.7,725.0 205.7,725.1 206.8,724.9 207.9,725.7 209.0,725.7 210.0,726.8 211.1,727.4 212.2,727.2 213.3,726.1 214.3,726.8 215.4,726.4 216.5,726.5 217.6,726.7 218.6,727.4 219.7,727.9 220.8,728.6 221.9,728.4 222.9,729.4 223.9,730.9 224.9,731.7 225.9,732.8 227.2,730.4 228.6,729.1 230.5,716.3 231.5,709.7 232.6,702.3 233.9,696.6 235.3,690.9 236.4,690.1 237.6,688.3 238.8,687.2 239.8,687.7 240.9,689.5 242.0,690.0 243.3,695.1 244.7,700.2 246.0,710.3 247.4,719.8 248.7,727.9 250.1,735.2 251.1,738.1 252.1,740.7 253.1,743.9 254.1,745.9 255.2,748.0 256.2,750.0 257.3,751.4 258.4,752.3 259.5,753.9 260.5,755.0 261.6,756.7 262.7,757.7 263.7,758.7 264.8,759.7 265.9,760.7 267.0,762.0 268.0,763.1 269.1,764.4 270.2,765.3 271.3,765.9 272.3,766.6 273.4,767.0 274.5,767.5 275.6,767.3 276.6,767.4 277.7,767.1 278.8,766.1 279.9,766.0 280.9,764.8 282.0,764.7 283.1,763.4 284.2,762.9 285.2,761.6 286.3,760.9 287.4,760.4 288.5,759.8 289.5,759.1 290.6,758.9 291.7,758.9 292.7,758.3 293.8,758.3 294.9,757.8 296.0,757.6 297.0,757.5 298.1,756.8 299.2,755.7 300.3,755.2 301.3,754.8 302.4,753.9 303.5,753.3 304.6,753.1 305.6,752.4 306.7,751.0 307.8,750.6 308.8,749.9 309.8,749.4 310.8,748.6 311.8,747.7 313.2,743.9 314.5,741.3 314.5,769.1 313.2,770.7 311.8,773.4 310.8,774.1 309.8,775.6 308.8,775.9 307.8,776.8 306.7,777.4 305.6,778.6 304.6,778.5 303.5,779.1 302.4,779.9 301.3,780.8 300.3,780.5 299.2,781.8 298.1,782.5 297.0,782.9 296.0,783.2 294.9,783.9 293.8,783.9 292.7,784.3 291.7,785.3 290.6,786.5 289.5,786.8 288.5,787.5 287.4,788.0 286.3,788.9 285.2,790.0 284.2,790.6 283.1,791.4 282.0,792.5 280.9,792.9 279.9,793.7 278.8,795.1 277.7,795.7 276.6,796.1 275.6,797.3 274.5,796.3 273.4,796.0 272.3,796.0 271.3,795.3 270.2,794.2 269.1,793.9 268.0,792.5 267.0,791.6 265.9,790.2 264.8,789.1 263.7,787.9 262.7,786.8 261.6,785.8 260.5,785.2 259.5,783.8 258.4,782.3 257.3,781.5 256.2,779.6 255.2,778.1 254.1,777.2 253.1,774.0 252.1,770.9 251.1,768.4 250.1,764.7 248.7,754.6 247.4,743.5 246.0,734.0 244.7,723.1 243.3,719.8 242.0,714.9 240.9,714.1 239.8,713.4 238.8,712.8 237.6,715.6 236.4,718.0 235.3,721.3 233.9,725.1 232.6,729.8 231.5,737.9 230.5,746.5 228.6,753.1 227.2,753.8 225.9,754.0 224.9,754.4 223.9,753.4 222.9,752.9 221.9,752.8 220.8,752.9 219.7,752.8 218.6,752.6 217.6,751.7 216.5,752.0 215.4,751.5 214.3,752.5 213.3,752.3 212.2,753.2 211.1,752.6 210.0,752.7 209.0,751.9 207.9,751.6 206.8,750.8 205.7,750.1 204.7,750.5 203.6,751.1 202.5,752.2 201.5,752.2 200.4,753.2 199.3,754.0 198.2,754.1 197.2,754.2 196.1,754.8 195.0,755.6 193.9,754.7 192.9,754.2 191.8,753.7 190.7,753.4 189.6,753.2 188.6,752.6 187.5,752.1 186.4,751.5 185.3,751.0 184.3,750.8 183.2,749.6 182.1,749.0 181.0,748.9 180.0,747.7 178.9,747.4 177.8,747.1 176.7,747.4 175.7,747.1 174.6,746.8 173.5,746.5 172.4,746.8 171.4,747.1 170.3,748.4 169.2,748.7 168.2,748.7 167.1,749.8 166.0,752.1 164.9,752.8 163.9,754.1 162.8,755.3 161.7,756.7 160.6,757.0 159.6,757.7 158.5,757.8 157.4,758.8 156.3,758.7 155.3,759.1 154.2,759.2 153.1,759.1 152.0,760.2 150.8,759.1 149.6,758.3 148.4,757.8 147.2,756.9" fill="#d3dfee"/>
<polygon points="359.8,733.8 360.9,734.2 361.9,735.2 363.0,734.3 364.1,733.5 365.1,734.3 366.2,733.5 367.3,732.8 368.3,732.3 369.4,733.4 370.5,733.6 371.5,732.1 372.6,731.8 373.7,731.1 374.7,729.8 375.8,728.5 376.8,728.0 377.9,727.9 379.0,727.8 380.0,727.4 381.1,728.4 382.2,728.1 383.2,727.5 384.3,727.0 385.4,725.7 386.4,725.9 387.5,724.7 389.2,724.1 390.7,726.6 391.8,728.6 392.8,729.2 393.9,731.0 394.9,732.4 396.0,733.9 397.1,734.6 398.1,735.7 399.2,737.5 400.3,738.3 401.3,739.8 402.4,740.2 403.5,741.6 404.5,741.9 405.6,744.1 406.7,743.8 407.7,744.6 408.8,744.1 409.9,744.1 410.9,742.5 412.0,742.0 413.0,740.8 414.1,739.6 415.2,739.5 416.2,737.9 417.3,738.0 418.4,736.5 419.4,735.5 420.5,735.6 421.6,734.3 422.6,733.9 423.7,733.3 424.8,733.1 425.8,732.0 426.9,732.1 428.0,731.4 429.0,731.8 430.1,730.0 431.1,729.8 432.2,728.4 433.3,727.5 434.3,726.6 435.4,725.7 436.5,723.4 437.5,722.0 438.6,720.2 439.7,719.6 441.2,712.3 442.4,701.6 443.9,691.4 445.0,689.4 446.7,690.8 448.2,690.9 449.3,688.9 451.0,686.7 452.4,688.3 453.5,695.6 454.6,706.2 456.1,721.7 457.3,738.4 458.8,755.7 460.3,770.7 462.0,780.5 463.1,785.1 464.2,788.2 465.2,789.3 466.3,792.0 467.4,790.5 468.4,789.8 469.5,788.0 470.5,785.9 471.6,783.5 472.7,780.2 473.7,777.0 474.8,774.5 475.9,772.2 476.9,769.5 478.0,767.7 479.1,765.9 480.1,765.2 481.2,765.2 482.3,765.9 483.3,766.0 484.4,766.8 485.5,767.5 486.5,767.5 487.6,766.6 488.6,766.5 489.7,767.5 490.8,767.4 491.8,767.2 492.9,766.5 494.0,764.6 495.0,761.3 496.1,758.3 497.2,756.4 498.2,754.4 499.3,752.6 500.4,752.4 501.4,751.2 502.5,749.9 503.6,749.1 504.6,748.2 505.7,745.6 506.7,744.6 507.8,744.3 508.9,743.8 509.9,744.3 511.0,744.2 512.1,746.2 513.1,747.1 514.2,746.2 515.3,746.2 516.3,747.1 517.4,746.4 518.5,746.9 519.5,747.7 520.6,748.0 521.7,747.5 522.7,748.6 523.8,748.7 524.8,749.9 525.9,750.9 527.6,743.1 527.6,756.2 525.9,763.0 524.8,761.9 523.8,761.0 522.7,761.0 521.7,759.9 520.6,759.9 519.5,759.4 518.5,758.9 517.4,758.7 516.3,759.3 515.3,758.8 514.2,759.2 513.1,759.0 512.1,758.1 511.0,757.0 509.9,756.0 508.9,755.6 507.8,756.4 506.7,757.5 505.7,759.1 504.6,759.8 503.6,761.3 502.5,761.8 501.4,762.9 500.4,764.6 499.3,765.0 498.2,766.9 497.2,768.5 496.1,770.6 495.0,774.4 494.0,777.8 492.9,778.9 491.8,780.4 490.8,780.0 489.7,779.1 488.6,779.0 487.6,779.1 486.5,779.6 485.5,779.2 484.4,778.5 483.3,778.8 482.3,778.2 481.2,778.1 480.1,778.3 479.1,778.1 478.0,779.6 476.9,781.8 475.9,783.6 474.8,787.1 473.7,789.5 472.7,792.1 471.6,795.1 470.5,798.2 469.5,800.8 468.4,802.3 467.4,803.4 466.3,803.5 465.2,801.8 464.2,800.8 463.1,797.1 462.0,792.7 460.3,782.3 458.8,768.0 457.3,751.0 456.1,733.9 454.6,718.3 453.5,708.2 452.4,700.1 451.0,699.9 449.3,702.0 448.2,703.5 446.7,703.0 445.0,701.5 443.9,704.0 442.4,714.0 441.2,724.5 439.7,731.5 438.6,733.6 437.5,734.3 436.5,736.3 435.4,737.7 434.3,739.2 433.3,740.3 432.2,740.8 431.1,742.4 430.1,743.1 429.0,743.3 428.0,743.8 426.9,744.2 425.8,744.5 424.8,745.0 423.7,745.8 422.6,746.3 421.6,746.7 420.5,747.5 419.4,748.0 418.4,748.5 417.3,750.3 416.2,751.2 415.2,751.0 414.1,751.8 413.0,753.7 412.0,754.1 410.9,754.6 409.9,755.6 408.8,755.9 407.7,757.3 406.7,756.1 405.6,755.4 404.5,754.4 403.5,753.6 402.4,753.0 401.3,751.7 400.3,750.1 399.2,749.2 398.1,748.6 397.1,747.9 396.0,746.8 394.9,745.4 393.9,744.1 392.8,741.8 391.8,740.3 390.7,739.2 389.2,736.4 387.5,738.0 386.4,738.1 385.4,738.4 384.3,739.1 383.2,740.0 382.2,740.3 381.1,741.0 380.0,740.0 379.0,739.6 377.9,740.4 376.8,739.8 375.8,741.2 374.7,741.7 373.7,743.1 372.6,744.5 371.5,744.9 370.5,746.0 369.4,746.2 368.3,745.4 367.3,745.1 366.2,745.9 365.1,746.1 364.1,745.9 363.0,746.4 361.9,747.2 360.9,746.6 359.8,746.0" fill="#d3dfee"/>
<polygon points="584.8,724.8 586.5,722.8 588.0,722.3 589.5,725.0 591.2,727.1 592.3,727.3 593.3,727.2 594.4,727.1 595.5,726.8 596.5,726.7 597.6,726.7 598.7,728.6 599.7,729.2 600.8,727.8 601.8,727.6 602.9,727.0 604.0,725.7 605.0,724.7 606.1,724.8 607.2,724.3 608.2,723.3 609.3,721.9 610.4,721.2 611.4,720.0 612.5,720.1 613.6,718.6 614.6,718.5 615.7,719.5 616.8,719.1 617.8,719.4 618.9,719.7 619.9,720.1 621.0,720.9 622.1,721.5 623.1,720.9 624.2,721.4 625.3,722.7 626.3,723.3 627.4,724.3 628.5,724.6 629.5,725.2 630.6,725.6 631.7,724.0 632.7,724.5 633.8,725.4 634.9,725.8 635.9,726.0 637.0,726.0 638.0,727.2 639.1,727.1 640.2,727.0 641.2,726.9 642.3,726.9 643.4,726.6 644.4,725.5 645.5,725.9 646.6,727.2 647.6,726.5 648.7,727.6 649.8,727.3 650.8,727.4 651.9,727.4 653.0,727.6 654.0,727.2 655.1,725.1 656.1,724.9 657.2,723.2 658.3,722.8 659.3,723.3 660.4,723.0 661.5,723.0 662.5,722.8 663.6,722.7 664.7,723.1 665.7,723.1 667.4,722.8 668.9,715.2 670.0,710.8 671.1,706.9 672.1,704.3 673.2,700.9 674.3,700.4 675.3,699.3 676.4,699.2 677.4,699.8 678.5,702.0 679.6,704.1 680.6,705.7 681.7,707.0 682.8,708.7 683.8,711.1 684.9,712.1 686.0,714.0 687.0,716.4 688.1,718.4 689.2,720.5 690.2,723.9 691.3,725.9 692.4,728.3 693.4,730.1 694.5,732.2 695.5,734.4 696.6,735.9 697.7,738.0 698.7,739.2 699.8,742.5 700.9,744.3 701.9,746.9 703.0,748.8 704.1,751.5 705.1,753.0 706.2,755.8 707.3,757.9 708.3,760.1 709.4,761.3 710.5,764.9 711.5,767.4 712.6,768.9 713.6,770.5 714.7,769.7 715.8,770.7 716.8,769.8 717.9,769.2 719.0,769.5 720.0,770.6 721.1,771.1 722.2,771.8 723.2,772.1 724.3,773.3 725.4,774.7 726.4,772.7 727.5,771.1 728.6,769.2 729.6,768.5 730.7,766.2 731.7,764.4 732.8,762.3 733.9,761.0 734.9,760.9 736.0,761.7 737.1,762.2 738.1,763.2 739.2,761.8 740.3,759.4 741.3,758.2 742.4,756.9 743.5,754.3 744.5,752.6 745.6,753.0 746.7,753.0 747.7,754.2 748.8,754.4 749.8,752.2 750.9,751.2 752.6,744.0 752.6,769.1 750.9,775.9 749.8,777.3 748.8,779.8 747.7,779.0 746.7,778.4 745.6,777.8 744.5,776.9 743.5,779.2 742.4,781.3 741.3,783.5 740.3,784.8 739.2,786.0 738.1,788.1 737.1,787.7 736.0,786.2 734.9,786.3 733.9,786.1 732.8,787.4 731.7,789.8 730.7,791.8 729.6,793.0 728.6,794.6 727.5,796.2 726.4,798.0 725.4,800.5 724.3,798.7 723.2,796.9 722.2,795.9 721.1,795.4 720.0,795.4 719.0,794.4 717.9,794.2 716.8,795.3 715.8,795.3 714.7,795.8 713.6,795.2 712.6,793.6 711.5,791.7 710.5,789.4 709.4,786.5 708.3,784.3 707.3,782.0 706.2,780.0 705.1,777.8 704.1,775.9 703.0,774.1 701.9,771.7 700.9,769.3 699.8,766.7 698.7,764.1 697.7,763.1 696.6,761.0 695.5,759.7 694.5,757.1 693.4,754.8 692.4,752.2 691.3,750.8 690.2,748.8 689.2,745.2 688.1,742.6 687.0,740.9 686.0,739.4 684.9,736.7 683.8,736.2 682.8,734.5 681.7,732.2 680.6,731.1 679.6,729.5 678.5,727.4 677.4,725.3 676.4,724.6 675.3,723.6 674.3,725.5 673.2,726.2 672.1,728.3 671.1,731.4 670.0,735.3 668.9,739.6 667.4,748.7 665.7,748.3 664.7,747.5 663.6,746.8 662.5,747.4 661.5,748.4 660.4,748.2 659.3,747.9 658.3,747.9 657.2,748.1 656.1,749.6 655.1,750.5 654.0,752.0 653.0,752.8 651.9,752.3 650.8,752.8 649.8,753.0 648.7,752.3 647.6,752.5 646.6,752.1 645.5,751.8 644.4,751.0 643.4,750.7 642.3,751.3 641.2,752.4 640.2,752.1 639.1,752.4 638.0,751.9 637.0,751.1 635.9,751.0 634.9,750.0 633.8,750.5 632.7,749.9 631.7,750.1 630.6,750.6 629.5,750.1 628.5,750.2 627.4,749.5 626.3,748.5 625.3,747.0 624.2,747.1 623.1,746.1 622.1,745.8 621.0,745.5 619.9,746.1 618.9,745.5 617.8,744.8 616.8,744.5 615.7,744.8 614.6,744.2 613.6,743.8 612.5,744.9 611.4,745.7 610.4,746.0 609.3,747.2 608.2,748.8 607.2,749.3 606.1,749.5 605.0,749.7 604.0,750.9 602.9,752.1 601.8,752.6 600.8,753.3 599.7,753.2 598.7,753.5 597.6,751.8 596.5,752.2 595.5,752.2 594.4,752.0 593.3,752.5 592.3,751.8 591.2,751.8 589.5,749.9 588.0,747.3 586.5,748.0 584.8,749.5" fill="#f9e4c1"/>
<polygon points="798.1,730.8 799.8,729.1 800.9,728.7 801.9,727.7 803.0,728.7 804.1,728.4 805.1,728.0 806.2,727.5 807.3,727.2 808.3,728.0 809.4,727.5 810.5,726.3 811.5,727.0 812.6,727.5 813.7,726.9 814.7,726.1 815.8,726.5 816.8,725.6 817.9,726.0 819.0,726.7 820.0,726.0 821.1,725.3 822.2,724.8 823.2,724.6 824.3,724.5 825.4,724.4 826.4,724.1 827.5,724.6 828.6,724.9 829.6,725.2 830.7,725.5 831.8,724.8 832.8,724.1 833.9,723.9 834.9,724.5 836.0,723.7 837.1,724.6 838.1,724.2 839.2,725.4 840.3,726.3 841.3,728.8 842.4,729.6 843.5,729.9 844.5,729.9 845.6,730.5 846.7,731.4 847.7,731.7 848.8,732.2 849.9,732.7 850.9,732.7 852.0,733.4 853.0,732.8 854.1,734.1 855.2,733.8 856.2,733.2 857.3,733.5 858.4,732.9 859.4,731.6 860.5,730.6 861.6,730.9 862.6,730.0 863.7,729.1 864.8,728.8 865.8,726.9 866.9,726.3 868.0,725.8 869.0,724.9 870.1,725.0 871.1,724.1 872.2,722.8 873.3,722.0 874.3,721.1 875.4,720.8 876.5,720.0 877.5,719.1 878.6,717.1 879.7,716.6 880.7,714.6 881.8,713.7 882.9,712.7 883.9,712.2 885.0,712.5 886.7,713.2 888.2,715.4 889.3,717.9 890.3,721.1 891.4,724.3 892.4,727.7 893.5,731.9 894.6,734.8 895.6,738.1 896.7,740.9 897.8,741.7 898.8,743.8 899.9,744.8 901.0,745.0 902.0,745.4 903.1,746.5 904.2,747.2 905.2,748.0 906.3,749.1 907.4,750.8 908.4,751.8 909.5,752.9 910.5,753.5 911.6,754.1 912.7,755.2 913.7,756.5 914.8,758.0 915.9,758.2 916.9,760.2 918.0,761.3 919.1,762.0 920.1,762.5 921.2,764.2 922.3,764.4 923.3,765.1 924.4,765.3 925.5,764.4 926.5,762.9 927.6,762.0 928.6,760.4 929.7,758.2 930.8,755.7 931.8,753.8 932.9,752.3 934.0,750.5 935.0,749.7 936.1,748.5 937.2,747.4 938.2,746.4 939.3,745.5 940.4,744.1 941.4,742.6 942.5,742.3 943.6,740.8 944.6,741.0 945.7,740.3 946.7,741.3 947.8,741.1 948.9,740.9 949.9,741.6 951.0,740.4 952.1,741.2 953.1,741.0 954.2,740.3 955.3,740.5 956.3,739.7 957.4,739.6 958.5,738.7 959.5,738.7 960.6,739.5 961.7,739.1 962.7,740.6 963.8,737.9 964.8,736.2 964.8,752.0 963.8,754.8 962.7,755.9 961.7,755.3 960.6,754.4 959.5,755.2 958.5,754.7 957.4,755.6 956.3,755.5 955.3,755.6 954.2,756.8 953.1,756.5 952.1,757.3 951.0,756.8 949.9,756.6 948.9,756.5 947.8,757.4 946.7,757.1 945.7,757.3 944.6,757.4 943.6,757.3 942.5,758.2 941.4,759.2 940.4,759.4 939.3,761.0 938.2,761.7 937.2,763.1 936.1,763.6 935.0,764.7 934.0,767.4 932.9,768.1 931.8,770.6 930.8,771.4 929.7,773.9 928.6,775.7 927.6,777.7 926.5,779.5 925.5,780.2 924.4,781.3 923.3,781.4 922.3,780.4 921.2,780.0 920.1,779.6 919.1,778.1 918.0,777.1 916.9,775.6 915.9,774.3 914.8,773.4 913.7,772.1 912.7,771.4 911.6,770.6 910.5,769.3 909.5,769.0 908.4,767.4 907.4,765.8 906.3,765.8 905.2,764.7 904.2,762.9 903.1,762.5 902.0,761.1 901.0,761.1 899.9,760.7 898.8,760.0 897.8,758.1 896.7,756.4 895.6,754.0 894.6,751.3 893.5,747.2 892.4,743.5 891.4,740.6 890.3,737.6 889.3,734.6 888.2,730.7 886.7,729.1 885.0,728.5 883.9,728.9 882.9,729.0 881.8,729.5 880.7,731.0 879.7,732.2 878.6,733.6 877.5,735.0 876.5,735.3 875.4,736.6 874.3,738.0 873.3,738.4 872.2,739.4 871.1,740.3 870.1,741.3 869.0,741.6 868.0,742.7 866.9,742.5 865.8,744.0 864.8,743.9 863.7,745.3 862.6,745.7 861.6,747.0 860.5,746.7 859.4,747.6 858.4,748.5 857.3,748.9 856.2,749.1 855.2,750.3 854.1,749.1 853.0,748.9 852.0,749.4 850.9,748.4 849.9,748.5 848.8,748.0 847.7,747.4 846.7,747.1 845.6,746.2 844.5,746.9 843.5,746.7 842.4,745.6 841.3,744.4 840.3,742.3 839.2,742.2 838.1,740.4 837.1,740.3 836.0,740.3 834.9,739.6 833.9,740.4 832.8,740.5 831.8,741.3 830.7,740.5 829.6,741.6 828.6,740.6 827.5,741.0 826.4,739.9 825.4,740.1 824.3,740.9 823.2,740.6 822.2,741.5 821.1,741.3 820.0,742.1 819.0,742.6 817.9,742.1 816.8,741.7 815.8,742.6 814.7,742.7 813.7,743.4 812.6,743.3 811.5,742.9 810.5,743.0 809.4,742.8 808.3,743.8 807.3,743.7 806.2,743.4 805.1,744.3 804.1,744.6 803.0,743.8 801.9,744.2 800.9,744.4 799.8,745.4 798.1,746.0" fill="#f9e4c1"/>
<line x1="139.3" y1="391.0" x2="322.8" y2="391.0" stroke="#8a8a8a" stroke-width="1.9" stroke-dasharray="7.5 5"/>
<line x1="351.8" y1="391.0" x2="536.0" y2="391.0" stroke="#8a8a8a" stroke-width="1.9" stroke-dasharray="7.5 5"/>
<line x1="576.6" y1="391.0" x2="761.0" y2="391.0" stroke="#8a8a8a" stroke-width="1.9" stroke-dasharray="7.5 5"/>
<line x1="789.7" y1="391.0" x2="974.5" y2="391.0" stroke="#8a8a8a" stroke-width="1.9" stroke-dasharray="7.5 5"/>
<line x1="139.3" y1="565.4" x2="322.8" y2="565.4" stroke="#8a8a8a" stroke-width="1.9" stroke-dasharray="7.5 5"/>
<line x1="351.8" y1="565.4" x2="536.0" y2="565.4" stroke="#8a8a8a" stroke-width="1.9" stroke-dasharray="7.5 5"/>
<line x1="576.6" y1="565.4" x2="761.0" y2="565.4" stroke="#8a8a8a" stroke-width="1.9" stroke-dasharray="7.5 5"/>
<line x1="789.7" y1="565.4" x2="974.5" y2="565.4" stroke="#8a8a8a" stroke-width="1.9" stroke-dasharray="7.5 5"/>
<line x1="139.3" y1="740.4" x2="322.8" y2="740.4" stroke="#8a8a8a" stroke-width="1.9" stroke-dasharray="7.5 5"/>
<line x1="351.8" y1="740.4" x2="536.0" y2="740.4" stroke="#8a8a8a" stroke-width="1.9" stroke-dasharray="7.5 5"/>
<line x1="576.6" y1="740.4" x2="761.0" y2="740.4" stroke="#8a8a8a" stroke-width="1.9" stroke-dasharray="7.5 5"/>
<line x1="789.7" y1="740.4" x2="974.5" y2="740.4" stroke="#8a8a8a" stroke-width="1.9" stroke-dasharray="7.5 5"/>
<line x1="231.4" y1="316.5" x2="231.4" y2="831.8" stroke="#8a8a8a" stroke-width="1.7" stroke-dasharray="8 6"/>
<line x1="444.4" y1="316.5" x2="444.4" y2="831.8" stroke="#8a8a8a" stroke-width="1.7" stroke-dasharray="8 6"/>
<line x1="669.0" y1="316.5" x2="669.0" y2="831.8" stroke="#8a8a8a" stroke-width="1.7" stroke-dasharray="8 6"/>
<line x1="882.2" y1="316.5" x2="882.2" y2="831.8" stroke="#8a8a8a" stroke-width="1.7" stroke-dasharray="8 6"/>
<polyline points="147.4,402.5 149.6,406.0 151.8,408.7 154.3,411.2 155.9,417.1 158.1,421.4 159.9,423.6 162.2,428.8 163.7,419.8 165.3,418.0 166.9,415.1 168.5,410.4 170.0,416.3 171.6,413.9 173.2,408.9 174.7,412.5 176.3,408.3 177.9,415.1 179.5,410.4 182.0,412.0 184.2,414.5 186.4,411.4 188.9,405.8 191.4,402.1 193.6,392.3 195.2,387.3 197.7,389.8 199.9,385.5 202.1,386.9 204.7,388.5 207.2,385.3 209.4,392.4 211.6,389.6 214.1,385.3 216.6,381.2 218.8,373.5 221.0,367.2 223.6,360.6 226.1,364.0 228.3,359.9 230.5,361.5 233.0,357.5 234.6,350.8 236.1,345.5 238.7,343.0 240.9,345.6 243.1,343.0 245.0,344.3 247.2,351.3 248.7,357.4 250.3,363.6 251.9,364.4 254.4,369.7 256.6,367.4 258.2,374.0 260.1,381.1 262.0,392.2 263.9,396.2 266.1,389.3 267.6,380.6 270.2,378.9 272.4,377.3 273.9,376.2 275.5,372.6 277.1,372.0 278.7,368.5 280.2,368.3 281.8,373.4 283.4,375.7 284.9,376.0 286.5,383.7 288.1,395.0 289.7,404.5 291.2,399.3 292.8,394.2 294.4,396.8 296.0,401.1 297.5,399.3 299.1,394.7 300.7,399.2 302.3,392.5 303.8,385.3 305.4,384.6 307.0,388.3 308.6,398.6 310.1,401.4 311.7,394.7 314.2,394.3" fill="none" stroke="#5582c5" stroke-width="2.3" stroke-linejoin="round" stroke-linecap="round"/>
<polyline points="360.2,386.6 362.1,382.8 363.8,381.3 366.2,383.4 368.6,383.9 371.0,385.3 373.4,386.0 375.8,387.5 378.2,388.3 380.6,388.5 383.1,389.9 385.5,390.9 387.1,393.2 389.1,393.8 391.0,395.3 392.7,394.7 395.1,397.0 397.5,398.6 399.9,398.9 402.3,398.3 404.7,397.4 407.1,394.7 409.5,390.9 411.2,388.4 413.1,390.0 415.6,391.6 418.0,391.1 420.4,391.6 422.8,392.4 425.2,390.0 427.6,386.1 430.0,382.9 432.4,378.0 434.8,373.4 437.2,369.3 439.6,366.3 442.0,362.6 444.0,361.1 445.6,362.0 447.3,359.9 449.3,357.2 451.2,356.5 452.9,358.9 454.1,363.6 456.0,368.8 457.7,373.9 459.4,378.2 461.3,383.0 463.2,386.0 464.9,388.6 466.6,389.6 468.5,388.9 470.9,386.6 473.3,386.2 475.7,389.0 477.7,391.1 479.3,393.8 481.0,395.8 483.0,401.3 485.4,405.6 487.8,410.0 490.2,413.7 492.6,416.2 495.0,417.3 497.4,416.6 499.8,417.4 502.2,418.0 504.6,415.5 507.0,412.5 509.0,410.3 511.4,407.5 513.0,405.2 514.7,407.6 516.7,410.3 518.6,411.5 520.3,408.5 522.7,406.7 525.1,403.6 527.5,399.4" fill="none" stroke="#5582c5" stroke-width="2.3" stroke-linejoin="round" stroke-linecap="round"/>
<polyline points="585.3,393.1 586.9,393.8 588.1,392.8 589.4,396.3 591.0,398.0 592.5,399.7 594.2,406.3 595.8,411.7 597.8,409.2 599.7,406.6 601.4,405.4 603.1,403.3 604.5,407.0 606.2,402.7 607.9,404.0 609.3,410.5 611.0,418.9 612.2,419.9 613.4,414.4 615.1,403.9 616.6,398.5 618.2,391.5 619.4,394.1 620.6,402.4 621.8,404.9 623.1,400.9 624.3,394.4 625.5,398.0 627.1,392.4 628.6,391.0 629.6,394.4 631.0,398.2 632.7,395.2 634.4,394.2 635.8,392.4 637.5,391.6 639.2,391.4 640.6,389.9 642.3,388.5 644.0,390.9 645.4,398.2 646.4,394.1 647.8,390.4 649.5,387.1 651.2,384.7 652.7,376.1 653.6,373.4 655.1,385.5 656.0,391.4 657.5,383.1 659.2,372.7 660.4,374.8 661.6,380.1 662.8,384.3 664.0,387.2 665.2,384.0 666.4,381.9 667.6,374.0 668.8,366.5 670.0,360.6 671.2,356.0 672.4,358.0 673.6,362.8 674.8,363.9 676.0,356.3 677.2,350.0 678.4,346.2 679.6,349.0 680.8,345.8 682.0,349.8 683.2,343.7 684.4,349.7 685.6,356.2 686.8,361.0 688.1,354.8 689.3,359.6 690.5,359.3 691.7,365.3 692.9,374.0 694.1,385.9 695.3,390.6 696.5,390.9 697.7,393.0 698.9,392.6 700.1,399.5 701.3,406.3 702.5,408.5 703.7,409.0 704.9,403.8 706.1,397.9 707.3,401.9 708.5,404.3 709.7,396.2 710.9,390.8 712.1,389.1 713.3,388.6 714.5,393.4 715.7,390.3 716.9,389.8 718.1,384.4 719.3,381.3 720.5,385.5 721.8,383.0 723.0,384.6 724.2,387.9 725.4,395.1 726.6,404.6 727.8,408.9 729.0,409.9 730.2,405.1 731.4,404.0 732.6,405.2 733.8,409.4 735.0,413.0 736.2,413.7 737.4,415.6 738.6,408.9 739.8,401.1 741.0,402.2 742.2,404.5 743.4,405.0 744.6,402.7 745.8,406.5 747.0,407.9 748.2,406.6 749.4,411.2 750.6,411.0 751.8,406.5" fill="none" stroke="#f39e2d" stroke-width="2.3" stroke-linejoin="round" stroke-linecap="round"/>
<polyline points="798.4,391.7 800.1,395.1 802.5,396.5 804.9,397.3 807.3,397.6 809.7,398.7 812.1,401.1 814.5,402.3 816.9,401.3 819.4,401.1 821.8,402.0 824.2,403.7 826.6,401.6 829.0,403.1 831.4,401.3 833.1,403.3 835.0,404.7 836.9,402.3 838.6,399.7 841.0,399.0 843.4,398.7 845.8,399.8 848.2,397.0 850.6,396.2 853.1,394.8 855.5,394.0 857.9,392.0 860.3,391.2 862.7,389.7 865.1,387.1 867.5,384.8 869.9,382.4 872.3,381.5 874.0,378.4 875.4,381.6 877.1,383.8 878.8,385.4 880.3,382.8 881.9,380.8 883.6,377.7 885.6,380.4 887.5,376.7 889.2,375.4 890.4,378.3 891.6,382.5 893.3,390.3 895.2,395.9 897.6,400.7 900.0,404.5 902.4,408.1 904.8,412.7 907.2,416.1 909.6,419.3 912.0,421.2 914.4,424.6 916.8,428.7 919.3,432.2 921.7,432.7 924.1,432.0 926.5,432.4 928.9,432.0 931.3,431.3 933.7,428.9 935.6,424.8 937.3,421.2 939.7,418.6 942.1,420.2 944.5,416.6 946.9,414.0 949.3,412.8 951.8,410.2 954.2,408.3 956.6,405.6 959.0,404.3 961.4,401.9 963.8,399.4 965.5,396.3" fill="none" stroke="#f39e2d" stroke-width="2.3" stroke-linejoin="round" stroke-linecap="round"/>
<polyline points="147.2,561.6 149.4,560.4 150.7,559.8 152.0,559.4 153.4,559.6 154.7,560.0 156.1,559.3 157.4,558.9 158.8,558.9 160.1,558.6 161.4,557.9 162.8,558.0 164.1,557.3 165.5,557.4 166.8,558.0 168.2,559.2 169.5,560.4 170.8,561.9 172.2,562.9 173.5,564.6 174.9,566.0 176.2,566.9 177.6,568.4 178.9,570.1 180.2,571.3 181.6,572.7 182.9,574.6 184.3,576.2 185.6,576.8 186.9,578.0 188.3,578.7 189.6,578.9 191.0,579.0 192.3,578.7 193.7,578.4 195.0,578.4 196.3,577.0 197.7,575.5 199.0,573.6 200.4,572.7 201.7,570.9 203.1,570.3 204.4,569.4 205.7,568.3 207.1,566.8 208.4,566.2 209.8,565.0 211.1,564.9 212.5,563.9 213.8,562.8 215.1,562.9 216.5,561.8 217.8,560.2 219.2,558.0 220.5,555.9 221.9,554.2 223.2,550.9 224.5,548.8 225.9,546.3 227.2,544.0 228.6,541.6 229.9,536.0 231.3,528.0 232.6,527.1 233.9,527.3 235.3,528.0 236.6,528.4 238.0,528.7 240.1,531.4 241.2,536.8 242.8,547.5 243.9,558.3 245.5,571.2 247.4,587.7 249.2,603.3 251.4,614.6 253.5,619.9 255.4,622.0 257.3,620.7 259.5,616.6 261.6,609.3 263.7,600.9 266.2,594.2 268.0,591.8 269.7,591.9 271.5,595.6 273.4,600.8 275.6,602.4 276.9,600.8 278.2,599.2 279.6,598.6 280.9,596.6 282.3,595.7 283.6,594.4 285.0,592.6 286.3,591.6 287.6,590.0 289.0,588.5 290.3,586.5 291.7,585.1 293.0,582.6 294.4,580.7 295.7,578.0 297.0,574.9 298.4,573.5 299.7,571.5 301.1,571.6 302.4,571.2 303.8,570.8 305.1,570.6 306.4,570.6 307.8,570.1 309.1,569.6 310.5,569.4 311.8,568.7 313.2,569.0 314.5,567.2" fill="none" stroke="#5582c5" stroke-width="2.3" stroke-linejoin="round" stroke-linecap="round"/>
<polyline points="360.4,559.5 361.4,555.6 362.8,552.0 364.4,551.9 366.5,550.1 368.5,549.1 370.6,547.3 372.6,546.6 374.6,545.7 376.7,544.8 378.7,545.1 380.7,545.7 382.8,546.0 384.8,548.2 386.9,549.8 388.9,553.6 390.9,556.2 393.0,560.2 395.0,562.5 397.0,565.6 399.1,567.7 401.1,568.9 403.1,570.3 405.2,570.5 407.2,571.6 409.3,570.9 411.3,570.2 413.3,570.5 415.4,569.6 417.4,569.8 419.4,569.0 421.5,566.9 423.5,565.2 425.6,563.4 427.6,561.5 429.6,559.1 431.7,556.1 433.7,553.7 435.7,550.2 437.8,546.9 439.8,543.9 441.4,541.2 442.9,534.7 443.9,526.8 444.9,518.7 445.9,517.6 446.9,519.7 448.4,522.1 450.0,522.3 451.6,523.2 453.1,524.5 454.1,530.5 455.1,541.4 456.1,553.4 457.1,565.6 458.2,577.5 460.2,590.3 462.2,600.0 464.3,603.4 466.3,603.0 468.3,602.3 470.4,600.3 472.4,596.0 474.4,590.0 476.5,584.5 478.5,583.0 480.6,584.1 482.6,586.6 484.6,591.1 486.7,593.3 488.7,593.3 490.7,593.4 492.8,592.4 494.8,591.2 496.9,589.8 498.9,585.6 500.9,581.6 503.0,577.4 505.0,574.7 507.0,571.4 509.1,569.5 511.1,567.6 513.2,565.4 515.2,563.8 517.2,563.7 519.3,564.8 521.3,566.3 523.3,566.7 525.4,568.5 527.4,568.9" fill="none" stroke="#5582c5" stroke-width="2.3" stroke-linejoin="round" stroke-linecap="round"/>
<polyline points="584.9,561.7 586.5,559.7 588.5,560.3 590.6,561.2 592.6,562.1 594.6,561.7 596.7,559.4 598.7,558.8 600.7,557.7 602.8,557.2 604.8,557.4 606.9,557.8 608.9,557.8 610.9,557.4 613.0,558.4 615.0,560.1 617.0,561.4 619.1,561.5 621.1,562.2 623.1,562.4 625.2,563.9 627.2,564.5 629.3,565.7 631.3,565.2 633.3,564.5 635.4,564.6 637.4,563.7 639.4,564.6 641.5,565.5 643.5,565.2 645.6,566.5 647.6,565.5 649.6,564.4 651.7,563.1 653.7,563.2 655.7,561.6 657.8,560.2 659.8,559.4 661.9,558.1 663.9,557.6 665.9,557.2 668.0,555.2 670.0,550.0 672.0,545.3 674.1,542.3 676.1,543.3 678.2,544.8 680.2,549.2 682.2,555.2 684.3,561.6 686.3,563.4 688.3,563.2 690.4,563.7 692.4,563.3 694.4,564.8 696.5,567.4 698.5,569.7 700.6,571.9 702.6,573.8 704.6,577.0 706.7,579.4 708.7,584.3 710.7,587.5 712.8,590.2 714.8,587.4 716.9,586.7 718.9,588.9 720.9,586.9 723.0,584.2 725.0,581.5 727.0,579.8 729.1,577.6 731.1,574.1 733.2,569.5 735.2,565.1 737.2,563.3 739.3,564.3 741.3,563.4 743.3,562.6 745.4,560.8 747.4,558.3 749.4,557.2 751.5,559.2 752.5,560.7" fill="none" stroke="#f39e2d" stroke-width="2.3" stroke-linejoin="round" stroke-linecap="round"/>
<polyline points="798.7,558.0 800.0,550.2 801.4,548.6 803.4,547.4 805.5,547.2 807.5,547.1 809.5,545.0 811.6,543.9 813.6,545.2 815.6,544.7 817.7,545.6 819.7,545.1 821.8,543.9 823.8,545.2 825.8,544.7 827.9,544.8 829.9,545.5 831.9,547.6 834.0,549.1 836.0,550.4 838.1,549.4 840.1,551.9 842.1,554.7 844.2,555.4 846.2,556.8 848.2,557.2 850.3,557.0 852.3,558.9 854.4,560.1 856.4,561.9 858.4,563.1 859.9,566.3 861.1,565.3 862.5,563.1 863.9,561.1 865.6,562.2 867.2,564.6 868.6,565.2 870.0,563.8 871.7,559.4 873.7,557.2 875.7,556.2 877.8,556.1 879.8,555.0 881.4,553.6 882.3,547.9 883.5,542.5 884.9,541.0 886.9,540.8 889.0,540.4 890.4,538.7 892.0,541.7 894.1,546.4 896.1,549.3 898.2,551.5 900.2,552.7 902.2,553.3 904.3,554.1 906.3,556.3 908.3,558.8 910.4,561.6 912.4,564.4 914.4,567.4 916.5,571.4 918.5,574.4 920.6,578.1 922.6,580.8 924.6,583.6 926.7,584.6 928.7,583.9 930.7,581.9 932.8,580.0 934.8,577.3 936.9,574.6 938.9,571.6 940.9,567.4 943.0,564.0 945.0,560.8 947.0,558.9 949.1,558.8 951.1,558.8 953.2,558.7 955.2,558.1 957.2,557.1 959.3,558.9 961.3,558.6 963.3,559.7 965.4,561.5" fill="none" stroke="#f39e2d" stroke-width="2.3" stroke-linejoin="round" stroke-linecap="round"/>
<polyline points="147.2,741.9 148.8,746.6 150.7,747.4 152.0,747.0 153.4,746.9 154.7,747.0 156.1,747.6 157.4,746.9 158.8,745.4 160.1,743.5 161.4,740.6 162.8,738.9 164.1,737.0 165.5,736.1 166.8,734.6 168.2,735.0 169.5,736.0 170.8,734.4 172.2,733.3 174.1,734.9 176.2,737.1 177.6,737.8 178.9,738.4 180.2,738.2 181.6,738.3 182.9,738.9 184.3,739.3 185.6,740.4 186.9,740.8 188.3,741.2 189.6,741.9 191.0,741.8 192.3,742.6 193.7,742.0 195.0,742.5 197.2,740.6 199.0,738.6 200.9,740.7 203.1,738.6 205.2,734.0 207.1,737.2 209.0,740.4 211.1,740.8 212.5,740.1 213.8,739.9 215.1,738.6 216.5,737.2 218.6,738.4 220.5,740.6 221.9,741.7 223.2,743.1 224.5,743.4 225.9,744.0 227.2,742.9 228.6,742.0 229.9,738.4 231.3,729.9 232.6,717.1 234.7,705.9 236.6,701.0 238.8,697.8 240.7,700.4 242.8,708.6 244.7,719.0 246.6,732.8 248.2,744.8 250.1,753.9 251.4,758.0 252.7,761.0 254.1,763.3 255.4,766.9 256.8,768.2 258.1,770.2 259.5,772.1 260.8,774.1 262.1,776.0 263.5,777.3 264.8,777.9 266.2,778.3 267.5,779.7 268.9,781.6 270.2,782.4 271.5,784.3 272.9,785.3 274.2,785.7 275.6,784.6 276.9,782.1 278.2,781.0 279.6,779.3 280.9,778.7 282.3,778.0 283.6,777.2 285.0,775.5 286.3,774.5 287.6,772.9 289.0,772.0 290.3,770.7 291.7,770.7 293.0,770.0 294.4,769.8 295.7,769.2 297.0,768.5 298.4,768.2 299.7,767.8 301.1,767.3 302.4,766.0 303.8,765.5 305.1,763.6 306.4,762.1 307.8,761.6 309.1,761.3 310.5,760.5 311.8,759.3 313.2,756.9 314.5,754.7" fill="none" stroke="#5582c5" stroke-width="2.3" stroke-linejoin="round" stroke-linecap="round"/>
<polyline points="359.8,740.4 361.9,741.2 364.1,740.1 366.2,740.0 368.3,739.0 370.5,739.4 372.6,738.2 374.7,736.2 376.8,734.0 379.0,734.0 381.1,734.6 383.2,733.0 385.4,731.8 387.5,731.2 389.2,730.4 390.7,733.1 392.8,736.4 394.9,739.1 397.1,741.5 399.2,743.5 401.3,745.2 403.5,748.1 405.6,749.5 407.7,750.4 409.9,749.7 412.0,747.2 414.1,746.1 416.2,744.4 418.4,743.1 420.5,741.2 422.6,740.5 424.8,739.4 426.9,738.6 429.0,737.4 431.1,735.7 433.3,733.8 435.4,731.6 437.5,728.6 439.7,725.3 441.2,718.7 442.4,708.3 443.9,698.0 445.0,695.2 446.7,696.4 448.2,697.2 449.3,695.1 451.0,692.9 452.4,694.3 453.5,702.2 454.6,712.7 456.1,727.8 457.3,744.7 458.8,761.6 460.3,776.5 462.0,786.6 464.2,794.4 466.3,797.5 468.4,796.7 470.5,792.0 472.7,786.0 474.8,780.5 476.9,775.3 479.1,772.0 481.2,771.3 483.3,772.3 485.5,773.5 487.6,773.3 489.7,772.8 491.8,773.9 494.0,771.4 496.1,765.1 498.2,760.6 500.4,757.9 502.5,756.5 504.6,754.2 506.7,750.6 508.9,750.1 511.0,751.1 513.1,753.3 515.3,752.3 517.4,753.0 519.5,753.3 521.7,753.8 523.8,755.3 525.9,756.9 527.6,749.6" fill="none" stroke="#5582c5" stroke-width="2.3" stroke-linejoin="round" stroke-linecap="round"/>
<polyline points="584.8,737.0 586.5,735.9 588.0,734.9 589.5,737.4 591.2,739.2 593.3,740.6 595.5,738.7 597.6,739.7 599.7,741.3 601.8,740.4 604.0,738.9 606.1,737.1 608.2,735.9 610.4,733.9 612.5,732.1 614.6,731.4 616.8,732.5 618.9,732.3 621.0,733.2 623.1,734.1 625.3,734.5 627.4,737.2 629.5,737.6 631.7,737.1 633.8,737.9 635.9,737.8 638.0,739.0 640.2,739.5 642.3,739.3 644.4,738.5 646.6,739.2 648.7,739.6 650.8,740.3 653.0,740.6 655.1,738.3 657.2,736.3 659.3,735.3 661.5,735.9 663.6,734.8 665.7,735.4 667.4,736.2 668.9,727.1 671.1,718.9 673.2,713.8 675.3,711.8 677.4,712.1 679.6,716.5 681.7,719.9 683.8,723.5 686.0,726.0 688.1,730.9 690.2,735.8 692.4,740.2 694.5,744.8 696.6,748.3 698.7,751.7 700.9,756.9 703.0,761.1 705.1,765.6 707.3,770.2 709.4,774.3 711.5,779.2 713.6,783.0 715.8,782.8 717.9,781.4 720.0,783.1 722.2,784.1 724.3,785.7 725.4,787.8 727.5,784.1 729.6,780.4 731.7,777.0 733.9,773.5 736.0,774.5 738.1,775.0 740.3,772.4 742.4,769.2 744.5,764.8 746.7,766.0 748.8,767.2 750.9,763.4 752.6,756.5" fill="none" stroke="#f39e2d" stroke-width="2.3" stroke-linejoin="round" stroke-linecap="round"/>
<polyline points="798.1,738.9 799.8,736.8 801.9,736.1 804.1,736.5 806.2,736.2 808.3,735.6 810.5,734.7 812.6,735.3 814.7,734.3 816.8,733.5 819.0,734.5 821.1,733.7 823.2,732.5 825.4,732.3 827.5,732.9 829.6,733.0 831.8,733.0 833.9,732.3 836.0,731.9 838.1,732.4 840.3,734.7 842.4,738.3 844.5,738.4 846.7,739.4 848.8,739.4 850.9,740.3 853.0,741.1 855.2,742.2 857.3,740.9 859.4,739.4 861.6,738.7 863.7,736.6 865.8,735.6 868.0,733.8 870.1,732.5 872.2,731.4 874.3,729.9 876.5,727.7 878.6,725.2 880.7,722.3 882.9,720.9 885.0,719.7 886.7,720.8 888.2,723.3 890.3,729.8 892.4,735.9 894.6,743.6 896.7,748.4 898.8,751.8 901.0,752.8 903.1,753.8 905.2,756.4 907.4,758.0 909.5,760.3 911.6,762.3 913.7,765.0 915.9,766.9 918.0,768.9 920.1,770.9 922.3,772.9 924.4,773.6 926.5,771.0 928.6,767.9 930.8,763.9 932.9,760.2 935.0,757.0 937.2,754.7 939.3,753.0 941.4,751.1 943.6,748.8 945.7,748.6 947.8,749.6 949.9,749.1 952.1,748.6 954.2,749.0 956.3,748.0 958.5,746.5 960.6,746.7 962.7,748.4 964.8,744.7" fill="none" stroke="#f39e2d" stroke-width="2.3" stroke-linejoin="round" stroke-linecap="round"/>
<line x1="139.3" y1="316.0" x2="139.3" y2="484.4" stroke="#111" stroke-width="2.3"/>
<line x1="136.6" y1="324.0" x2="139.3" y2="324.0" stroke="#111" stroke-width="1.4"/>
<line x1="136.6" y1="391.0" x2="139.3" y2="391.0" stroke="#111" stroke-width="1.4"/>
<line x1="136.6" y1="458.0" x2="139.3" y2="458.0" stroke="#111" stroke-width="1.4"/>
<text x="134.3" y="329.5" font-size="14.5" text-anchor="end" textLength="24.7" lengthAdjust="spacingAndGlyphs">0.4</text>
<text x="125.9" y="396.8" font-size="14.5" text-anchor="end" textLength="8.9" lengthAdjust="spacingAndGlyphs">0</text>
<text x="134.8" y="464.0" font-size="14.5" text-anchor="end" textLength="29.5" lengthAdjust="spacingAndGlyphs">-0.4</text>
<text x="106.5" y="387.1" font-size="14.5" text-anchor="middle" textLength="16.5" lengthAdjust="spacingAndGlyphs" transform="rotate(-90 106.5 387.1)">zF</text>
<line x1="138.1" y1="483.2" x2="322.8" y2="483.2" stroke="#111" stroke-width="2.4"/>
<line x1="148.3" y1="483.2" x2="148.3" y2="486.2" stroke="#111" stroke-width="1.6"/>
<line x1="231.4" y1="483.2" x2="231.4" y2="486.2" stroke="#111" stroke-width="1.6"/>
<line x1="314.6" y1="483.2" x2="314.6" y2="486.2" stroke="#111" stroke-width="1.6"/>
<line x1="351.8" y1="483.2" x2="536.0" y2="483.2" stroke="#111" stroke-width="2.4"/>
<line x1="356.2" y1="483.2" x2="356.2" y2="486.2" stroke="#111" stroke-width="1.6"/>
<line x1="444.4" y1="483.2" x2="444.4" y2="486.2" stroke="#111" stroke-width="1.6"/>
<line x1="527.5" y1="483.2" x2="527.5" y2="486.2" stroke="#111" stroke-width="1.6"/>
<line x1="576.6" y1="483.2" x2="761.0" y2="483.2" stroke="#111" stroke-width="2.4"/>
<line x1="585.5" y1="483.2" x2="585.5" y2="486.2" stroke="#111" stroke-width="1.6"/>
<line x1="669.0" y1="483.2" x2="669.0" y2="486.2" stroke="#111" stroke-width="1.6"/>
<line x1="752.2" y1="483.2" x2="752.2" y2="486.2" stroke="#111" stroke-width="1.6"/>
<line x1="789.7" y1="483.2" x2="974.5" y2="483.2" stroke="#111" stroke-width="2.4"/>
<line x1="801.0" y1="483.2" x2="801.0" y2="486.2" stroke="#111" stroke-width="1.6"/>
<line x1="882.2" y1="483.2" x2="882.2" y2="486.2" stroke="#111" stroke-width="1.6"/>
<line x1="965.4" y1="483.2" x2="965.4" y2="486.2" stroke="#111" stroke-width="1.6"/>
<line x1="139.3" y1="490.7" x2="139.3" y2="658.9" stroke="#111" stroke-width="2.3"/>
<line x1="136.6" y1="499.0" x2="139.3" y2="499.0" stroke="#111" stroke-width="1.4"/>
<line x1="136.6" y1="565.4" x2="139.3" y2="565.4" stroke="#111" stroke-width="1.4"/>
<line x1="136.6" y1="632.3" x2="139.3" y2="632.3" stroke="#111" stroke-width="1.4"/>
<text x="134.3" y="504.5" font-size="14.5" text-anchor="end" textLength="24.7" lengthAdjust="spacingAndGlyphs">0.4</text>
<text x="125.9" y="571.2" font-size="14.5" text-anchor="end" textLength="8.9" lengthAdjust="spacingAndGlyphs">0</text>
<text x="134.8" y="638.3" font-size="14.5" text-anchor="end" textLength="29.5" lengthAdjust="spacingAndGlyphs">-0.4</text>
<text x="106.5" y="562.2" font-size="14.5" text-anchor="middle" textLength="16.5" lengthAdjust="spacingAndGlyphs" transform="rotate(-90 106.5 562.2)">zF</text>
<line x1="138.1" y1="657.7" x2="322.8" y2="657.7" stroke="#111" stroke-width="2.4"/>
<line x1="148.3" y1="657.7" x2="148.3" y2="660.7" stroke="#111" stroke-width="1.6"/>
<line x1="231.4" y1="657.7" x2="231.4" y2="660.7" stroke="#111" stroke-width="1.6"/>
<line x1="314.6" y1="657.7" x2="314.6" y2="660.7" stroke="#111" stroke-width="1.6"/>
<line x1="351.8" y1="657.7" x2="536.0" y2="657.7" stroke="#111" stroke-width="2.4"/>
<line x1="356.2" y1="657.7" x2="356.2" y2="660.7" stroke="#111" stroke-width="1.6"/>
<line x1="444.4" y1="657.7" x2="444.4" y2="660.7" stroke="#111" stroke-width="1.6"/>
<line x1="527.5" y1="657.7" x2="527.5" y2="660.7" stroke="#111" stroke-width="1.6"/>
<line x1="576.6" y1="657.7" x2="761.0" y2="657.7" stroke="#111" stroke-width="2.4"/>
<line x1="585.5" y1="657.7" x2="585.5" y2="660.7" stroke="#111" stroke-width="1.6"/>
<line x1="669.0" y1="657.7" x2="669.0" y2="660.7" stroke="#111" stroke-width="1.6"/>
<line x1="752.2" y1="657.7" x2="752.2" y2="660.7" stroke="#111" stroke-width="1.6"/>
<line x1="789.7" y1="657.7" x2="974.5" y2="657.7" stroke="#111" stroke-width="2.4"/>
<line x1="801.0" y1="657.7" x2="801.0" y2="660.7" stroke="#111" stroke-width="1.6"/>
<line x1="882.2" y1="657.7" x2="882.2" y2="660.7" stroke="#111" stroke-width="1.6"/>
<line x1="965.4" y1="657.7" x2="965.4" y2="660.7" stroke="#111" stroke-width="1.6"/>
<line x1="139.3" y1="665.2" x2="139.3" y2="833.0" stroke="#111" stroke-width="2.3"/>
<line x1="136.6" y1="673.3" x2="139.3" y2="673.3" stroke="#111" stroke-width="1.4"/>
<line x1="136.6" y1="740.4" x2="139.3" y2="740.4" stroke="#111" stroke-width="1.4"/>
<line x1="136.6" y1="807.4" x2="139.3" y2="807.4" stroke="#111" stroke-width="1.4"/>
<text x="134.3" y="678.8" font-size="14.5" text-anchor="end" textLength="24.7" lengthAdjust="spacingAndGlyphs">0.4</text>
<text x="125.9" y="746.2" font-size="14.5" text-anchor="end" textLength="8.9" lengthAdjust="spacingAndGlyphs">0</text>
<text x="134.8" y="813.4" font-size="14.5" text-anchor="end" textLength="29.5" lengthAdjust="spacingAndGlyphs">-0.4</text>
<text x="106.5" y="734.4" font-size="14.5" text-anchor="middle" textLength="16.5" lengthAdjust="spacingAndGlyphs" transform="rotate(-90 106.5 734.4)">zF</text>
<line x1="138.1" y1="831.8" x2="322.8" y2="831.8" stroke="#111" stroke-width="2.4"/>
<line x1="148.3" y1="831.8" x2="148.3" y2="834.8" stroke="#111" stroke-width="1.6"/>
<line x1="231.4" y1="831.8" x2="231.4" y2="834.8" stroke="#111" stroke-width="1.6"/>
<line x1="314.6" y1="831.8" x2="314.6" y2="834.8" stroke="#111" stroke-width="1.6"/>
<line x1="351.8" y1="831.8" x2="536.0" y2="831.8" stroke="#111" stroke-width="2.4"/>
<line x1="356.2" y1="831.8" x2="356.2" y2="834.8" stroke="#111" stroke-width="1.6"/>
<line x1="444.4" y1="831.8" x2="444.4" y2="834.8" stroke="#111" stroke-width="1.6"/>
<line x1="527.5" y1="831.8" x2="527.5" y2="834.8" stroke="#111" stroke-width="1.6"/>
<line x1="576.6" y1="831.8" x2="761.0" y2="831.8" stroke="#111" stroke-width="2.4"/>
<line x1="585.5" y1="831.8" x2="585.5" y2="834.8" stroke="#111" stroke-width="1.6"/>
<line x1="669.0" y1="831.8" x2="669.0" y2="834.8" stroke="#111" stroke-width="1.6"/>
<line x1="752.2" y1="831.8" x2="752.2" y2="834.8" stroke="#111" stroke-width="1.6"/>
<line x1="789.7" y1="831.8" x2="974.5" y2="831.8" stroke="#111" stroke-width="2.4"/>
<line x1="801.0" y1="831.8" x2="801.0" y2="834.8" stroke="#111" stroke-width="1.6"/>
<line x1="882.2" y1="831.8" x2="882.2" y2="834.8" stroke="#111" stroke-width="1.6"/>
<line x1="965.4" y1="831.8" x2="965.4" y2="834.8" stroke="#111" stroke-width="1.6"/>
<text x="82.0" y="383.6" font-size="15.5" text-anchor="middle" textLength="53.5" lengthAdjust="spacingAndGlyphs" transform="rotate(-90 82.0 383.6)">Stage 1</text>
<text x="82.0" y="560.3" font-size="15.5" text-anchor="middle" textLength="55.5" lengthAdjust="spacingAndGlyphs" transform="rotate(-90 82.0 560.3)">Stage 2</text>
<text x="82.0" y="733.5" font-size="15.5" text-anchor="middle" textLength="55.5" lengthAdjust="spacingAndGlyphs" transform="rotate(-90 82.0 733.5)">Stage 3</text>
<text x="52.8" y="558.8" font-size="17" text-anchor="middle" textLength="30.7" lengthAdjust="spacingAndGlyphs" transform="rotate(-90 52.8 558.8)">Hits</text>
<text x="270.0" y="475.7" font-size="13.8" textLength="48.0" lengthAdjust="spacingAndGlyphs">(n = 33)</text>
<text x="477.0" y="474.3" font-size="13.8" textLength="56.0" lengthAdjust="spacingAndGlyphs">(n = 459)</text>
<text x="708.5" y="475.7" font-size="13.8" textLength="48.2" lengthAdjust="spacingAndGlyphs">(n = 33)</text>
<text x="914.0" y="474.3" font-size="13.8" textLength="55.3" lengthAdjust="spacingAndGlyphs">(n = 459)</text>
<text x="256.2" y="651.0" font-size="13.8" textLength="62.8" lengthAdjust="spacingAndGlyphs">(n = 1009)</text>
<text x="470.4" y="650.7" font-size="13.8" textLength="64.1" lengthAdjust="spacingAndGlyphs">(n = 1037)</text>
<text x="700.2" y="651.0" font-size="13.8" textLength="62.5" lengthAdjust="spacingAndGlyphs">(n = 1009)</text>
<text x="908.3" y="650.7" font-size="13.8" textLength="63.2" lengthAdjust="spacingAndGlyphs">(n = 1037)</text>
<text x="263.5" y="822.8" font-size="13.8" textLength="55.0" lengthAdjust="spacingAndGlyphs">(n = 550)</text>
<text x="471.6" y="823.2" font-size="13.8" textLength="63.9" lengthAdjust="spacingAndGlyphs">(n = 1462)</text>
<text x="701.5" y="825.0" font-size="13.8" textLength="55.4" lengthAdjust="spacingAndGlyphs">(n = 550)</text>
<text x="912.2" y="825.0" font-size="13.8" textLength="63.9" lengthAdjust="spacingAndGlyphs">(n = 1462)</text>
<text x="137.3" y="849.7" font-size="16" textLength="25.5" lengthAdjust="spacingAndGlyphs">-10</text>
<text x="227.2" y="849.7" font-size="16" textLength="8.1" lengthAdjust="spacingAndGlyphs">0</text>
<text x="306.4" y="849.7" font-size="16" textLength="18.0" lengthAdjust="spacingAndGlyphs">10</text>
<text x="348.7" y="849.7" font-size="16" textLength="26.0" lengthAdjust="spacingAndGlyphs">-10</text>
<text x="438.6" y="849.7" font-size="16" textLength="8.5" lengthAdjust="spacingAndGlyphs">0</text>
<text x="517.4" y="849.7" font-size="16" textLength="18.7" lengthAdjust="spacingAndGlyphs">10</text>
<text x="573.1" y="849.7" font-size="16" textLength="26.6" lengthAdjust="spacingAndGlyphs">-10</text>
<text x="666.8" y="849.7" font-size="16" textLength="9.2" lengthAdjust="spacingAndGlyphs">0</text>
<text x="746.7" y="849.7" font-size="16" textLength="19.1" lengthAdjust="spacingAndGlyphs">10</text>
<text x="784.5" y="849.7" font-size="16" textLength="26.0" lengthAdjust="spacingAndGlyphs">-10</text>
<text x="878.6" y="849.7" font-size="16" textLength="8.5" lengthAdjust="spacingAndGlyphs">0</text>
<text x="958.5" y="849.7" font-size="16" textLength="18.1" lengthAdjust="spacingAndGlyphs">10</text>
<text x="135.4" y="869.8" font-size="15.6" textLength="192.6" lengthAdjust="spacingAndGlyphs">Time from screen touch (s)</text>
<text x="346.0" y="869.8" font-size="15.6" textLength="193.8" lengthAdjust="spacingAndGlyphs">Time from screen touch (s)</text>
<text x="573.7" y="869.8" font-size="15.6" textLength="194.3" lengthAdjust="spacingAndGlyphs">Time from screen touch (s)</text>
<text x="784.9" y="869.8" font-size="15.6" textLength="193.8" lengthAdjust="spacingAndGlyphs">Time from screen touch (s)</text>
<rect x="473.3" y="323.0" width="19.3" height="5.8" fill="#5582c5"/>
<rect x="474.4" y="335.8" width="17.4" height="3.6" fill="#dde6f2" stroke="#c2d2ea" stroke-width="1.0"/>
<text x="496.2" y="329.3" font-size="14.5" textLength="61.0" lengthAdjust="spacingAndGlyphs">mPFC NA</text>
<text x="496.2" y="343.0" font-size="14.5" textLength="48.0" lengthAdjust="spacingAndGlyphs">95 % CI</text>
<rect x="925.3" y="323.0" width="18.5" height="6.0" fill="#f39e2d"/>
<rect x="926.4" y="335.8" width="16.8" height="3.6" fill="#fbebd0" stroke="#f6d9a8" stroke-width="1.0"/>
<text x="948.1" y="329.3" font-size="14.5" textLength="41.0" lengthAdjust="spacingAndGlyphs">LH NA</text>
<text x="948.1" y="343.0" font-size="14.5" textLength="48.0" lengthAdjust="spacingAndGlyphs">95 % CI</text>
<line x1="444.0" y1="340.6" x2="444.0" y2="353.5" stroke="#111" stroke-width="1.2"/>
<polygon points="440.8,352.0 447.2,352.0 444.0,359.5" fill="#111"/>
<line x1="451.2" y1="336.5" x2="451.2" y2="350.0" stroke="#111" stroke-width="1.2"/>
<polygon points="448.0,348.5 454.4,348.5 451.2,356.0" fill="#111"/>
<text x="2.0" y="924.3" font-size="29" font-weight="bold" fill="#111">D</text>
<text x="112.8" y="929.0" font-size="15.6" textLength="132.2" lengthAdjust="spacingAndGlyphs">Reward Collection</text>
<text x="263.8" y="929.0" font-size="15.6" textLength="201.7" lengthAdjust="spacingAndGlyphs">Image presentation prior Hit</text>
<text x="529.9" y="929.0" font-size="15.6" textLength="32.5" lengthAdjust="spacingAndGlyphs">Miss</text>
<text x="660.9" y="929.0" font-size="15.6" textLength="125.6" lengthAdjust="spacingAndGlyphs">Correct Rejection</text>
<text x="860.5" y="929.0" font-size="15.6" textLength="85.8" lengthAdjust="spacingAndGlyphs">False Alarm</text>
<polygon points="103.2,1000.2 105.0,1000.4 106.8,998.6 107.9,998.2 108.9,997.3 109.9,998.2 111.0,998.8 112.8,998.1 114.6,999.4 115.6,999.0 116.7,998.1 118.0,999.0 119.3,998.4 120.6,1000.7 121.9,1001.6 123.2,1003.2 124.4,1004.0 125.7,1006.3 127.0,1006.9 128.3,1009.1 129.6,1010.4 130.9,1010.4 132.2,1011.5 133.5,1010.5 134.8,1010.8 136.1,1009.5 137.4,1008.4 138.7,1007.2 140.0,1007.0 141.3,1006.0 142.6,1004.3 143.9,1004.6 145.2,1002.9 146.5,1002.2 147.8,1001.4 149.1,1000.7 150.4,1000.1 151.7,999.8 153.0,999.0 154.3,998.1 155.6,997.1 156.9,995.1 158.2,993.7 159.5,991.2 160.7,988.4 162.0,986.5 163.3,983.2 164.6,979.3 165.9,975.4 167.0,971.3 168.0,968.3 169.8,966.6 171.1,969.1 172.4,970.3 173.7,958.4 175.0,953.3 176.3,961.3 177.6,982.0 178.4,1003.3 179.4,1026.2 181.0,1038.7 182.8,1054.1 184.6,1065.9 186.2,1067.4 188.0,1062.7 189.8,1055.1 190.8,1050.4 191.9,1047.2 192.9,1042.9 193.9,1039.1 195.7,1033.9 197.6,1030.2 198.6,1029.9 199.6,1030.2 200.9,1030.9 202.2,1031.1 203.5,1033.7 204.8,1035.6 206.1,1036.2 207.4,1037.2 208.7,1036.5 210.0,1035.4 211.3,1031.6 212.6,1028.1 213.9,1025.4 215.2,1021.6 216.5,1019.3 217.8,1015.9 219.1,1013.9 220.4,1012.6 221.7,1012.0 223.0,1011.7 224.3,1011.6 225.6,1012.2 226.9,1011.4 228.2,1011.3 229.5,1011.9 230.7,1013.5 232.0,1014.5 233.3,1015.9 234.6,1016.2 235.9,1017.1 237.2,1017.9 238.5,1020.2 239.8,1020.5 241.1,1021.0 242.4,1021.7 243.7,1021.7 245.0,1022.7 246.3,1023.2 247.6,1024.6 248.9,1024.2 250.2,1014.4 251.5,1013.6 251.5,1026.0 250.2,1027.6 248.9,1037.4 247.6,1037.4 246.3,1036.5 245.0,1035.7 243.7,1035.6 242.4,1034.6 241.1,1033.6 239.8,1033.5 238.5,1032.1 237.2,1031.8 235.9,1030.5 234.6,1028.9 233.3,1028.9 232.0,1027.9 230.7,1025.7 229.5,1024.9 228.2,1024.0 226.9,1024.5 225.6,1025.2 224.3,1025.5 223.0,1024.9 221.7,1025.6 220.4,1025.9 219.1,1027.2 217.8,1028.5 216.5,1031.9 215.2,1035.3 213.9,1038.1 212.6,1041.3 211.3,1044.5 210.0,1048.0 208.7,1049.0 207.4,1050.4 206.1,1049.2 204.8,1048.7 203.5,1045.6 202.2,1044.1 200.9,1044.0 199.6,1042.4 198.6,1043.9 197.6,1043.7 195.7,1046.5 193.9,1051.8 192.9,1055.7 191.9,1059.3 190.8,1064.3 189.8,1068.2 188.0,1075.1 186.2,1080.7 184.6,1079.5 182.8,1067.9 181.0,1051.8 179.4,1039.6 178.4,1016.2 177.6,994.7 176.3,974.3 175.0,966.2 173.7,971.2 172.4,982.9 171.1,982.4 169.8,979.0 168.0,981.0 167.0,984.3 165.9,988.6 164.6,992.7 163.3,996.1 162.0,998.4 160.7,1001.3 159.5,1003.9 158.2,1006.3 156.9,1008.9 155.6,1010.7 154.3,1011.3 153.0,1011.5 151.7,1012.5 150.4,1012.9 149.1,1013.5 147.8,1014.6 146.5,1015.7 145.2,1016.5 143.9,1016.8 142.6,1017.2 141.3,1018.7 140.0,1019.3 138.7,1020.9 137.4,1020.9 136.1,1022.5 134.8,1023.8 133.5,1023.9 132.2,1024.4 130.9,1023.2 129.6,1022.8 128.3,1022.1 127.0,1020.3 125.7,1018.8 124.4,1016.5 123.2,1016.2 121.9,1013.9 120.6,1013.8 119.3,1011.7 118.0,1012.1 116.7,1011.5 115.6,1011.6 114.6,1012.2 112.8,1010.4 111.0,1012.1 109.9,1011.0 108.9,1010.8 107.9,1010.9 106.8,1011.6 105.0,1013.4 103.2,1013.0" fill="#d3dfee"/>
<polygon points="281.5,991.7 283.0,988.2 284.5,990.3 286.2,991.0 287.3,990.9 288.3,990.3 289.4,989.7 290.5,989.5 291.5,988.6 292.6,989.0 293.7,987.8 294.7,988.1 295.8,988.1 296.8,986.9 297.9,986.8 299.0,987.2 300.0,986.3 301.1,986.4 302.2,985.3 303.2,985.1 304.3,985.7 305.4,985.0 306.4,984.5 307.5,983.1 308.6,981.0 309.6,980.1 310.7,979.5 311.8,977.5 312.8,977.5 313.9,976.6 314.9,975.3 316.0,973.8 317.7,971.5 319.2,976.8 320.7,981.1 322.4,983.0 323.5,983.1 324.5,982.8 326.2,989.2 327.7,993.2 328.8,994.4 329.9,994.4 330.9,996.3 332.0,996.3 333.0,997.6 334.1,997.9 335.6,999.0 337.3,996.9 338.4,996.1 339.4,994.4 340.5,994.1 341.6,992.8 342.6,992.7 343.7,991.4 344.8,990.0 345.8,989.6 346.9,988.7 348.0,987.9 349.0,986.6 350.1,987.1 351.1,987.2 352.2,987.0 353.3,986.3 354.3,987.4 355.4,986.8 356.5,987.0 358.2,988.3 359.7,982.4 361.2,973.6 362.9,968.2 363.9,966.4 365.0,965.1 366.1,963.0 367.1,961.9 368.8,957.4 370.3,955.0 371.8,954.5 373.5,957.6 374.6,961.5 375.6,965.7 376.7,969.4 377.8,974.0 378.8,978.9 379.9,982.0 381.0,986.8 382.0,990.6 383.1,997.1 384.2,1001.3 385.2,1007.1 386.3,1011.8 387.4,1014.9 388.4,1017.2 389.5,1020.1 390.5,1022.0 391.6,1023.4 392.7,1024.4 393.7,1025.0 394.8,1025.6 396.5,1025.2 398.0,1025.3 399.1,1024.4 400.1,1023.9 401.2,1023.5 402.3,1023.5 403.3,1023.0 404.4,1022.1 405.5,1022.0 406.5,1021.0 407.6,1019.9 408.6,1019.4 409.7,1017.2 410.8,1015.7 411.8,1014.7 412.9,1013.3 414.0,1011.5 415.0,1010.2 416.1,1008.7 417.2,1008.7 418.2,1007.6 419.3,1007.6 420.4,1006.6 421.4,1005.9 422.5,1005.3 423.6,1004.1 424.6,1003.9 425.7,1002.5 426.7,1002.4 427.8,1001.9 428.9,1001.6 429.9,1000.3 431.0,1000.0 432.1,1000.1 433.1,999.5 434.2,999.2 435.7,997.1 435.7,1010.8 434.2,1012.2 433.1,1012.7 432.1,1013.5 431.0,1013.6 429.9,1014.8 428.9,1014.4 427.8,1015.1 426.7,1015.8 425.7,1016.7 424.6,1017.2 423.6,1018.5 422.5,1018.3 421.4,1019.7 420.4,1019.9 419.3,1021.2 418.2,1021.6 417.2,1021.7 416.1,1022.8 415.0,1023.8 414.0,1025.8 412.9,1027.0 411.8,1028.3 410.8,1029.5 409.7,1030.7 408.6,1032.1 407.6,1033.1 406.5,1035.1 405.5,1035.0 404.4,1035.3 403.3,1036.0 402.3,1037.5 401.2,1037.2 400.1,1037.9 399.1,1037.8 398.0,1038.4 396.5,1039.7 394.8,1039.0 393.7,1038.4 392.7,1038.0 391.6,1037.1 390.5,1035.2 389.5,1032.9 388.4,1031.2 387.4,1028.3 386.3,1025.1 385.2,1020.1 384.2,1014.9 383.1,1010.2 382.0,1004.5 381.0,1001.0 379.9,996.8 378.8,991.8 377.8,988.0 376.7,983.1 375.6,979.6 374.6,974.9 373.5,970.5 371.8,968.6 370.3,968.8 368.8,970.4 367.1,974.5 366.1,977.3 365.0,979.7 363.9,980.0 362.9,981.2 361.2,987.8 359.7,995.8 358.2,1001.7 356.5,1001.0 355.4,1001.0 354.3,1000.5 353.3,1000.7 352.2,1000.9 351.1,1000.0 350.1,1000.8 349.0,1000.2 348.0,1000.5 346.9,1001.7 345.8,1002.9 344.8,1004.3 343.7,1004.9 342.6,1005.4 341.6,1007.3 340.5,1008.2 339.4,1008.9 338.4,1009.3 337.3,1010.6 335.6,1012.2 334.1,1011.9 333.0,1011.1 332.0,1009.8 330.9,1009.0 329.9,1009.0 328.8,1008.2 327.7,1006.4 326.2,1002.4 324.5,996.6 323.5,996.2 322.4,996.8 320.7,995.6 319.2,989.3 317.7,985.3 316.0,987.1 314.9,988.7 313.9,989.8 312.8,990.6 311.8,991.8 310.7,992.0 309.6,993.2 308.6,995.5 307.5,996.1 306.4,997.4 305.4,998.7 304.3,998.6 303.2,998.9 302.2,999.0 301.1,999.3 300.0,999.9 299.0,1000.1 297.9,1000.8 296.8,1001.2 295.8,1001.2 294.7,1001.7 293.7,1002.1 292.6,1002.4 291.5,1003.1 290.5,1003.1 289.4,1003.7 288.3,1004.7 287.3,1004.9 286.2,1005.5 284.5,1004.0 283.0,1001.7 281.5,1004.4" fill="#d3dfee"/>
<polygon points="470.2,997.5 471.3,999.8 473.0,998.1 474.5,996.5 475.6,995.5 476.6,996.0 477.7,996.0 478.7,995.9 479.8,996.6 480.9,996.9 481.9,998.0 483.0,998.0 484.1,997.4 485.1,997.0 486.2,997.9 487.3,998.7 488.3,1000.4 489.4,1002.5 490.5,1003.3 491.5,1003.9 492.6,1003.9 493.7,1003.4 494.7,1003.6 495.8,1004.4 496.8,1004.7 497.9,1005.1 499.0,1004.5 500.0,1004.0 501.1,1004.6 502.2,1005.3 503.2,1005.6 504.3,1007.0 505.4,1006.7 506.4,1006.2 507.5,1004.8 508.6,1004.9 509.6,1003.5 510.7,1003.6 511.8,1002.6 512.8,1003.0 513.9,1003.1 514.9,1004.1 516.0,1003.7 517.1,1003.8 518.1,1004.3 519.2,1005.3 520.3,1003.6 521.3,1001.3 522.4,998.1 523.5,994.5 524.5,993.9 525.6,993.2 526.7,994.8 527.7,994.2 528.8,993.6 529.9,992.0 530.9,990.9 532.0,990.4 533.0,991.2 534.1,990.6 535.2,990.1 536.2,990.2 537.3,990.6 538.4,990.9 539.4,990.3 540.5,990.9 541.6,989.5 542.6,989.0 544.1,992.3 545.8,993.7 546.9,994.2 548.0,994.8 549.0,996.6 550.1,998.4 551.1,998.4 552.2,998.4 553.3,999.9 554.3,999.5 555.4,1000.4 556.5,1000.7 557.5,1001.0 558.6,1001.0 559.7,999.9 560.7,999.8 561.8,999.7 562.9,998.8 563.9,997.0 565.0,996.6 566.1,995.4 567.1,993.5 568.2,991.9 569.3,991.1 570.3,989.9 571.4,989.0 572.4,988.7 573.5,988.6 574.6,987.9 575.6,987.8 576.7,987.6 577.8,987.3 578.8,987.9 579.9,989.1 581.0,989.3 582.0,990.7 583.1,993.1 584.2,994.7 585.2,996.1 586.3,997.2 587.4,997.4 588.4,998.3 589.5,997.7 590.5,996.8 591.6,997.8 592.7,998.5 593.7,1000.3 594.8,1000.5 595.9,1000.2 596.9,1000.1 598.0,999.9 599.1,1000.9 600.1,1001.2 601.2,1001.5 602.3,1001.6 603.3,1000.9 604.4,1001.2 605.5,1002.5 606.5,1002.9 607.6,1003.1 609.3,1000.9 610.8,997.5 611.8,996.9 612.9,995.1 614.0,994.8 615.0,993.5 616.1,992.9 617.2,992.6 618.2,993.4 619.3,994.1 619.3,1008.4 618.2,1008.6 617.2,1007.4 616.1,1008.5 615.0,1008.2 614.0,1009.5 612.9,1010.0 611.8,1011.3 610.8,1012.3 609.3,1015.6 607.6,1018.8 606.5,1018.0 605.5,1016.9 604.4,1016.2 603.3,1016.1 602.3,1016.5 601.2,1016.5 600.1,1016.3 599.1,1016.1 598.0,1015.0 596.9,1015.2 595.9,1015.3 594.8,1015.1 593.7,1014.6 592.7,1013.9 591.6,1013.1 590.5,1012.5 589.5,1012.8 588.4,1013.2 587.4,1012.1 586.3,1012.0 585.2,1010.6 584.2,1009.5 583.1,1007.3 582.0,1005.9 581.0,1004.3 579.9,1003.5 578.8,1002.4 577.8,1001.9 576.7,1002.2 575.6,1003.5 574.6,1003.7 573.5,1004.3 572.4,1004.0 571.4,1003.9 570.3,1005.0 569.3,1005.4 568.2,1006.8 567.1,1009.0 566.1,1010.3 565.0,1012.0 563.9,1013.1 562.9,1013.4 561.8,1014.4 560.7,1014.8 559.7,1015.3 558.6,1015.7 557.5,1016.3 556.5,1016.6 555.4,1015.1 554.3,1015.0 553.3,1014.2 552.2,1013.8 551.1,1013.5 550.1,1012.4 549.0,1010.9 548.0,1009.2 546.9,1009.4 545.8,1009.2 544.1,1007.4 542.6,1004.8 541.6,1005.2 540.5,1005.3 539.4,1005.2 538.4,1006.3 537.3,1005.4 536.2,1005.3 535.2,1005.9 534.1,1005.3 533.0,1006.2 532.0,1005.5 530.9,1006.7 529.9,1007.2 528.8,1008.4 527.7,1009.9 526.7,1009.6 525.6,1008.5 524.5,1009.5 523.5,1009.7 522.4,1013.2 521.3,1015.9 520.3,1018.2 519.2,1020.3 518.1,1020.2 517.1,1019.0 516.0,1019.0 514.9,1018.5 513.9,1018.5 512.8,1018.3 511.8,1018.1 510.7,1017.8 509.6,1019.1 508.6,1019.3 507.5,1019.9 506.4,1021.8 505.4,1021.1 504.3,1020.8 503.2,1020.4 502.2,1020.9 501.1,1019.7 500.0,1019.0 499.0,1019.7 497.9,1020.6 496.8,1019.7 495.8,1019.5 494.7,1019.6 493.7,1017.7 492.6,1018.5 491.5,1018.6 490.5,1018.0 489.4,1017.2 488.3,1015.6 487.3,1014.3 486.2,1012.6 485.1,1012.8 484.1,1012.2 483.0,1012.4 481.9,1012.4 480.9,1012.6 479.8,1012.3 478.7,1011.1 477.7,1010.9 476.6,1010.8 475.6,1011.4 474.5,1011.9 473.0,1012.8 471.3,1015.3 470.2,1012.7" fill="#d3dfee"/>
<polygon points="648.1,993.9 649.6,989.4 651.3,988.3 652.4,986.5 653.4,985.5 654.5,983.2 655.6,982.4 657.3,981.2 658.7,984.0 660.2,988.2 661.9,990.4 663.0,991.3 664.1,992.6 665.8,995.2 667.3,1000.0 668.3,1000.7 669.4,1002.0 670.5,1004.2 671.5,1004.4 672.6,1005.3 673.7,1005.6 674.7,1005.6 675.8,1005.7 676.8,1004.9 677.9,1004.1 679.0,1002.3 680.0,1001.9 681.1,1000.2 682.2,999.9 683.2,1000.8 684.3,1000.2 685.4,1000.5 686.4,1001.0 687.5,1000.9 688.6,1001.8 689.6,1001.4 690.7,1000.4 691.8,1001.2 692.8,1000.0 693.9,1001.2 694.9,1001.4 696.0,1001.9 697.1,1002.5 698.1,1002.6 699.2,1001.3 700.3,999.4 701.3,998.3 702.4,998.2 703.5,997.8 704.5,997.3 705.6,997.0 706.7,997.3 707.7,997.9 708.8,997.6 709.9,997.5 710.9,997.4 712.0,996.5 713.0,996.3 714.1,996.2 715.2,995.6 716.2,996.6 717.3,995.1 718.4,995.2 719.4,994.9 720.5,994.1 721.6,995.7 722.6,995.7 723.7,995.1 724.8,995.0 725.8,994.2 726.9,992.9 728.0,991.9 729.0,991.5 730.1,991.7 731.1,990.4 732.2,990.1 733.3,990.2 734.3,990.3 735.4,990.3 736.5,989.2 737.5,988.8 738.6,989.7 739.7,989.5 740.7,988.2 741.8,986.7 742.9,986.3 743.9,985.3 745.0,985.9 746.1,986.6 747.1,984.9 748.2,984.0 749.3,982.0 751.0,979.1 752.0,979.1 753.1,979.1 754.1,980.3 755.2,980.0 756.3,981.1 757.3,982.3 758.4,983.0 759.5,984.4 760.7,986.3 762.0,987.5 763.1,989.1 764.2,989.4 765.2,990.6 766.3,992.5 767.4,993.4 768.4,995.0 769.5,995.1 770.5,996.9 771.6,997.5 772.7,997.8 773.7,997.7 774.8,998.5 775.9,999.2 776.9,999.4 778.0,999.6 779.1,1000.1 780.1,1000.0 781.2,999.7 782.3,999.6 783.3,1000.0 784.4,999.8 785.5,999.9 786.5,999.5 787.6,998.4 788.6,997.3 789.7,996.3 790.8,996.4 791.8,996.1 792.9,995.5 794.0,996.0 795.0,996.6 796.1,996.1 797.2,996.5 798.2,995.7 798.2,1007.4 797.2,1008.5 796.1,1008.4 795.0,1008.4 794.0,1007.4 792.9,1007.5 791.8,1007.7 790.8,1008.3 789.7,1008.3 788.6,1009.6 787.6,1010.7 786.5,1011.1 785.5,1011.1 784.4,1011.9 783.3,1012.3 782.3,1012.2 781.2,1011.3 780.1,1011.4 779.1,1011.6 778.0,1011.1 776.9,1010.9 775.9,1011.0 774.8,1010.2 773.7,1010.2 772.7,1010.2 771.6,1009.7 770.5,1008.4 769.5,1008.0 768.4,1006.8 767.4,1005.7 766.3,1004.3 765.2,1002.9 764.2,1002.1 763.1,1000.8 762.0,999.9 760.7,998.1 759.5,997.1 758.4,995.0 757.3,994.3 756.3,992.8 755.2,992.8 754.1,991.5 753.1,991.0 752.0,991.1 751.0,991.9 749.3,993.2 748.2,997.1 747.1,997.8 746.1,998.3 745.0,998.4 743.9,997.7 742.9,998.8 741.8,999.6 740.7,1000.2 739.7,1002.0 738.6,1000.8 737.5,1001.2 736.5,1001.2 735.4,1002.3 734.3,1001.5 733.3,1001.8 732.2,1002.8 731.1,1003.3 730.1,1002.9 729.0,1003.4 728.0,1004.0 726.9,1005.4 725.8,1006.4 724.8,1007.5 723.7,1007.7 722.6,1007.3 721.6,1007.1 720.5,1005.9 719.4,1007.2 718.4,1007.6 717.3,1008.3 716.2,1007.7 715.2,1007.8 714.1,1007.6 713.0,1007.6 712.0,1008.7 710.9,1009.5 709.9,1009.0 708.8,1009.1 707.7,1009.4 706.7,1009.5 705.6,1009.7 704.5,1008.7 703.5,1008.8 702.4,1009.8 701.3,1010.2 700.3,1011.9 699.2,1013.4 698.1,1014.6 697.1,1015.0 696.0,1014.2 694.9,1013.6 693.9,1012.9 692.8,1012.8 691.8,1012.2 690.7,1013.3 689.6,1013.4 688.6,1013.3 687.5,1012.7 686.4,1012.9 685.4,1013.1 684.3,1012.3 683.2,1012.0 682.2,1011.5 681.1,1013.1 680.0,1013.3 679.0,1014.7 677.9,1015.8 676.8,1016.2 675.8,1017.7 674.7,1017.4 673.7,1018.2 672.6,1016.9 671.5,1016.9 670.5,1015.7 669.4,1014.0 668.3,1012.9 667.3,1010.9 665.8,1006.6 664.1,1003.4 663.0,1003.6 661.9,1003.4 660.2,999.9 658.7,995.7 657.3,992.9 655.6,994.1 654.5,995.2 653.4,997.7 652.4,998.2 651.3,999.3 649.6,1002.3 648.1,1006.3" fill="#d3dfee"/>
<polygon points="827.5,1001.8 828.8,1005.0 830.0,1006.2 831.2,1005.7 832.5,1005.1 833.8,1003.9 835.0,1004.2 836.0,1002.9 837.0,1002.7 838.0,1002.2 839.0,1002.5 840.0,1000.8 841.0,999.8 842.0,1002.7 843.0,1002.1 844.0,1000.1 845.0,1000.1 846.0,1000.9 847.0,1002.7 848.0,1001.6 849.0,1001.8 850.0,1003.7 851.0,1002.4 852.0,1003.3 853.0,1003.8 854.0,1003.5 855.0,1003.0 856.0,1003.4 857.0,1002.9 858.0,1002.8 859.0,1002.6 860.0,1002.1 861.0,1001.5 862.0,1000.1 863.0,1002.0 864.0,1001.2 865.0,1000.0 866.0,998.3 867.0,998.7 868.0,1000.5 869.0,998.9 870.0,997.9 871.0,999.2 872.0,998.9 873.0,996.1 874.0,996.8 875.0,996.4 876.0,994.6 877.0,994.7 878.0,995.1 879.0,994.8 880.0,994.1 881.0,993.4 882.0,991.9 883.0,990.2 884.0,989.3 885.0,991.0 886.0,990.1 887.0,989.2 888.0,985.7 889.0,986.8 890.0,984.0 891.0,983.0 892.0,981.1 893.0,981.6 894.0,980.0 895.0,978.5 896.2,975.9 897.5,976.3 898.8,973.0 900.0,971.9 901.2,970.1 902.5,966.7 903.8,965.3 905.0,962.6 906.0,964.8 907.0,963.1 908.0,963.1 909.0,963.7 910.0,964.9 911.0,965.1 912.0,965.0 913.0,966.2 914.0,966.1 915.0,964.6 916.0,966.0 917.0,965.3 918.0,965.9 919.0,966.0 920.0,966.2 921.0,967.3 922.0,969.2 923.0,968.7 924.0,967.3 925.0,967.9 926.0,969.5 927.0,969.8 928.0,968.8 929.0,969.5 930.0,971.4 931.0,971.8 932.0,970.5 933.0,972.8 934.0,971.5 935.0,972.8 936.0,972.8 937.0,972.5 938.0,974.6 939.0,973.2 940.0,973.5 941.0,973.6 942.0,974.3 943.0,974.5 944.0,973.6 945.0,972.6 946.0,973.2 947.0,972.9 948.0,973.9 949.0,973.9 950.0,973.3 951.2,970.0 952.5,969.4 953.8,967.3 955.0,964.2 956.2,963.3 957.5,959.2 958.8,959.6 960.0,958.0 961.2,956.8 962.5,957.8 963.8,958.0 965.0,959.0 966.0,958.7 967.0,957.9 968.0,956.0 969.0,957.0 970.0,956.2 971.0,957.1 972.0,955.1 973.0,954.3 974.0,952.8 975.0,953.7 976.2,953.4 977.5,952.3 978.8,951.3 980.5,956.2 980.5,996.2 978.8,985.1 977.5,985.5 976.2,987.7 975.0,988.5 974.0,987.0 973.0,987.3 972.0,987.7 971.0,986.3 970.0,987.6 969.0,987.8 968.0,986.6 967.0,988.9 966.0,988.1 965.0,990.2 963.8,988.4 962.5,987.5 961.2,987.5 960.0,988.6 958.8,990.4 957.5,993.6 956.2,994.2 955.0,998.8 953.8,999.8 952.5,1001.6 951.2,1000.5 950.0,1002.8 949.0,1001.0 948.0,1004.0 947.0,1001.8 946.0,1001.6 945.0,1003.4 944.0,1002.7 943.0,1002.6 942.0,1001.6 941.0,1002.8 940.0,1004.2 939.0,1004.3 938.0,1002.8 937.0,1001.6 936.0,1003.8 935.0,1003.2 934.0,1001.5 933.0,1001.8 932.0,1001.4 931.0,1000.2 930.0,1002.7 929.0,1002.3 928.0,1002.1 927.0,1001.5 926.0,999.7 925.0,1000.1 924.0,1000.7 923.0,998.9 922.0,999.9 921.0,999.9 920.0,1000.2 919.0,1000.3 918.0,999.4 917.0,1000.0 916.0,1000.0 915.0,1002.4 914.0,999.4 913.0,1000.5 912.0,1001.1 911.0,1000.3 910.0,999.1 909.0,998.8 908.0,999.4 907.0,1000.0 906.0,998.0 905.0,997.6 903.8,998.0 902.5,997.4 901.2,998.1 900.0,1001.9 898.8,1002.7 897.5,1005.3 896.2,1004.8 895.0,1006.1 894.0,1008.5 893.0,1008.5 892.0,1009.8 891.0,1011.4 890.0,1013.7 889.0,1013.4 888.0,1015.4 887.0,1015.1 886.0,1017.7 885.0,1016.4 884.0,1019.4 883.0,1020.1 882.0,1021.3 881.0,1021.2 880.0,1021.2 879.0,1024.6 878.0,1024.1 877.0,1025.1 876.0,1028.9 875.0,1028.7 874.0,1028.3 873.0,1028.4 872.0,1030.7 871.0,1029.1 870.0,1029.6 869.0,1031.5 868.0,1029.9 867.0,1031.2 866.0,1030.6 865.0,1032.0 864.0,1030.4 863.0,1032.5 862.0,1032.9 861.0,1034.6 860.0,1032.4 859.0,1033.5 858.0,1035.2 857.0,1034.8 856.0,1035.2 855.0,1036.4 854.0,1035.0 853.0,1034.3 852.0,1035.6 851.0,1033.7 850.0,1033.4 849.0,1032.9 848.0,1031.9 847.0,1031.1 846.0,1030.3 845.0,1032.1 844.0,1031.0 843.0,1031.5 842.0,1030.0 841.0,1029.8 840.0,1029.3 839.0,1031.9 838.0,1031.2 837.0,1030.1 836.0,1030.9 835.0,1032.2 833.8,1035.1 832.5,1037.5 831.2,1037.7 830.0,1038.6 828.8,1033.4 827.5,1028.7" fill="#d3dfee"/>
<line x1="97.2" y1="1003.5" x2="259.8" y2="1003.5" stroke="#8a8a8a" stroke-width="1.9" stroke-dasharray="7.5 5"/>
<line x1="177.6" y1="935.9" x2="177.6" y2="1086.8" stroke="#8a8a8a" stroke-width="1.7" stroke-dasharray="8 6"/>
<line x1="273.0" y1="1003.5" x2="443.8" y2="1003.5" stroke="#8a8a8a" stroke-width="1.9" stroke-dasharray="7.5 5"/>
<line x1="358.6" y1="935.9" x2="358.6" y2="1086.8" stroke="#8a8a8a" stroke-width="1.7" stroke-dasharray="8 6"/>
<line x1="462.4" y1="1003.5" x2="626.7" y2="1003.5" stroke="#8a8a8a" stroke-width="1.9" stroke-dasharray="7.5 5"/>
<line x1="544.8" y1="935.9" x2="544.8" y2="1086.8" stroke="#8a8a8a" stroke-width="1.7" stroke-dasharray="8 6"/>
<line x1="640.2" y1="1003.5" x2="806.3" y2="1003.5" stroke="#8a8a8a" stroke-width="1.9" stroke-dasharray="7.5 5"/>
<line x1="723.3" y1="935.9" x2="723.3" y2="1086.8" stroke="#8a8a8a" stroke-width="1.7" stroke-dasharray="8 6"/>
<line x1="819.5" y1="1003.5" x2="988.0" y2="1003.5" stroke="#8a8a8a" stroke-width="1.9" stroke-dasharray="7.5 5"/>
<line x1="904.3" y1="935.9" x2="904.3" y2="1086.8" stroke="#8a8a8a" stroke-width="1.7" stroke-dasharray="8 6"/>
<polyline points="103.2,1005.9 105.0,1006.8 106.8,1005.8 108.9,1004.5 111.0,1005.7 112.8,1003.7 114.6,1005.6 116.7,1004.8 119.3,1005.4 121.9,1008.4 124.4,1010.6 127.0,1013.6 129.6,1016.3 132.2,1017.2 134.8,1017.1 137.4,1015.1 140.0,1013.5 142.6,1010.9 145.2,1009.3 147.8,1008.4 150.4,1005.9 153.0,1005.2 155.6,1004.4 158.2,999.8 160.7,995.3 163.3,990.2 165.9,982.1 168.0,974.4 169.8,972.5 171.1,975.7 172.4,977.0 173.7,965.4 175.0,960.0 176.3,967.4 177.6,988.3 178.4,1009.4 179.4,1032.2 181.0,1045.2 182.8,1060.9 184.6,1073.1 186.2,1074.1 188.0,1068.8 189.8,1061.5 191.9,1053.4 193.9,1045.3 195.7,1040.4 197.6,1037.6 199.6,1036.4 202.2,1037.7 204.8,1041.7 207.4,1044.7 210.0,1041.8 212.6,1034.9 215.2,1028.8 217.8,1022.1 220.4,1019.1 223.0,1018.8 225.6,1017.9 228.2,1017.6 230.7,1019.5 233.3,1022.3 235.9,1023.8 238.5,1026.1 241.1,1027.5 243.7,1028.5 246.3,1029.8 248.9,1031.3 250.2,1021.0 251.5,1019.4" fill="none" stroke="#5582c5" stroke-width="2.3" stroke-linejoin="round" stroke-linecap="round"/>
<polyline points="281.5,998.2 283.0,995.4 284.5,996.8 286.2,998.2 288.3,997.8 290.5,996.6 292.6,995.8 294.7,994.5 296.8,993.7 299.0,993.8 301.1,992.2 303.2,992.3 305.4,992.2 307.5,989.3 309.6,986.8 311.8,984.9 313.9,982.7 316.0,980.4 317.7,979.0 319.2,983.2 320.7,988.4 322.4,989.1 324.5,989.6 326.2,995.6 327.7,999.7 329.9,1001.9 332.0,1003.3 334.1,1005.2 335.6,1005.5 337.3,1004.3 339.4,1001.8 341.6,1000.1 343.7,997.8 345.8,995.8 348.0,994.5 350.1,993.7 352.2,993.2 354.3,993.6 356.5,993.4 358.2,994.9 359.7,989.4 361.2,980.9 362.9,974.9 365.0,972.6 367.1,967.8 368.8,963.5 370.3,962.4 371.8,961.8 373.5,964.0 375.6,972.4 377.8,980.5 379.9,989.4 382.0,998.3 384.2,1008.7 386.3,1017.8 388.4,1024.2 390.5,1029.2 392.7,1031.6 394.8,1031.7 396.5,1032.6 398.0,1032.0 400.1,1031.3 402.3,1030.5 404.4,1029.1 406.5,1027.4 408.6,1025.6 410.8,1023.4 412.9,1020.2 415.0,1016.8 417.2,1015.3 419.3,1014.1 421.4,1012.0 423.6,1010.8 425.7,1009.7 427.8,1009.0 429.9,1007.6 432.1,1006.8 434.2,1005.1 435.7,1004.4" fill="none" stroke="#5582c5" stroke-width="2.3" stroke-linejoin="round" stroke-linecap="round"/>
<polyline points="470.2,1005.1 471.3,1007.4 473.0,1005.1 474.5,1003.9 476.6,1002.9 478.7,1004.1 480.9,1004.9 483.0,1005.8 485.1,1005.0 487.3,1006.1 489.4,1010.0 491.5,1011.2 493.7,1011.1 495.8,1012.4 497.9,1012.5 500.0,1011.3 502.2,1012.6 504.3,1014.4 506.4,1014.0 508.6,1012.2 510.7,1010.7 512.8,1010.2 514.9,1011.3 517.1,1012.0 519.2,1012.4 521.3,1008.4 523.5,1002.1 525.6,1001.3 527.7,1002.0 529.9,999.4 532.0,997.9 534.1,998.5 536.2,997.1 538.4,998.2 540.5,998.4 542.6,996.7 544.1,1000.3 545.8,1001.0 548.0,1001.8 550.1,1005.4 552.2,1006.8 554.3,1007.8 556.5,1008.2 558.6,1008.4 560.7,1007.6 562.9,1006.0 565.0,1004.1 567.1,1001.2 569.3,998.1 571.4,997.1 573.5,995.9 575.6,995.2 577.8,995.1 579.9,996.3 582.0,998.4 584.2,1002.0 586.3,1004.3 588.4,1005.3 590.5,1004.8 592.7,1006.0 594.8,1008.0 596.9,1007.1 599.1,1008.6 601.2,1009.0 603.3,1008.7 605.5,1009.4 607.6,1011.1 609.3,1008.4 610.8,1005.7 612.9,1002.8 615.0,1001.2 617.2,1000.3 619.3,1000.9" fill="none" stroke="#5582c5" stroke-width="2.3" stroke-linejoin="round" stroke-linecap="round"/>
<polyline points="648.1,1000.4 649.6,995.9 651.3,993.9 653.4,991.4 655.6,988.2 657.3,986.8 658.7,989.3 660.2,993.3 661.9,997.2 664.1,998.1 665.8,1001.1 667.3,1005.4 669.4,1008.9 671.5,1010.3 673.7,1011.7 675.8,1011.3 677.9,1009.7 680.0,1007.5 682.2,1005.8 684.3,1006.2 686.4,1007.1 688.6,1007.4 690.7,1007.3 692.8,1006.8 694.9,1008.0 697.1,1008.8 699.2,1006.9 701.3,1003.6 703.5,1003.2 705.6,1002.9 707.7,1003.3 709.9,1003.7 712.0,1002.9 714.1,1001.7 716.2,1002.0 718.4,1001.5 720.5,1000.1 722.6,1002.1 724.8,1001.5 726.9,998.6 729.0,998.4 731.1,997.0 733.3,995.7 735.4,995.8 737.5,995.5 739.7,995.4 741.8,993.6 743.9,991.9 746.1,991.8 748.2,990.1 749.3,988.0 751.0,985.7 753.1,985.3 755.2,985.9 757.3,988.0 759.5,990.9 762.0,993.6 764.2,995.8 766.3,998.8 768.4,1000.2 770.5,1002.8 772.7,1003.5 774.8,1004.4 776.9,1005.6 779.1,1005.5 781.2,1006.1 783.3,1006.5 785.5,1005.7 787.6,1004.6 789.7,1003.0 791.8,1002.0 794.0,1001.8 796.1,1002.5 798.2,1002.1" fill="none" stroke="#5582c5" stroke-width="2.3" stroke-linejoin="round" stroke-linecap="round"/>
<polyline points="827.5,1013.2 828.8,1019.1 830.0,1023.2 831.0,1022.2 832.0,1020.9 833.8,1018.1 835.0,1016.8 836.2,1014.6 837.5,1014.6 838.8,1011.7 840.0,1011.5 841.2,1011.7 842.5,1011.5 843.8,1013.3 845.0,1012.9 846.2,1013.5 847.5,1015.6 848.8,1016.3 850.0,1017.4 851.2,1017.9 852.5,1018.9 853.8,1020.8 855.5,1017.1 856.5,1017.3 857.5,1017.0 858.5,1017.9 859.5,1019.4 861.2,1017.5 862.5,1016.5 863.8,1014.4 865.0,1013.3 866.2,1014.5 867.5,1013.7 868.8,1015.7 870.5,1011.7 871.5,1014.0 872.5,1014.4 873.5,1015.8 874.5,1017.4 876.2,1014.2 878.0,1009.9 879.0,1008.6 880.0,1007.3 881.2,1006.9 882.5,1005.9 883.8,1005.2 885.0,1001.9 886.2,1000.6 887.5,1000.1 888.8,998.5 890.0,997.9 891.2,995.4 892.5,995.3 893.5,992.9 894.5,992.0 896.2,988.4 898.0,987.4 899.0,987.8 900.0,988.8 901.0,985.9 902.0,984.1 903.8,978.6 905.0,980.4 906.0,981.5 907.0,983.7 908.2,984.5 909.5,985.4 910.8,985.9 912.0,986.1 913.2,986.1 914.5,986.8 915.8,988.1 917.0,989.4 918.0,987.6 919.0,986.5 920.1,984.1 921.2,983.2 923.0,979.0 924.2,979.5 925.5,979.9 926.8,980.6 928.0,982.3 929.2,983.4 930.5,984.1 931.8,985.9 933.0,986.6 934.2,986.5 935.5,987.2 936.8,987.8 938.0,987.9 939.2,988.3 940.5,989.8 941.5,989.6 942.5,987.3 943.8,986.8 945.0,984.8 946.2,986.4 947.5,986.9 948.8,986.6 950.0,987.3 951.0,988.1 952.0,988.3 953.2,986.4 954.5,984.3 955.8,982.2 957.0,978.8 958.2,976.4 959.5,973.3 961.2,971.2 963.0,973.3 964.2,974.4 965.5,974.1 966.8,973.7 968.0,974.6 969.2,973.8 970.5,972.7 971.5,972.1 972.5,971.1 973.5,970.5 974.5,969.4 976.2,972.6 978.0,968.3 979.5,971.8 980.5,981.9" fill="none" stroke="#5582c5" stroke-width="2.3" stroke-linejoin="round" stroke-linecap="round"/>
<line x1="97.2" y1="935.4" x2="97.2" y2="1088.0" stroke="#111" stroke-width="2.3"/>
<line x1="94.5" y1="944.4" x2="97.2" y2="944.4" stroke="#111" stroke-width="1.4"/>
<line x1="94.5" y1="1003.5" x2="97.2" y2="1003.5" stroke="#111" stroke-width="1.4"/>
<line x1="94.5" y1="1065.8" x2="97.2" y2="1065.8" stroke="#111" stroke-width="1.4"/>
<text x="89.8" y="950.3" font-size="16.5" text-anchor="end" textLength="26.0" lengthAdjust="spacingAndGlyphs">0.4</text>
<text x="78.2" y="1009.5" font-size="16.5" text-anchor="end" textLength="9.3" lengthAdjust="spacingAndGlyphs">0</text>
<text x="89.8" y="1071.8" font-size="16.5" text-anchor="end" textLength="31.3" lengthAdjust="spacingAndGlyphs">-0.4</text>
<text x="54.0" y="1003.5" font-size="16.5" text-anchor="middle" textLength="18.5" lengthAdjust="spacingAndGlyphs" transform="rotate(-90 54.0 1003.5)">zF</text>
<line x1="96.0" y1="1086.8" x2="259.8" y2="1086.8" stroke="#111" stroke-width="2.4"/>
<line x1="103.9" y1="1086.8" x2="103.9" y2="1089.8" stroke="#111" stroke-width="1.6"/>
<line x1="177.6" y1="1086.8" x2="177.6" y2="1089.8" stroke="#111" stroke-width="1.6"/>
<line x1="251.8" y1="1086.8" x2="251.8" y2="1089.8" stroke="#111" stroke-width="1.6"/>
<line x1="273.0" y1="1086.8" x2="443.8" y2="1086.8" stroke="#111" stroke-width="2.4"/>
<line x1="288.4" y1="1086.8" x2="288.4" y2="1089.8" stroke="#111" stroke-width="1.6"/>
<line x1="358.6" y1="1086.8" x2="358.6" y2="1089.8" stroke="#111" stroke-width="1.6"/>
<line x1="436.3" y1="1086.8" x2="436.3" y2="1089.8" stroke="#111" stroke-width="1.6"/>
<line x1="462.4" y1="1086.8" x2="626.7" y2="1086.8" stroke="#111" stroke-width="2.4"/>
<line x1="470.2" y1="1086.8" x2="470.2" y2="1089.8" stroke="#111" stroke-width="1.6"/>
<line x1="544.8" y1="1086.8" x2="544.8" y2="1089.8" stroke="#111" stroke-width="1.6"/>
<line x1="619.3" y1="1086.8" x2="619.3" y2="1089.8" stroke="#111" stroke-width="1.6"/>
<line x1="640.2" y1="1086.8" x2="806.3" y2="1086.8" stroke="#111" stroke-width="2.4"/>
<line x1="648.7" y1="1086.8" x2="648.7" y2="1089.8" stroke="#111" stroke-width="1.6"/>
<line x1="723.3" y1="1086.8" x2="723.3" y2="1089.8" stroke="#111" stroke-width="1.6"/>
<line x1="798.9" y1="1086.8" x2="798.9" y2="1089.8" stroke="#111" stroke-width="1.6"/>
<line x1="819.5" y1="1086.8" x2="988.0" y2="1086.8" stroke="#111" stroke-width="2.4"/>
<line x1="827.5" y1="1086.8" x2="827.5" y2="1089.8" stroke="#111" stroke-width="1.6"/>
<line x1="904.3" y1="1086.8" x2="904.3" y2="1089.8" stroke="#111" stroke-width="1.6"/>
<line x1="980.5" y1="1086.8" x2="980.5" y2="1089.8" stroke="#111" stroke-width="1.6"/>
<polygon points="103.3,1173.9 104.4,1174.7 105.6,1174.4 106.7,1175.4 107.8,1175.7 108.9,1176.6 110.0,1176.1 111.1,1176.4 112.2,1176.1 113.3,1175.5 114.4,1174.8 115.6,1175.3 116.7,1175.4 117.8,1175.4 118.9,1174.3 120.0,1174.6 121.1,1175.1 122.2,1175.4 123.3,1174.3 124.4,1175.5 125.6,1175.4 126.7,1175.7 127.8,1176.7 128.9,1177.0 130.0,1177.1 131.1,1178.1 132.2,1179.2 133.3,1178.8 134.4,1179.2 135.6,1179.3 136.7,1179.8 137.8,1179.2 138.9,1180.2 140.0,1179.9 141.1,1179.6 142.2,1180.3 143.3,1181.0 144.4,1181.1 145.6,1180.2 146.7,1178.9 147.8,1178.3 148.9,1177.6 150.0,1176.5 151.1,1175.9 152.2,1176.3 153.3,1174.7 154.4,1174.3 155.6,1172.3 156.7,1171.0 157.8,1169.7 158.9,1168.9 160.0,1168.2 161.1,1168.1 162.2,1166.4 163.3,1164.9 164.4,1164.0 165.6,1164.8 166.7,1164.2 167.8,1164.7 168.9,1163.1 170.0,1163.5 171.6,1162.0 172.9,1162.8 174.4,1167.4 176.0,1171.5 177.3,1181.0 178.9,1189.4 180.4,1194.5 182.2,1194.3 183.3,1194.7 184.4,1194.4 185.6,1195.0 186.7,1195.9 187.8,1196.2 188.9,1197.8 190.0,1199.1 191.1,1201.4 192.2,1202.4 193.3,1203.4 194.4,1204.3 195.6,1205.0 196.7,1206.7 197.8,1207.7 198.9,1208.4 200.0,1208.5 201.1,1209.8 202.2,1210.4 203.3,1210.6 204.4,1210.6 205.6,1209.7 206.7,1209.2 207.8,1208.2 208.9,1206.6 210.0,1204.3 211.1,1202.4 212.2,1198.7 213.3,1195.9 214.4,1194.2 215.6,1191.5 216.7,1191.3 217.8,1189.3 218.9,1189.3 220.0,1187.7 221.1,1187.3 222.2,1187.9 223.3,1187.2 224.4,1186.3 225.6,1186.6 226.7,1186.5 227.8,1186.4 228.9,1185.3 230.0,1185.9 231.1,1186.4 232.2,1186.7 233.3,1187.3 234.4,1186.9 235.6,1187.8 236.7,1188.3 237.8,1188.3 238.9,1188.4 240.0,1188.5 241.1,1187.9 242.2,1187.5 243.3,1188.4 244.4,1189.1 245.6,1189.7 246.7,1189.4 247.8,1189.9 248.9,1189.7 250.7,1186.4 251.6,1183.1 251.6,1198.5 250.7,1202.9 248.9,1205.0 247.8,1205.2 246.7,1205.5 245.6,1205.3 244.4,1204.4 243.3,1204.3 242.2,1203.5 241.1,1204.6 240.0,1204.6 238.9,1204.3 237.8,1203.8 236.7,1204.0 235.6,1203.6 234.4,1203.5 233.3,1202.5 232.2,1203.1 231.1,1202.2 230.0,1201.5 228.9,1201.4 227.8,1202.2 226.7,1202.3 225.6,1202.7 224.4,1202.1 223.3,1203.2 222.2,1203.6 221.1,1204.2 220.0,1203.5 218.9,1205.3 217.8,1205.9 216.7,1207.2 215.6,1207.8 214.4,1210.4 213.3,1212.1 212.2,1214.9 211.1,1217.8 210.0,1219.8 208.9,1222.5 207.8,1224.0 206.7,1225.8 205.6,1226.3 204.4,1225.8 203.3,1226.6 202.2,1226.8 201.1,1225.4 200.0,1225.0 198.9,1223.7 197.8,1223.1 196.7,1221.7 195.6,1221.2 194.4,1219.8 193.3,1218.5 192.2,1218.3 191.1,1216.5 190.0,1215.5 188.9,1213.0 187.8,1212.1 186.7,1211.9 185.6,1210.2 184.4,1210.8 183.3,1210.3 182.2,1211.2 180.4,1210.6 178.9,1205.6 177.3,1196.5 176.0,1188.4 174.4,1183.2 172.9,1179.3 171.6,1178.0 170.0,1179.1 168.9,1179.5 167.8,1180.4 166.7,1180.0 165.6,1180.5 164.4,1180.8 163.3,1181.0 162.2,1182.7 161.1,1183.5 160.0,1183.9 158.9,1184.6 157.8,1185.6 156.7,1187.9 155.6,1189.1 154.4,1189.8 153.3,1190.7 152.2,1192.1 151.1,1192.9 150.0,1193.0 148.9,1193.8 147.8,1194.0 146.7,1195.1 145.6,1195.3 144.4,1196.7 143.3,1197.4 142.2,1196.1 141.1,1195.9 140.0,1195.5 138.9,1195.7 137.8,1196.3 136.7,1195.5 135.6,1195.1 134.4,1195.1 133.3,1194.6 132.2,1194.1 131.1,1194.1 130.0,1194.0 128.9,1192.6 127.8,1192.1 126.7,1191.7 125.6,1191.6 124.4,1191.9 123.3,1190.7 122.2,1190.7 121.1,1191.9 120.0,1190.4 118.9,1190.7 117.8,1191.2 116.7,1191.2 115.6,1191.6 114.4,1191.3 113.3,1191.3 112.2,1191.9 111.1,1192.1 110.0,1192.9 108.9,1192.0 107.8,1191.9 106.7,1191.6 105.6,1190.7 104.4,1190.0 103.3,1189.4" fill="#f9e4c1"/>
<polygon points="286.5,1176.7 287.5,1175.7 288.5,1174.3 289.5,1174.2 290.6,1173.2 291.6,1175.0 292.6,1175.4 293.6,1175.4 294.6,1176.7 295.6,1177.2 296.7,1178.1 297.7,1176.8 298.7,1176.7 299.7,1175.6 300.7,1174.1 301.8,1175.3 302.8,1175.7 303.8,1175.3 304.8,1176.1 305.8,1175.6 306.9,1175.0 307.9,1173.7 308.9,1174.2 309.9,1173.2 310.9,1173.5 311.9,1173.1 313.0,1172.5 314.0,1172.6 315.0,1172.1 316.0,1172.0 317.0,1171.7 318.1,1170.7 319.1,1170.4 320.1,1170.5 321.1,1170.4 322.1,1170.1 323.1,1169.7 324.2,1169.2 325.2,1169.0 326.8,1168.9 328.2,1170.5 329.3,1171.2 330.3,1172.0 331.3,1172.5 332.3,1173.3 333.3,1173.9 334.4,1173.6 335.4,1174.6 336.4,1175.8 337.4,1175.4 338.4,1176.2 339.4,1176.2 340.5,1176.9 341.5,1177.9 342.5,1177.3 343.5,1178.4 344.5,1178.6 345.6,1178.9 346.6,1178.4 347.6,1179.5 348.6,1179.1 349.6,1179.2 350.6,1179.8 351.7,1179.6 352.7,1180.1 353.7,1179.4 354.7,1179.3 355.7,1179.6 356.8,1179.4 357.8,1180.0 358.8,1179.0 359.8,1179.1 360.8,1178.1 362.3,1174.8 363.9,1168.3 365.5,1161.7 366.9,1158.9 368.4,1161.5 370.0,1163.4 371.6,1163.3 373.1,1163.1 374.1,1163.5 375.1,1163.4 376.1,1164.6 377.1,1166.2 378.2,1168.4 379.2,1169.8 380.2,1171.0 381.2,1172.9 382.2,1174.7 383.2,1175.6 384.3,1177.2 385.3,1179.2 386.3,1180.4 387.3,1182.8 388.3,1183.4 389.4,1185.7 390.4,1187.3 391.4,1188.2 392.4,1190.0 393.4,1192.1 394.4,1193.0 395.5,1194.0 396.5,1195.9 397.5,1196.3 398.5,1198.0 399.5,1198.0 400.6,1198.8 401.6,1199.4 402.6,1200.3 403.6,1201.1 404.6,1201.4 405.7,1201.3 406.7,1202.6 407.7,1202.6 408.7,1202.5 409.7,1203.1 410.7,1202.0 411.8,1202.4 412.8,1201.3 413.8,1200.0 414.8,1198.8 415.8,1197.1 416.9,1196.6 417.9,1195.3 418.9,1195.0 419.9,1194.0 420.9,1193.3 421.9,1192.6 423.0,1192.1 424.0,1192.0 425.0,1190.7 426.0,1190.2 427.0,1189.6 428.1,1189.0 429.1,1188.9 430.1,1187.9 431.1,1186.5 432.1,1186.2 433.2,1185.9 434.2,1184.8 435.6,1182.9 435.6,1196.5 434.2,1199.5 433.2,1199.7 432.1,1201.4 431.1,1202.0 430.1,1201.6 429.1,1202.7 428.1,1203.6 427.0,1204.6 426.0,1204.5 425.0,1205.3 424.0,1205.7 423.0,1206.9 421.9,1207.5 420.9,1208.2 419.9,1209.3 418.9,1209.0 417.9,1210.3 416.9,1210.8 415.8,1212.8 414.8,1213.1 413.8,1214.0 412.8,1215.0 411.8,1217.0 410.7,1217.3 409.7,1217.9 408.7,1216.7 407.7,1217.1 406.7,1216.3 405.7,1216.0 404.6,1216.2 403.6,1215.6 402.6,1215.2 401.6,1213.7 400.6,1213.3 399.5,1213.0 398.5,1211.7 397.5,1211.1 396.5,1210.2 395.5,1208.3 394.4,1207.4 393.4,1205.7 392.4,1204.4 391.4,1202.7 390.4,1200.9 389.4,1199.8 388.3,1198.1 387.3,1197.3 386.3,1195.9 385.3,1194.3 384.3,1192.6 383.2,1190.8 382.2,1189.1 381.2,1187.7 380.2,1186.4 379.2,1183.9 378.2,1182.5 377.1,1181.4 376.1,1180.1 375.1,1178.0 374.1,1178.4 373.1,1177.7 371.6,1177.2 370.0,1178.1 368.4,1176.8 366.9,1173.4 365.5,1176.8 363.9,1183.3 362.3,1189.6 360.8,1192.4 359.8,1193.0 358.8,1193.7 357.8,1193.9 356.8,1194.0 355.7,1194.7 354.7,1194.8 353.7,1194.5 352.7,1194.9 351.7,1194.4 350.6,1193.9 349.6,1193.8 348.6,1194.0 347.6,1193.7 346.6,1193.3 345.6,1192.7 344.5,1193.1 343.5,1193.1 342.5,1192.5 341.5,1191.6 340.5,1191.5 339.4,1191.3 338.4,1190.6 337.4,1190.4 336.4,1190.1 335.4,1189.3 334.4,1188.9 333.3,1188.3 332.3,1188.1 331.3,1187.5 330.3,1185.8 329.3,1185.7 328.2,1184.9 326.8,1183.2 325.2,1184.3 324.2,1183.8 323.1,1184.3 322.1,1184.4 321.1,1185.3 320.1,1185.1 319.1,1184.3 318.1,1185.4 317.0,1185.2 316.0,1185.5 315.0,1186.6 314.0,1187.2 313.0,1186.8 311.9,1188.0 310.9,1187.2 309.9,1187.6 308.9,1188.8 307.9,1188.5 306.9,1189.4 305.8,1190.2 304.8,1190.8 303.8,1189.6 302.8,1190.3 301.8,1189.9 300.7,1188.7 299.7,1189.6 298.7,1190.3 297.7,1191.4 296.7,1192.0 295.6,1191.4 294.6,1191.4 293.6,1190.5 292.6,1189.5 291.6,1188.5 290.6,1188.4 289.5,1188.5 288.5,1188.7 287.5,1189.8 286.5,1191.4" fill="#f9e4c1"/>
<polygon points="468.3,1176.6 469.4,1178.3 470.4,1180.1 471.4,1178.2 472.4,1178.0 473.4,1177.4 474.4,1177.4 475.5,1177.2 476.5,1177.1 477.5,1176.9 478.5,1177.3 479.5,1177.6 480.6,1178.4 481.6,1178.2 482.6,1178.8 483.6,1178.5 484.6,1178.9 485.6,1178.3 486.7,1177.3 487.7,1178.4 488.7,1177.9 489.7,1178.8 490.7,1178.8 491.8,1179.9 492.8,1180.4 493.8,1180.1 494.8,1179.4 495.8,1179.6 496.9,1180.7 497.9,1180.4 498.9,1179.1 499.9,1180.3 500.9,1180.6 501.9,1179.5 503.0,1179.1 504.0,1179.6 505.0,1180.2 506.0,1180.6 507.0,1181.2 508.1,1182.0 509.1,1182.2 510.1,1182.1 511.1,1183.2 512.1,1183.4 513.1,1183.6 514.2,1182.9 515.2,1181.8 516.2,1180.9 517.2,1180.4 518.2,1179.1 519.3,1177.0 520.3,1176.0 521.3,1173.6 522.3,1172.8 523.3,1171.9 524.4,1172.1 525.4,1171.8 526.4,1172.1 527.4,1173.6 528.4,1173.1 529.4,1173.2 530.5,1172.5 531.5,1171.9 532.5,1172.3 533.5,1171.9 534.5,1172.7 535.6,1172.6 536.6,1172.3 537.6,1171.7 538.6,1171.9 539.6,1171.1 540.6,1171.4 541.7,1170.0 542.7,1169.0 543.7,1171.6 544.7,1173.5 545.7,1174.8 546.8,1175.3 547.8,1175.7 548.8,1175.8 549.8,1176.6 550.8,1177.4 551.9,1177.5 552.9,1178.2 553.9,1177.2 554.9,1178.0 555.9,1176.8 556.9,1177.2 558.0,1176.4 559.0,1175.1 560.0,1174.5 561.0,1173.8 562.0,1173.0 563.1,1171.1 564.1,1172.3 565.1,1173.4 566.1,1172.0 567.1,1172.5 568.2,1171.0 569.2,1168.7 570.2,1168.3 571.2,1167.9 572.2,1168.8 573.2,1169.8 574.3,1170.4 575.3,1170.9 576.3,1170.7 577.3,1171.5 578.3,1171.2 579.4,1171.8 580.4,1171.2 581.4,1171.9 582.4,1171.2 583.4,1171.1 584.4,1172.1 585.5,1171.5 586.5,1171.9 587.5,1172.4 588.5,1172.7 589.5,1172.4 590.6,1172.5 591.6,1173.2 592.6,1173.2 593.6,1173.1 594.6,1173.8 595.7,1173.9 596.7,1174.8 597.7,1173.9 598.7,1174.3 599.7,1174.5 600.7,1175.6 601.8,1176.6 602.8,1176.2 603.8,1175.2 604.8,1175.4 605.8,1174.9 606.9,1175.9 607.9,1175.9 608.9,1176.2 609.9,1176.2 610.9,1176.2 611.9,1176.1 613.0,1176.4 614.0,1177.2 615.0,1177.1 616.0,1178.0 617.4,1176.2 617.4,1194.3 616.0,1196.6 615.0,1196.2 614.0,1196.1 613.0,1195.0 611.9,1195.4 610.9,1195.8 609.9,1195.9 608.9,1195.3 607.9,1194.2 606.9,1194.8 605.8,1193.8 604.8,1194.0 603.8,1194.1 602.8,1195.4 601.8,1194.9 600.7,1194.9 599.7,1193.8 598.7,1193.3 597.7,1194.0 596.7,1193.2 595.7,1192.7 594.6,1192.3 593.6,1193.1 592.6,1191.9 591.6,1192.0 590.6,1192.3 589.5,1191.5 588.5,1191.7 587.5,1191.3 586.5,1191.7 585.5,1191.5 584.4,1190.7 583.4,1190.6 582.4,1190.2 581.4,1190.7 580.4,1190.3 579.4,1191.0 578.3,1190.3 577.3,1190.0 576.3,1190.0 575.3,1189.7 574.3,1189.6 573.2,1188.8 572.2,1188.7 571.2,1187.1 570.2,1187.6 569.2,1187.7 568.2,1188.9 567.1,1190.9 566.1,1191.5 565.1,1192.1 564.1,1191.5 563.1,1190.0 562.0,1192.1 561.0,1192.8 560.0,1193.3 559.0,1194.3 558.0,1195.5 556.9,1195.5 555.9,1196.3 554.9,1196.2 553.9,1196.5 552.9,1197.3 551.9,1196.0 550.8,1195.6 549.8,1195.5 548.8,1194.6 547.8,1194.6 546.8,1194.3 545.7,1193.7 544.7,1193.5 543.7,1191.3 542.7,1187.9 541.7,1189.3 540.6,1189.4 539.6,1190.7 538.6,1190.6 537.6,1191.1 536.6,1191.5 535.6,1191.2 534.5,1191.8 533.5,1191.6 532.5,1191.2 531.5,1191.3 530.5,1191.5 529.4,1192.2 528.4,1191.5 527.4,1192.4 526.4,1191.3 525.4,1191.1 524.4,1190.5 523.3,1190.5 522.3,1192.1 521.3,1193.5 520.3,1195.0 519.3,1196.2 518.2,1198.1 517.2,1199.0 516.2,1200.6 515.2,1200.8 514.2,1201.7 513.1,1202.3 512.1,1202.0 511.1,1202.1 510.1,1201.6 509.1,1201.1 508.1,1200.9 507.0,1200.7 506.0,1199.8 505.0,1198.4 504.0,1199.0 503.0,1198.2 501.9,1198.2 500.9,1199.4 499.9,1199.1 498.9,1198.8 497.9,1198.6 496.9,1199.1 495.8,1199.5 494.8,1198.9 493.8,1199.3 492.8,1198.6 491.8,1199.0 490.7,1198.1 489.7,1198.3 488.7,1197.9 487.7,1197.2 486.7,1197.2 485.6,1197.6 484.6,1197.0 483.6,1198.3 482.6,1197.5 481.6,1197.9 480.6,1196.9 479.5,1196.2 478.5,1195.7 477.5,1195.8 476.5,1196.8 475.5,1196.0 474.4,1196.3 473.4,1196.2 472.4,1197.0 471.4,1198.1 470.4,1199.0 469.4,1197.4 468.3,1196.0" fill="#f9e4c1"/>
<polygon points="646.3,1175.1 647.3,1174.1 648.3,1172.7 649.4,1172.2 650.4,1171.2 651.4,1171.9 652.4,1171.4 653.4,1171.4 654.4,1172.3 655.5,1171.8 656.5,1170.4 657.5,1170.2 658.5,1169.9 659.5,1171.9 660.6,1173.3 661.6,1174.0 662.6,1175.1 663.6,1175.0 664.6,1175.0 665.6,1175.7 666.7,1176.3 667.7,1176.0 668.7,1177.2 669.7,1177.4 670.7,1178.7 671.8,1178.1 672.8,1178.2 673.8,1178.6 674.8,1179.4 675.8,1179.2 676.9,1179.4 677.9,1180.1 678.9,1180.2 679.9,1180.0 680.9,1180.0 681.9,1181.2 683.0,1180.4 684.0,1181.2 685.0,1181.0 686.0,1181.4 687.0,1182.5 688.1,1181.5 689.1,1181.2 690.1,1180.8 691.1,1180.2 692.1,1179.4 693.1,1179.6 694.2,1178.0 695.2,1176.4 696.2,1176.1 697.2,1174.9 698.2,1174.2 699.3,1174.2 700.3,1174.2 701.3,1174.7 702.3,1173.9 703.3,1172.7 704.4,1171.9 705.4,1171.0 706.4,1170.7 707.4,1171.0 708.4,1171.7 709.4,1171.5 710.5,1171.7 711.5,1170.8 712.5,1170.8 713.5,1171.9 714.5,1172.4 715.6,1172.1 716.6,1172.6 717.6,1172.0 718.6,1171.8 719.6,1172.7 720.6,1172.4 721.7,1171.3 722.7,1171.9 723.7,1171.0 724.7,1170.6 725.7,1170.6 726.8,1170.5 727.8,1170.3 728.8,1170.1 729.8,1169.8 730.8,1170.2 731.9,1170.0 732.9,1169.6 733.9,1169.0 734.9,1169.5 735.9,1168.5 736.9,1168.2 738.0,1167.7 739.0,1167.7 740.0,1167.1 741.0,1166.3 742.0,1166.3 743.1,1165.0 744.1,1164.4 745.1,1165.2 746.1,1164.7 747.1,1162.9 748.2,1162.7 749.2,1162.8 750.2,1163.0 751.2,1163.7 752.2,1163.7 753.2,1164.4 754.3,1164.4 755.3,1164.9 756.3,1164.1 757.3,1165.2 758.3,1164.8 759.4,1166.1 760.4,1166.6 761.4,1167.5 762.4,1168.0 763.4,1168.2 764.4,1169.1 765.5,1170.0 766.5,1169.8 767.5,1170.8 768.5,1171.2 769.5,1171.7 770.6,1171.5 771.6,1172.4 772.6,1173.0 773.6,1173.1 774.6,1174.0 775.7,1174.6 776.7,1174.2 777.7,1174.6 778.7,1174.8 779.7,1175.0 780.7,1174.1 781.8,1173.8 782.8,1173.6 783.8,1173.7 784.8,1172.9 785.8,1173.8 786.9,1173.2 787.9,1173.7 788.9,1173.7 789.9,1172.9 790.9,1173.0 791.9,1173.5 793.0,1173.3 794.0,1174.3 795.0,1173.9 796.0,1174.0 797.0,1173.8 797.0,1187.3 796.0,1187.4 795.0,1187.5 794.0,1187.4 793.0,1187.4 791.9,1187.5 790.9,1186.6 789.9,1187.3 788.9,1186.6 787.9,1187.4 786.9,1186.6 785.8,1186.1 784.8,1186.9 783.8,1186.9 782.8,1187.0 781.8,1187.3 780.7,1188.1 779.7,1188.5 778.7,1188.7 777.7,1187.8 776.7,1188.0 775.7,1187.3 774.6,1187.5 773.6,1186.5 772.6,1186.4 771.6,1185.9 770.6,1185.1 769.5,1184.8 768.5,1184.5 767.5,1184.5 766.5,1183.8 765.5,1183.1 764.4,1182.8 763.4,1182.2 762.4,1180.6 761.4,1180.3 760.4,1179.8 759.4,1179.2 758.3,1178.7 757.3,1178.0 756.3,1177.4 755.3,1178.3 754.3,1177.4 753.2,1177.9 752.2,1176.4 751.2,1176.5 750.2,1176.4 749.2,1175.6 748.2,1175.8 747.1,1176.8 746.1,1178.1 745.1,1178.5 744.1,1178.8 743.1,1179.3 742.0,1179.9 741.0,1180.6 740.0,1180.8 739.0,1181.0 738.0,1181.5 736.9,1182.5 735.9,1182.4 734.9,1183.1 733.9,1182.7 732.9,1182.6 731.9,1183.0 730.8,1183.3 729.8,1184.3 728.8,1183.4 727.8,1183.5 726.8,1184.5 725.7,1184.5 724.7,1184.1 723.7,1184.4 722.7,1185.0 721.7,1185.7 720.6,1185.7 719.6,1185.1 718.6,1185.2 717.6,1185.5 716.6,1185.7 715.6,1185.2 714.5,1185.6 713.5,1184.6 712.5,1185.1 711.5,1184.8 710.5,1185.3 709.4,1184.7 708.4,1184.2 707.4,1184.6 706.4,1184.8 705.4,1184.6 704.4,1184.9 703.3,1186.3 702.3,1186.9 701.3,1188.3 700.3,1188.0 699.3,1187.4 698.2,1187.7 697.2,1188.5 696.2,1189.0 695.2,1190.0 694.2,1191.0 693.1,1192.1 692.1,1192.8 691.1,1194.3 690.1,1194.3 689.1,1194.0 688.1,1194.7 687.0,1194.9 686.0,1194.3 685.0,1193.4 684.0,1194.7 683.0,1194.8 681.9,1193.9 680.9,1194.0 679.9,1193.3 678.9,1193.0 677.9,1193.5 676.9,1192.4 675.8,1191.9 674.8,1192.4 673.8,1192.0 672.8,1190.9 671.8,1191.4 670.7,1191.8 669.7,1191.2 668.7,1190.6 667.7,1190.3 666.7,1188.6 665.6,1189.1 664.6,1188.3 663.6,1188.8 662.6,1188.0 661.6,1187.9 660.6,1186.9 659.5,1185.1 658.5,1183.9 657.5,1183.4 656.5,1184.3 655.5,1184.9 654.4,1185.1 653.4,1185.0 652.4,1184.6 651.4,1184.5 650.4,1185.1 649.4,1185.4 648.3,1186.7 647.3,1187.2 646.3,1187.9" fill="#f9e4c1"/>
<polygon points="827.2,1167.5 828.5,1169.6 829.8,1171.0 831.1,1169.1 832.4,1169.5 833.7,1169.1 834.7,1168.4 835.8,1168.5 836.8,1168.2 837.9,1169.5 838.9,1168.2 839.9,1169.2 841.0,1169.0 842.0,1166.8 843.0,1168.6 844.1,1167.4 845.4,1167.6 846.7,1167.1 848.0,1167.2 849.3,1166.8 850.6,1168.7 851.9,1168.7 852.9,1169.7 853.9,1168.5 855.0,1168.7 856.0,1169.5 857.0,1167.1 858.1,1166.0 859.1,1168.4 860.2,1167.1 861.2,1167.2 862.2,1167.5 863.3,1167.4 864.3,1165.6 865.3,1167.2 866.4,1165.1 867.4,1165.9 868.4,1166.3 869.5,1165.0 870.5,1165.3 871.6,1165.2 872.6,1165.2 873.6,1165.1 874.7,1166.0 875.7,1163.3 876.7,1165.7 877.8,1164.8 878.8,1163.8 879.9,1163.8 880.9,1162.5 881.9,1163.6 883.0,1163.7 884.0,1161.7 885.0,1161.6 886.1,1160.2 887.1,1159.8 888.2,1161.1 889.2,1160.2 890.2,1159.3 891.3,1159.6 892.3,1158.0 893.3,1157.2 894.4,1157.8 895.4,1157.9 896.4,1156.2 897.5,1156.8 898.5,1155.6 899.8,1154.1 901.1,1154.2 902.4,1154.4 903.7,1156.8 904.7,1156.6 905.8,1155.2 906.8,1153.9 907.9,1156.1 908.9,1155.0 909.9,1154.8 911.0,1154.9 912.0,1154.2 913.0,1155.0 914.1,1152.0 915.1,1154.9 916.2,1153.9 917.2,1153.2 918.2,1154.7 919.3,1154.7 920.3,1153.3 921.3,1151.0 922.4,1152.3 923.4,1151.2 924.4,1151.1 925.5,1151.6 926.5,1149.1 927.6,1150.9 928.6,1148.9 929.6,1148.4 930.7,1147.9 931.7,1148.3 932.7,1149.0 933.8,1150.0 934.8,1151.5 935.9,1149.1 936.9,1149.3 937.9,1149.5 939.0,1150.2 940.0,1149.2 941.0,1149.9 942.1,1148.1 943.1,1147.5 944.2,1148.8 945.2,1149.0 946.2,1146.7 947.3,1145.9 948.3,1147.3 949.3,1145.0 950.4,1147.0 951.4,1146.1 952.5,1144.2 953.5,1144.7 954.5,1143.4 955.6,1143.2 956.6,1144.1 957.6,1145.8 958.7,1146.0 959.7,1145.6 960.7,1145.4 961.8,1144.9 962.8,1144.3 963.9,1144.3 964.9,1143.5 965.9,1142.8 967.0,1144.2 968.0,1142.6 969.0,1142.9 970.1,1143.7 971.1,1144.5 972.2,1142.9 973.2,1143.5 974.2,1143.6 975.3,1143.3 976.3,1144.0 977.6,1146.6 977.6,1184.7 976.3,1180.9 975.3,1182.1 974.2,1180.3 973.2,1181.4 972.2,1179.7 971.1,1180.5 970.1,1181.5 969.0,1179.7 968.0,1182.5 967.0,1180.3 965.9,1181.4 964.9,1183.6 963.9,1182.1 962.8,1183.9 961.8,1182.0 960.7,1182.4 959.7,1181.8 958.7,1183.0 957.6,1184.0 956.6,1185.1 955.6,1183.4 954.5,1182.9 953.5,1184.4 952.5,1181.7 951.4,1181.5 950.4,1180.6 949.3,1181.7 948.3,1182.4 947.3,1184.2 946.2,1183.5 945.2,1183.7 944.2,1185.1 943.1,1185.4 942.1,1185.5 941.0,1185.1 940.0,1183.6 939.0,1185.5 937.9,1184.1 936.9,1184.6 935.9,1184.0 934.8,1182.1 933.8,1184.7 932.7,1182.1 931.7,1182.8 930.7,1184.5 929.6,1184.0 928.6,1182.6 927.6,1183.7 926.5,1183.1 925.5,1184.1 924.4,1183.6 923.4,1183.7 922.4,1184.1 921.3,1185.0 920.3,1186.2 919.3,1185.0 918.2,1186.5 917.2,1186.6 916.2,1187.0 915.1,1186.1 914.1,1186.1 913.0,1186.1 912.0,1186.9 911.0,1188.4 909.9,1187.3 908.9,1188.0 907.9,1187.2 906.8,1189.8 905.8,1188.9 904.7,1189.2 903.7,1189.2 902.4,1187.4 901.1,1187.0 899.8,1188.8 898.5,1193.6 897.5,1194.4 896.4,1191.7 895.4,1193.2 894.4,1192.8 893.3,1192.4 892.3,1191.7 891.3,1193.4 890.2,1193.0 889.2,1193.4 888.2,1192.3 887.1,1192.9 886.1,1193.0 885.0,1192.7 884.0,1194.6 883.0,1195.2 881.9,1194.0 880.9,1195.6 879.9,1195.2 878.8,1196.3 877.8,1195.1 876.7,1195.4 875.7,1197.6 874.7,1197.2 873.6,1196.1 872.6,1197.2 871.6,1197.4 870.5,1197.9 869.5,1198.4 868.4,1195.6 867.4,1197.1 866.4,1196.5 865.3,1196.9 864.3,1198.8 863.3,1199.1 862.2,1199.8 861.2,1199.5 860.2,1200.5 859.1,1199.1 858.1,1200.9 857.0,1200.9 856.0,1203.0 855.0,1201.6 853.9,1202.7 852.9,1202.3 851.9,1205.4 850.6,1204.0 849.3,1203.2 848.0,1203.9 846.7,1203.3 845.4,1204.1 844.1,1203.9 843.0,1203.7 842.0,1201.7 841.0,1201.4 839.9,1200.9 838.9,1200.6 837.9,1202.5 836.8,1203.0 835.8,1202.1 834.7,1203.5 833.7,1202.9 832.4,1203.6 831.1,1201.7 829.8,1199.5 828.5,1198.2 827.2,1195.4" fill="#f9e4c1"/>
<line x1="96.9" y1="1181.5" x2="259.6" y2="1181.5" stroke="#8a8a8a" stroke-width="1.9" stroke-dasharray="7.5 5"/>
<line x1="177.8" y1="1113.0" x2="177.8" y2="1265.6" stroke="#8a8a8a" stroke-width="1.7" stroke-dasharray="8 6"/>
<line x1="279.3" y1="1181.5" x2="444.4" y2="1181.5" stroke="#8a8a8a" stroke-width="1.9" stroke-dasharray="7.5 5"/>
<line x1="361.9" y1="1113.0" x2="361.9" y2="1265.6" stroke="#8a8a8a" stroke-width="1.7" stroke-dasharray="8 6"/>
<line x1="460.6" y1="1181.5" x2="625.6" y2="1181.5" stroke="#8a8a8a" stroke-width="1.9" stroke-dasharray="7.5 5"/>
<line x1="543.3" y1="1113.0" x2="543.3" y2="1265.6" stroke="#8a8a8a" stroke-width="1.7" stroke-dasharray="8 6"/>
<line x1="638.1" y1="1181.5" x2="804.8" y2="1181.5" stroke="#8a8a8a" stroke-width="1.9" stroke-dasharray="7.5 5"/>
<line x1="721.5" y1="1113.0" x2="721.5" y2="1265.6" stroke="#8a8a8a" stroke-width="1.7" stroke-dasharray="8 6"/>
<line x1="820.2" y1="1181.5" x2="985.4" y2="1181.5" stroke="#8a8a8a" stroke-width="1.9" stroke-dasharray="7.5 5"/>
<line x1="902.9" y1="1113.0" x2="902.9" y2="1265.6" stroke="#8a8a8a" stroke-width="1.7" stroke-dasharray="8 6"/>
<polyline points="103.3,1182.2 105.6,1182.6 107.8,1184.2 110.0,1184.6 112.2,1184.1 114.4,1182.9 116.7,1183.5 118.9,1182.9 121.1,1183.1 123.3,1182.3 125.6,1183.6 127.8,1184.5 130.0,1185.2 132.2,1187.0 134.4,1187.0 136.7,1188.2 138.9,1188.0 141.1,1187.7 143.3,1189.0 145.6,1187.7 147.8,1186.3 150.0,1185.2 152.2,1184.4 154.4,1182.1 156.7,1179.1 158.9,1176.8 161.1,1175.7 163.3,1173.0 165.6,1172.5 167.8,1172.5 170.0,1171.2 171.6,1170.3 172.9,1170.8 174.4,1176.0 176.0,1180.1 177.3,1188.5 178.9,1197.5 180.4,1202.3 182.2,1202.5 184.4,1202.6 186.7,1203.1 188.9,1205.5 191.1,1208.9 193.3,1211.5 195.6,1213.2 197.8,1215.5 200.0,1216.9 202.2,1218.3 204.4,1218.6 206.7,1217.7 208.9,1214.7 211.1,1210.0 213.3,1204.0 215.6,1199.7 217.8,1197.9 220.0,1195.7 222.2,1195.7 224.4,1194.3 226.7,1194.3 228.9,1193.6 231.1,1194.8 233.3,1195.3 235.6,1195.5 237.8,1196.0 240.0,1197.1 242.2,1196.4 244.4,1196.8 246.7,1197.4 248.9,1197.7 250.7,1194.0 251.6,1190.3" fill="none" stroke="#f39e2d" stroke-width="2.3" stroke-linejoin="round" stroke-linecap="round"/>
<polyline points="286.5,1183.7 288.5,1181.6 290.6,1181.3 292.6,1182.7 294.6,1183.6 296.7,1185.5 298.7,1184.0 300.7,1182.0 302.8,1182.9 304.8,1183.4 306.9,1181.9 308.9,1181.4 310.9,1180.9 313.0,1180.0 315.0,1178.7 317.0,1178.3 319.1,1177.6 321.1,1177.7 323.1,1176.7 325.2,1176.6 326.8,1175.5 328.2,1177.4 330.3,1178.7 332.3,1180.7 334.4,1181.2 336.4,1182.9 338.4,1183.2 340.5,1184.7 342.5,1185.3 344.5,1185.3 346.6,1186.1 348.6,1186.6 350.6,1186.7 352.7,1186.9 354.7,1187.2 356.8,1187.5 358.8,1186.7 360.8,1184.9 362.3,1182.4 363.9,1175.7 365.5,1168.9 366.9,1166.2 368.4,1169.3 370.0,1170.2 371.6,1169.8 373.1,1169.9 375.1,1171.2 377.1,1173.7 379.2,1176.8 381.2,1180.4 383.2,1183.1 385.3,1186.2 387.3,1189.9 389.4,1192.9 391.4,1195.5 393.4,1198.6 395.5,1201.1 397.5,1203.7 399.5,1205.5 401.6,1207.2 403.6,1208.0 405.7,1209.3 407.7,1210.0 409.7,1210.1 411.8,1209.2 413.8,1206.6 415.8,1205.1 417.9,1202.5 419.9,1201.8 421.9,1199.4 424.0,1198.4 426.0,1198.2 428.1,1196.7 430.1,1194.8 432.1,1193.8 434.2,1191.3 435.6,1189.5" fill="none" stroke="#f39e2d" stroke-width="2.3" stroke-linejoin="round" stroke-linecap="round"/>
<polyline points="468.3,1186.5 470.4,1189.4 472.4,1187.4 474.4,1186.8 476.5,1186.9 478.5,1186.5 480.6,1188.0 482.6,1188.3 484.6,1187.9 486.7,1187.3 488.7,1188.4 490.7,1188.2 492.8,1189.8 494.8,1189.2 496.9,1190.1 498.9,1189.5 500.9,1189.3 503.0,1188.7 505.0,1189.1 507.0,1190.9 509.1,1191.9 511.1,1192.6 513.1,1193.0 515.2,1191.9 517.2,1189.8 519.3,1186.6 521.3,1183.7 523.3,1181.5 525.4,1181.3 527.4,1182.7 529.4,1182.8 531.5,1181.7 533.5,1181.8 535.6,1181.7 537.6,1181.5 539.6,1181.1 541.7,1179.9 542.7,1178.8 543.7,1181.7 544.7,1183.4 546.8,1184.5 548.8,1185.6 550.8,1186.9 552.9,1187.1 554.9,1187.5 556.9,1186.3 559.0,1185.2 561.0,1182.8 563.1,1180.8 565.1,1182.3 567.1,1181.1 569.2,1178.5 571.2,1177.9 573.2,1179.4 575.3,1180.1 577.3,1180.5 579.4,1181.2 581.4,1181.1 583.4,1180.9 585.5,1181.1 587.5,1181.6 589.5,1182.8 591.6,1182.2 593.6,1183.2 595.7,1183.4 597.7,1184.1 599.7,1184.9 601.8,1185.9 603.8,1185.6 605.8,1185.0 607.9,1185.1 609.9,1186.4 611.9,1185.8 614.0,1186.4 616.0,1187.4 617.4,1185.2" fill="none" stroke="#f39e2d" stroke-width="2.3" stroke-linejoin="round" stroke-linecap="round"/>
<polyline points="646.3,1181.8 648.3,1179.5 650.4,1178.8 652.4,1178.0 654.4,1178.5 656.5,1177.3 658.5,1176.9 660.6,1179.8 662.6,1181.7 664.6,1181.8 666.7,1182.7 668.7,1184.3 670.7,1184.8 672.8,1184.1 674.8,1186.0 676.9,1185.7 678.9,1186.9 680.9,1187.1 683.0,1187.3 685.0,1186.7 687.0,1188.5 689.1,1187.7 691.1,1186.8 693.1,1185.5 695.2,1183.3 697.2,1182.2 699.3,1180.7 701.3,1180.9 703.3,1179.4 705.4,1177.7 707.4,1177.6 709.4,1178.2 711.5,1177.7 713.5,1178.4 715.6,1178.8 717.6,1178.4 719.6,1179.3 721.7,1178.4 723.7,1177.4 725.7,1177.3 727.8,1177.1 729.8,1176.8 731.9,1176.3 733.9,1175.8 735.9,1175.7 738.0,1174.7 740.0,1174.1 742.0,1172.5 744.1,1172.1 746.1,1170.5 748.2,1169.3 750.2,1169.7 752.2,1170.2 754.3,1171.0 756.3,1171.6 758.3,1171.5 760.4,1172.5 762.4,1174.1 764.4,1176.1 766.5,1177.1 768.5,1178.0 770.6,1178.3 772.6,1179.3 774.6,1180.6 776.7,1181.1 778.7,1181.9 780.7,1180.8 782.8,1180.3 784.8,1180.2 786.9,1180.2 788.9,1180.4 790.9,1180.1 793.0,1180.1 795.0,1180.6 797.0,1180.9" fill="none" stroke="#f39e2d" stroke-width="2.3" stroke-linejoin="round" stroke-linecap="round"/>
<polyline points="827.2,1181.6 829.0,1183.0 830.1,1184.3 831.1,1186.0 832.1,1187.9 833.2,1188.9 835.0,1188.7 836.8,1185.8 837.9,1185.8 838.9,1187.8 839.9,1185.9 841.0,1185.8 842.8,1183.8 844.6,1186.3 845.6,1184.3 846.7,1183.4 847.7,1184.7 848.7,1184.6 850.6,1187.9 852.4,1190.4 853.4,1189.0 854.4,1188.9 855.5,1185.4 856.5,1184.5 858.3,1183.4 859.6,1181.9 860.9,1182.7 862.2,1181.8 863.5,1183.0 864.8,1181.6 866.1,1181.0 867.4,1180.7 868.7,1179.8 870.5,1178.9 871.6,1180.7 872.6,1181.5 873.6,1181.8 874.7,1184.7 876.5,1183.9 878.3,1182.3 879.3,1181.6 880.4,1181.0 881.4,1180.3 882.4,1180.2 884.3,1182.1 886.1,1180.4 887.1,1178.8 888.2,1176.4 889.2,1175.3 890.2,1174.2 891.3,1175.6 892.3,1176.1 893.3,1176.2 894.4,1176.1 895.4,1177.0 896.4,1178.2 897.5,1177.8 898.5,1178.0 899.8,1174.5 901.1,1169.5 902.4,1169.3 903.7,1172.8 904.7,1173.0 905.8,1174.9 907.6,1174.9 909.4,1172.0 910.4,1173.0 911.5,1173.2 912.5,1173.1 913.6,1172.3 915.4,1170.1 917.2,1173.2 918.2,1173.3 919.3,1174.4 920.3,1171.9 921.3,1170.8 923.2,1168.1 925.0,1165.8 926.5,1163.7 928.3,1167.6 930.2,1168.5 931.2,1168.2 932.2,1166.8 933.3,1167.6 934.3,1166.2 936.1,1168.6 937.9,1165.8 939.0,1165.8 940.0,1166.6 941.0,1167.9 942.1,1168.1 943.9,1170.4 945.7,1171.0 946.7,1169.5 947.8,1167.1 948.8,1166.4 949.9,1164.1 951.7,1161.6 953.0,1165.4 954.0,1167.0 955.0,1167.3 956.9,1168.8 958.7,1168.7 959.7,1167.2 960.7,1166.0 961.8,1165.8 962.8,1165.0 964.6,1163.7 966.5,1162.1 967.5,1161.4 968.5,1160.3 969.8,1158.6 971.6,1160.5 973.2,1161.3 975.0,1160.7 976.3,1161.9 977.6,1168.0" fill="none" stroke="#f39e2d" stroke-width="2.3" stroke-linejoin="round" stroke-linecap="round"/>
<line x1="96.9" y1="1112.5" x2="96.9" y2="1266.8" stroke="#111" stroke-width="2.3"/>
<line x1="94.2" y1="1120.8" x2="96.9" y2="1120.8" stroke="#111" stroke-width="1.4"/>
<line x1="94.2" y1="1181.5" x2="96.9" y2="1181.5" stroke="#111" stroke-width="1.4"/>
<line x1="94.2" y1="1242.3" x2="96.9" y2="1242.3" stroke="#111" stroke-width="1.4"/>
<text x="89.8" y="1126.7" font-size="16.5" text-anchor="end" textLength="26.0" lengthAdjust="spacingAndGlyphs">0.4</text>
<text x="78.2" y="1187.5" font-size="16.5" text-anchor="end" textLength="9.3" lengthAdjust="spacingAndGlyphs">0</text>
<text x="89.8" y="1248.3" font-size="16.5" text-anchor="end" textLength="31.3" lengthAdjust="spacingAndGlyphs">-0.4</text>
<text x="54.0" y="1181.5" font-size="16.5" text-anchor="middle" textLength="18.5" lengthAdjust="spacingAndGlyphs" transform="rotate(-90 54.0 1181.5)">zF</text>
<line x1="95.7" y1="1265.6" x2="259.6" y2="1265.6" stroke="#111" stroke-width="2.4"/>
<line x1="104.4" y1="1265.6" x2="104.4" y2="1268.6" stroke="#111" stroke-width="1.6"/>
<line x1="177.8" y1="1265.6" x2="177.8" y2="1268.6" stroke="#111" stroke-width="1.6"/>
<line x1="251.8" y1="1265.6" x2="251.8" y2="1268.6" stroke="#111" stroke-width="1.6"/>
<line x1="279.3" y1="1265.6" x2="444.4" y2="1265.6" stroke="#111" stroke-width="2.4"/>
<line x1="289.9" y1="1265.6" x2="289.9" y2="1268.6" stroke="#111" stroke-width="1.6"/>
<line x1="361.9" y1="1265.6" x2="361.9" y2="1268.6" stroke="#111" stroke-width="1.6"/>
<line x1="436.8" y1="1265.6" x2="436.8" y2="1268.6" stroke="#111" stroke-width="1.6"/>
<line x1="460.6" y1="1265.6" x2="625.6" y2="1265.6" stroke="#111" stroke-width="2.4"/>
<line x1="468.7" y1="1265.6" x2="468.7" y2="1268.6" stroke="#111" stroke-width="1.6"/>
<line x1="543.3" y1="1265.6" x2="543.3" y2="1268.6" stroke="#111" stroke-width="1.6"/>
<line x1="618.1" y1="1265.6" x2="618.1" y2="1268.6" stroke="#111" stroke-width="1.6"/>
<line x1="638.1" y1="1265.6" x2="804.8" y2="1265.6" stroke="#111" stroke-width="2.4"/>
<line x1="646.3" y1="1265.6" x2="646.3" y2="1268.6" stroke="#111" stroke-width="1.6"/>
<line x1="721.5" y1="1265.6" x2="721.5" y2="1268.6" stroke="#111" stroke-width="1.6"/>
<line x1="796.6" y1="1265.6" x2="796.6" y2="1268.6" stroke="#111" stroke-width="1.6"/>
<line x1="820.2" y1="1265.6" x2="985.4" y2="1265.6" stroke="#111" stroke-width="2.4"/>
<line x1="828.0" y1="1265.6" x2="828.0" y2="1268.6" stroke="#111" stroke-width="1.6"/>
<line x1="902.9" y1="1265.6" x2="902.9" y2="1268.6" stroke="#111" stroke-width="1.6"/>
<line x1="977.6" y1="1265.6" x2="977.6" y2="1268.6" stroke="#111" stroke-width="1.6"/>
<text x="195.0" y="1079.3" font-size="13.8" textLength="64.3" lengthAdjust="spacingAndGlyphs">(n = 1462)</text>
<text x="377.8" y="1082.0" font-size="13.8" textLength="62.8" lengthAdjust="spacingAndGlyphs">(n = 1462)</text>
<text x="562.9" y="1076.7" font-size="13.8" textLength="63.8" lengthAdjust="spacingAndGlyphs">(n = 1090)</text>
<text x="742.9" y="1077.8" font-size="13.8" textLength="63.4" lengthAdjust="spacingAndGlyphs">(n = 2561)</text>
<text x="932.0" y="1078.7" font-size="13.8" textLength="56.0" lengthAdjust="spacingAndGlyphs">(n = 350)</text>
<text x="196.7" y="1259.6" font-size="13.8" textLength="63.3" lengthAdjust="spacingAndGlyphs">(n = 1462)</text>
<text x="379.8" y="1258.9" font-size="13.8" textLength="63.5" lengthAdjust="spacingAndGlyphs">(n = 1462)</text>
<text x="561.6" y="1259.3" font-size="13.8" textLength="63.2" lengthAdjust="spacingAndGlyphs">(n = 1090)</text>
<text x="740.0" y="1259.0" font-size="13.8" textLength="63.6" lengthAdjust="spacingAndGlyphs">(n = 2561)</text>
<text x="926.5" y="1260.8" font-size="13.8" textLength="55.5" lengthAdjust="spacingAndGlyphs">(n = 350)</text>
<text x="95.1" y="1285.3" font-size="16.3" textLength="25.3" lengthAdjust="spacingAndGlyphs">-10</text>
<text x="176.0" y="1285.3" font-size="16.3" textLength="8.9" lengthAdjust="spacingAndGlyphs">0</text>
<text x="248.9" y="1285.3" font-size="16.3" textLength="17.8" lengthAdjust="spacingAndGlyphs">10</text>
<text x="279.4" y="1285.3" font-size="16.3" textLength="24.4" lengthAdjust="spacingAndGlyphs">-10</text>
<text x="359.8" y="1285.3" font-size="16.3" textLength="8.6" lengthAdjust="spacingAndGlyphs">0</text>
<text x="432.1" y="1285.3" font-size="16.3" textLength="17.3" lengthAdjust="spacingAndGlyphs">10</text>
<text x="460.6" y="1285.3" font-size="16.3" textLength="26.1" lengthAdjust="spacingAndGlyphs">-10</text>
<text x="540.6" y="1285.3" font-size="16.3" textLength="9.2" lengthAdjust="spacingAndGlyphs">0</text>
<text x="613.0" y="1285.3" font-size="16.3" textLength="17.3" lengthAdjust="spacingAndGlyphs">10</text>
<text x="633.3" y="1285.3" font-size="16.3" textLength="26.5" lengthAdjust="spacingAndGlyphs">-10</text>
<text x="719.2" y="1285.3" font-size="16.3" textLength="8.6" lengthAdjust="spacingAndGlyphs">0</text>
<text x="791.0" y="1285.3" font-size="16.3" textLength="18.3" lengthAdjust="spacingAndGlyphs">10</text>
<text x="818.7" y="1285.3" font-size="16.3" textLength="25.9" lengthAdjust="spacingAndGlyphs">-10</text>
<text x="899.8" y="1285.3" font-size="16.3" textLength="8.6" lengthAdjust="spacingAndGlyphs">0</text>
<text x="971.1" y="1285.3" font-size="16.3" textLength="18.7" lengthAdjust="spacingAndGlyphs">10</text>
<text x="111.6" y="1305.2" font-size="15.6" textLength="139.1" lengthAdjust="spacingAndGlyphs">Time from event (s)</text>
<text x="293.6" y="1305.2" font-size="15.6" textLength="139.6" lengthAdjust="spacingAndGlyphs">Time from event (s)</text>
<text x="478.5" y="1305.2" font-size="15.6" textLength="140.2" lengthAdjust="spacingAndGlyphs">Time from event (s)</text>
<text x="655.5" y="1305.2" font-size="15.6" textLength="140.5" lengthAdjust="spacingAndGlyphs">Time from event (s)</text>
<text x="836.3" y="1305.2" font-size="15.6" textLength="140.0" lengthAdjust="spacingAndGlyphs">Time from event (s)</text>
<text x="16.0" y="1080.6" font-size="15.5" text-anchor="middle" textLength="54.4" lengthAdjust="spacingAndGlyphs" transform="rotate(-90 16.0 1080.6)">Stage 3</text>
<text x="36.3" y="1082.7" font-size="15.5" text-anchor="middle" textLength="91.8" lengthAdjust="spacingAndGlyphs" transform="rotate(-90 36.3 1082.7)">Last Session</text>
<rect x="967.3" y="924.1" width="19.6" height="6.5" fill="#5582c5"/>
<rect x="968.5" y="936.8" width="16.9" height="4.2" fill="#dde6f2" stroke="#c2d2ea" stroke-width="1.0"/>
<text x="990.5" y="930.7" font-size="14.5" textLength="61.5" lengthAdjust="spacingAndGlyphs">mPFC NA</text>
<text x="990.5" y="944.5" font-size="14.5" textLength="48.3" lengthAdjust="spacingAndGlyphs">95 % CI</text>
<rect x="962.2" y="1113.9" width="19.7" height="6.5" fill="#f39e2d"/>
<rect x="963.5" y="1126.6" width="16.9" height="4.2" fill="#fbebd0" stroke="#f6d9a8" stroke-width="1.0"/>
<text x="985.6" y="1120.6" font-size="14.5" textLength="40.5" lengthAdjust="spacingAndGlyphs">LH NA</text>
<text x="986.2" y="1134.0" font-size="14.5" textLength="48.4" lengthAdjust="spacingAndGlyphs">95 % CI</text>
</svg>
</body></html>
